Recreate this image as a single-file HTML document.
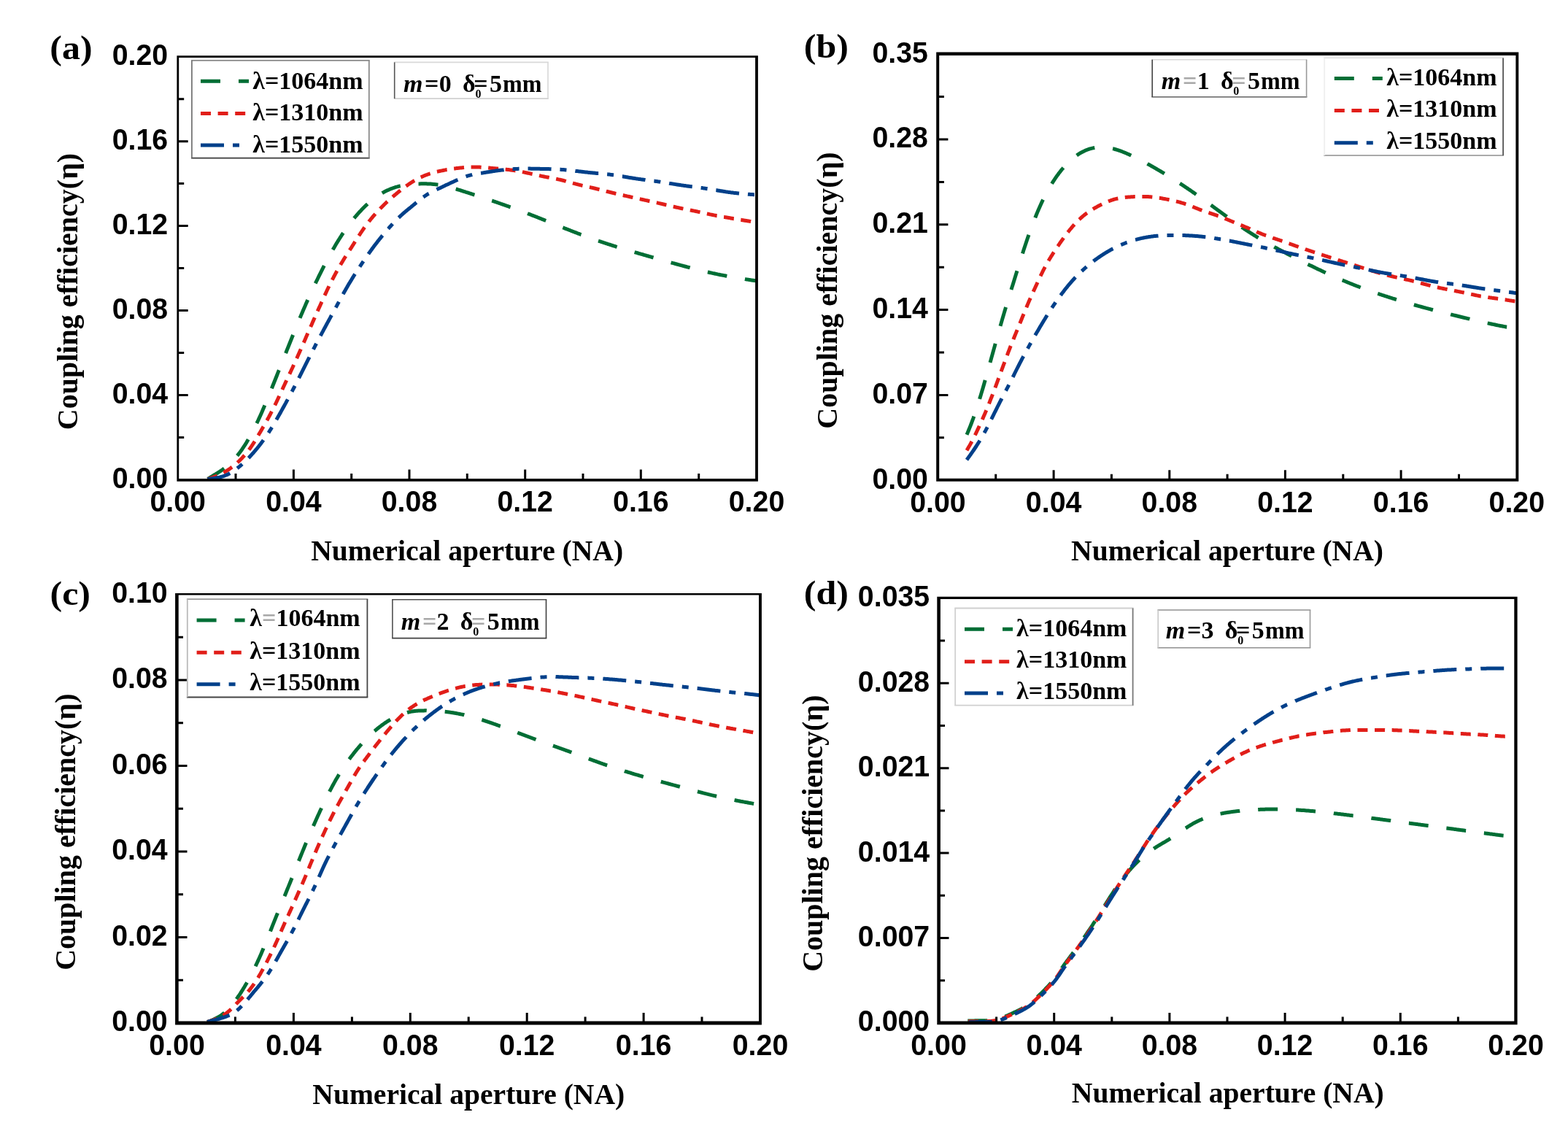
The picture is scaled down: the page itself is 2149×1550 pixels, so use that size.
<!DOCTYPE html>
<html><head><meta charset="utf-8"><title>Coupling efficiency vs numerical aperture</title>
<style>
html,body{margin:0;padding:0;background:#fff;}
svg{display:block;filter:blur(0.5px);}
.tl{font-family:"Liberation Sans",sans-serif;font-weight:bold;font-size:39.3px;fill:#000;}
.al{font-family:"Liberation Serif",serif;font-weight:bold;font-size:40px;fill:#000;}
.xl{font-family:"Liberation Serif",serif;font-weight:bold;font-size:39.6px;fill:#000;}
.pl{font-family:"Liberation Serif",serif;font-weight:bold;font-size:50px;fill:#000;}
.lg{font-family:"Liberation Serif",serif;font-weight:bold;font-size:34px;fill:#000;}
.an{font-family:"Liberation Serif",serif;font-weight:bold;font-size:34px;fill:#000;}
.gq{fill:#a8a8a8;}
.sub{font-family:"Liberation Serif",serif;font-weight:bold;font-size:16px;fill:#000;}
</style></head><body>
<svg width="2149" height="1550" viewBox="0 0 2149 1550">
<defs><clipPath id="clipa"><rect x="243.7" y="77.7" width="793.3" height="579.8"/></clipPath><clipPath id="clipb"><rect x="1285.4" y="74.2" width="793.4" height="584"/></clipPath><clipPath id="clipc"><rect x="242.5" y="814.5" width="799.5" height="587.5"/></clipPath><clipPath id="clipd"><rect x="1286.5" y="819.8" width="791" height="582.2"/></clipPath></defs>
<rect width="100%" height="100%" fill="#fff"/>
<g clip-path="url(#clipa)">
<path d="M284.5 656.5 L285.5 655.9 L286.5 655.3 L287.5 654.7 L288.5 654.1 L289.5 653.5 L290.5 652.9 L291.5 652.2 L292.5 651.6 L293.5 651 L294.5 650.4 L295.5 649.8 L296.5 649.2 L297.5 648.6 L298.5 648 L299.5 647.3 L300.5 646.7 L301.5 646 L302.5 645.4 L303.5 644.7 L304.5 644 L305.5 643.3 L306.5 642.5 L307.5 641.8 L308.5 641 L309.5 640.2 L310.5 639.4 L311.5 638.6 L312.5 637.7 L313.5 636.8 L314.5 635.9 L315.5 635 L316.5 634 L317.5 633 L318.5 632 L319.5 631 L320.5 629.9 L321.5 628.8 L322.5 627.7 L323.5 626.5 L324.5 625.3 L325.5 624.1 L326.5 622.9 L327.5 621.6 L328.5 620.3 L329.5 618.9 L330.5 617.6 L331.5 616.2 L332.5 614.7 L333.5 613.2 L334.5 611.7 L335.5 610.2 L336.5 608.6 L337.5 607 L338.5 605.3 L339.5 603.6 L340.5 601.9 L341.5 600.2 L342.5 598.4 L343.5 596.6 L344.5 594.7 L345.5 592.8 L346.5 590.9 L347.5 589 L348.5 587 L349.5 585 L350.5 583 L351.5 580.9 L352.5 578.8 L353.5 576.7 L354.5 574.5 L355.5 572.4 L356.5 570.2 L357.5 567.9 L358.5 565.7 L359.5 563.4 L360.5 561.1 L361.5 558.8 L362.5 556.4 L363.5 554 L364.5 551.7 L365.5 549.3 L366.5 546.8 L367.5 544.4 L368.5 541.9 L369.5 539.5 L370.5 537 L371.5 534.5 L372.5 532 L373.5 529.5 L374.5 527 L375.5 524.5 L376.5 522 L377.5 519.5 L378.5 517 L379.5 514.5 L380.5 511.9 L381.5 509.4 L382.5 506.9 L383.5 504.4 L384.5 501.9 L385.5 499.4 L386.5 496.8 L387.5 494.3 L388.5 491.8 L389.5 489.3 L390.5 486.8 L391.5 484.3 L392.5 481.8 L393.5 479.2 L394.5 476.7 L395.5 474.2 L396.5 471.7 L397.5 469.2 L398.5 466.7 L399.5 464.2 L400.5 461.7 L401.5 459.2 L402.5 456.8 L403.5 454.3 L404.5 451.8 L405.5 449.4 L406.5 446.9 L407.5 444.5 L408.5 442 L409.5 439.6 L410.5 437.2 L411.5 434.8 L412.5 432.4 L413.5 430 L414.5 427.7 L415.5 425.3 L416.5 423 L417.5 420.7 L418.5 418.4 L419.5 416.1 L420.5 413.9 L421.5 411.6 L422.5 409.4 L423.5 407.2 L424.5 405 L425.5 402.8 L426.5 400.6 L427.5 398.5 L428.5 396.3 L429.5 394.2 L430.5 392.1 L431.5 390 L432.5 387.9 L433.5 385.8 L434.5 383.8 L435.5 381.7 L436.5 379.7 L437.5 377.6 L438.5 375.6 L439.5 373.6 L440.5 371.6 L441.5 369.6 L442.5 367.7 L443.5 365.7 L444.5 363.8 L445.5 361.8 L446.5 359.9 L447.5 358 L448.5 356.1 L449.5 354.3 L450.5 352.4 L451.5 350.6 L452.5 348.8 L453.5 347 L454.5 345.2 L455.5 343.4 L456.5 341.6 L457.5 339.9 L458.5 338.2 L459.5 336.5 L460.5 334.8 L461.5 333.1 L462.5 331.5 L463.5 329.9 L464.5 328.3 L465.5 326.7 L466.5 325.1 L467.5 323.6 L468.5 322 L469.5 320.5 L470.5 319.1 L471.5 317.6 L472.5 316.1 L473.5 314.7 L474.5 313.3 L475.5 311.9 L476.5 310.5 L477.5 309.1 L478.5 307.8 L479.5 306.5 L480.5 305.2 L481.5 303.9 L482.5 302.6 L483.5 301.4 L484.5 300.1 L485.5 298.9 L486.5 297.7 L487.5 296.5 L488.5 295.3 L489.5 294.2 L490.5 293 L491.5 291.9 L492.5 290.8 L493.5 289.7 L494.5 288.7 L495.5 287.6 L496.5 286.6 L497.5 285.6 L498.5 284.6 L499.5 283.6 L500.5 282.6 L501.5 281.6 L502.5 280.7 L503.5 279.8 L504.5 278.9 L505.5 278 L506.5 277.1 L507.5 276.3 L508.5 275.4 L509.5 274.6 L510.5 273.8 L511.5 273 L512.5 272.2 L513.5 271.5 L514.5 270.7 L515.5 270 L516.5 269.3 L517.5 268.6 L518.5 267.9 L519.5 267.3 L520.5 266.6 L521.5 266 L522.5 265.4 L523.5 264.8 L524.5 264.2 L525.5 263.7 L526.5 263.1 L527.5 262.6 L528.5 262.1 L529.5 261.6 L530.5 261.1 L531.5 260.6 L532.5 260.2 L533.5 259.7 L534.5 259.3 L535.5 258.9 L536.5 258.5 L537.5 258.1 L538.5 257.8 L539.5 257.4 L540.5 257.1 L541.5 256.7 L542.5 256.4 L543.5 256.1 L544.5 255.9 L545.5 255.6 L546.5 255.3 L547.5 255.1 L548.5 254.8 L549.5 254.6 L550.5 254.4 L551.5 254.2 L552.5 254 L553.5 253.8 L554.5 253.6 L555.5 253.5 L556.5 253.3 L557.5 253.2 L558.5 253.1 L559.5 252.9 L560.5 252.8 L561.5 252.7 L562.5 252.6 L563.5 252.5 L564.5 252.4 L565.5 252.3 L566.5 252.3 L567.5 252.2 L568.5 252.1 L569.5 252.1 L570.5 252 L571.5 252 L572.5 252 L573.5 251.9 L574.5 251.9 L575.5 251.9 L576.5 251.8 L577.5 251.8 L578.5 251.8 L579.5 251.8 L580.5 251.8 L581.5 251.8 L582.5 251.8 L583.5 251.8 L584.5 251.8 L585.5 251.9 L586.5 251.9 L587.5 251.9 L588.5 252 L589.5 252 L590.5 252.1 L591.5 252.2 L592.5 252.3 L593.5 252.4 L594.5 252.4 L595.5 252.6 L596.5 252.7 L597.5 252.8 L598.5 252.9 L599.5 253.1 L600.5 253.2 L601.5 253.4 L602.5 253.5 L603.5 253.7 L604.5 253.9 L605.5 254.1 L606.5 254.3 L607.5 254.5 L608.5 254.7 L609.5 254.9 L610.5 255.1 L611.5 255.4 L612.5 255.6 L613.5 255.9 L614.5 256.1 L615.5 256.4 L616.5 256.6 L617.5 256.9 L618.5 257.2 L619.5 257.4 L620.5 257.7 L621.5 258 L622.5 258.3 L623.5 258.6 L624.5 258.9 L625.5 259.2 L626.5 259.5 L627.5 259.8 L628.5 260.1 L629.5 260.4 L630.5 260.7 L631.5 261 L632.5 261.3 L633.5 261.7 L634.5 262 L635.5 262.3 L636.5 262.6 L637.5 262.9 L638.5 263.3 L639.5 263.6 L640.5 263.9 L641.5 264.2 L642.5 264.5 L643.5 264.9 L644.5 265.2 L645.5 265.5 L646.5 265.8 L647.5 266.2 L648.5 266.5 L649.5 266.8 L650.5 267.1 L651.5 267.5 L652.5 267.8 L653.5 268.1 L654.5 268.4 L655.5 268.8 L656.5 269.1 L657.5 269.4 L658.5 269.8 L659.5 270.1 L660.5 270.4 L661.5 270.8 L662.5 271.1 L663.5 271.4 L664.5 271.8 L665.5 272.1 L666.5 272.4 L667.5 272.8 L668.5 273.1 L669.5 273.4 L670.5 273.8 L671.5 274.1 L672.5 274.5 L673.5 274.8 L674.5 275.1 L675.5 275.5 L676.5 275.8 L677.5 276.2 L678.5 276.5 L679.5 276.8 L680.5 277.2 L681.5 277.5 L682.5 277.9 L683.5 278.2 L684.5 278.6 L685.5 278.9 L686.5 279.3 L687.5 279.6 L688.5 280 L689.5 280.3 L690.5 280.7 L691.5 281 L692.5 281.4 L693.5 281.7 L694.5 282.1 L695.5 282.4 L696.5 282.8 L697.5 283.2 L698.5 283.5 L699.5 283.9 L700.5 284.2 L701.5 284.6 L702.5 285 L703.5 285.3 L704.5 285.7 L705.5 286.1 L706.5 286.4 L707.5 286.8 L708.5 287.2 L709.5 287.5 L710.5 287.9 L711.5 288.3 L712.5 288.6 L713.5 289 L714.5 289.4 L715.5 289.7 L716.5 290.1 L717.5 290.5 L718.5 290.9 L719.5 291.2 L720.5 291.6 L721.5 292 L722.5 292.4 L723.5 292.8 L724.5 293.1 L725.5 293.5 L726.5 293.9 L727.5 294.3 L728.5 294.7 L729.5 295.1 L730.5 295.5 L731.5 295.8 L732.5 296.2 L733.5 296.6 L734.5 297 L735.5 297.4 L736.5 297.8 L737.5 298.2 L738.5 298.6 L739.5 299 L740.5 299.4 L741.5 299.8 L742.5 300.2 L743.5 300.6 L744.5 301 L745.5 301.4 L746.5 301.8 L747.5 302.2 L748.5 302.6 L749.5 303 L750.5 303.4 L751.5 303.8 L752.5 304.2 L753.5 304.6 L754.5 305 L755.5 305.4 L756.5 305.8 L757.5 306.2 L758.5 306.6 L759.5 307 L760.5 307.4 L761.5 307.8 L762.5 308.2 L763.5 308.6 L764.5 309 L765.5 309.4 L766.5 309.8 L767.5 310.3 L768.5 310.7 L769.5 311.1 L770.5 311.5 L771.5 311.9 L772.5 312.3 L773.5 312.7 L774.5 313.1 L775.5 313.5 L776.5 313.8 L777.5 314.2 L778.5 314.6 L779.5 315 L780.5 315.4 L781.5 315.8 L782.5 316.2 L783.5 316.6 L784.5 317 L785.5 317.4 L786.5 317.8 L787.5 318.2 L788.5 318.5 L789.5 318.9 L790.5 319.3 L791.5 319.7 L792.5 320.1 L793.5 320.4 L794.5 320.8 L795.5 321.2 L796.5 321.6 L797.5 321.9 L798.5 322.3 L799.5 322.7 L800.5 323.1 L801.5 323.4 L802.5 323.8 L803.5 324.2 L804.5 324.5 L805.5 324.9 L806.5 325.3 L807.5 325.6 L808.5 326 L809.5 326.3 L810.5 326.7 L811.5 327.1 L812.5 327.4 L813.5 327.8 L814.5 328.1 L815.5 328.5 L816.5 328.8 L817.5 329.2 L818.5 329.5 L819.5 329.9 L820.5 330.2 L821.5 330.6 L822.5 330.9 L823.5 331.2 L824.5 331.6 L825.5 331.9 L826.5 332.2 L827.5 332.6 L828.5 332.9 L829.5 333.2 L830.5 333.6 L831.5 333.9 L832.5 334.2 L833.5 334.6 L834.5 334.9 L835.5 335.2 L836.5 335.5 L837.5 335.8 L838.5 336.2 L839.5 336.5 L840.5 336.8 L841.5 337.1 L842.5 337.4 L843.5 337.7 L844.5 338.1 L845.5 338.4 L846.5 338.7 L847.5 339 L848.5 339.3 L849.5 339.6 L850.5 339.9 L851.5 340.2 L852.5 340.5 L853.5 340.8 L854.5 341.1 L855.5 341.4 L856.5 341.7 L857.5 342 L858.5 342.3 L859.5 342.6 L860.5 342.9 L861.5 343.2 L862.5 343.5 L863.5 343.8 L864.5 344.1 L865.5 344.4 L866.5 344.7 L867.5 345 L868.5 345.3 L869.5 345.5 L870.5 345.8 L871.5 346.1 L872.5 346.4 L873.5 346.7 L874.5 347 L875.5 347.3 L876.5 347.6 L877.5 347.9 L878.5 348.2 L879.5 348.4 L880.5 348.7 L881.5 349 L882.5 349.3 L883.5 349.6 L884.5 349.9 L885.5 350.2 L886.5 350.5 L887.5 350.7 L888.5 351 L889.5 351.3 L890.5 351.6 L891.5 351.9 L892.5 352.2 L893.5 352.5 L894.5 352.7 L895.5 353 L896.5 353.3 L897.5 353.6 L898.5 353.9 L899.5 354.2 L900.5 354.5 L901.5 354.7 L902.5 355 L903.5 355.3 L904.5 355.6 L905.5 355.9 L906.5 356.2 L907.5 356.4 L908.5 356.7 L909.5 357 L910.5 357.3 L911.5 357.6 L912.5 357.9 L913.5 358.1 L914.5 358.4 L915.5 358.7 L916.5 359 L917.5 359.3 L918.5 359.5 L919.5 359.8 L920.5 360.1 L921.5 360.4 L922.5 360.6 L923.5 360.9 L924.5 361.2 L925.5 361.5 L926.5 361.7 L927.5 362 L928.5 362.3 L929.5 362.6 L930.5 362.8 L931.5 363.1 L932.5 363.4 L933.5 363.7 L934.5 363.9 L935.5 364.2 L936.5 364.5 L937.5 364.7 L938.5 365 L939.5 365.3 L940.5 365.5 L941.5 365.8 L942.5 366.1 L943.5 366.3 L944.5 366.6 L945.5 366.8 L946.5 367.1 L947.5 367.4 L948.5 367.6 L949.5 367.9 L950.5 368.1 L951.5 368.4 L952.5 368.7 L953.5 368.9 L954.5 369.2 L955.5 369.4 L956.5 369.7 L957.5 369.9 L958.5 370.2 L959.5 370.4 L960.5 370.6 L961.5 370.9 L962.5 371.1 L963.5 371.4 L964.5 371.6 L965.5 371.8 L966.5 372.1 L967.5 372.3 L968.5 372.6 L969.5 372.8 L970.5 373 L971.5 373.2 L972.5 373.5 L973.5 373.7 L974.5 373.9 L975.5 374.1 L976.5 374.4 L977.5 374.6 L978.5 374.8 L979.5 375 L980.5 375.2 L981.5 375.4 L982.5 375.6 L983.5 375.9 L984.5 376.1 L985.5 376.3 L986.5 376.5 L987.5 376.7 L988.5 376.9 L989.5 377.1 L990.5 377.2 L991.5 377.4 L992.5 377.6 L993.5 377.8 L994.5 378 L995.5 378.2 L996.5 378.4 L997.5 378.6 L998.5 378.7 L999.5 378.9 L1000.5 379.1 L1001.5 379.3 L1002.5 379.5 L1003.5 379.6 L1004.5 379.8 L1005.5 380 L1006.5 380.1 L1007.5 380.3 L1008.5 380.5 L1009.5 380.7 L1010.5 380.8 L1011.5 381 L1012.5 381.2 L1013.5 381.3 L1014.5 381.5 L1015.5 381.6 L1016.5 381.8 L1017.5 382 L1018.5 382.1 L1019.5 382.3 L1020.5 382.4 L1021.5 382.6 L1022.5 382.8 L1023.5 382.9 L1024.5 383.1 L1025.5 383.2 L1026.5 383.4 L1027.5 383.5 L1028.5 383.7 L1029.5 383.9 L1030.5 384 L1031.5 384.2 L1032.5 384.3 L1033.5 384.5 L1034.5 384.6 L1035.5 384.8 L1036.5 384.9 L1037 385" fill="none" stroke="#006E35" stroke-width="5.0" stroke-dasharray="27 25" stroke-linejoin="round"/>
<path d="M284.5 656.6 L285.5 656.3 L286.5 656 L287.5 655.6 L288.5 655.3 L289.5 655 L290.5 654.6 L291.5 654.3 L292.5 653.9 L293.5 653.5 L294.5 653.2 L295.5 652.8 L296.5 652.4 L297.5 652 L298.5 651.6 L299.5 651.1 L300.5 650.7 L301.5 650.2 L302.5 649.7 L303.5 649.3 L304.5 648.7 L305.5 648.2 L306.5 647.7 L307.5 647.1 L308.5 646.5 L309.5 645.9 L310.5 645.3 L311.5 644.7 L312.5 644.1 L313.5 643.4 L314.5 642.7 L315.5 642 L316.5 641.3 L317.5 640.5 L318.5 639.8 L319.5 639 L320.5 638.2 L321.5 637.4 L322.5 636.5 L323.5 635.6 L324.5 634.8 L325.5 633.9 L326.5 632.9 L327.5 632 L328.5 631 L329.5 630 L330.5 629 L331.5 628 L332.5 626.9 L333.5 625.8 L334.5 624.7 L335.5 623.6 L336.5 622.4 L337.5 621.2 L338.5 620 L339.5 618.7 L340.5 617.4 L341.5 616.1 L342.5 614.7 L343.5 613.3 L344.5 611.9 L345.5 610.4 L346.5 608.9 L347.5 607.3 L348.5 605.8 L349.5 604.2 L350.5 602.5 L351.5 600.9 L352.5 599.2 L353.5 597.5 L354.5 595.8 L355.5 594.1 L356.5 592.4 L357.5 590.7 L358.5 589 L359.5 587.3 L360.5 585.6 L361.5 583.9 L362.5 582.1 L363.5 580.4 L364.5 578.6 L365.5 576.8 L366.5 575.1 L367.5 573.2 L368.5 571.4 L369.5 569.5 L370.5 567.6 L371.5 565.7 L372.5 563.8 L373.5 561.8 L374.5 559.8 L375.5 557.8 L376.5 555.8 L377.5 553.8 L378.5 551.7 L379.5 549.6 L380.5 547.5 L381.5 545.4 L382.5 543.3 L383.5 541.1 L384.5 539 L385.5 536.8 L386.5 534.7 L387.5 532.5 L388.5 530.3 L389.5 528.2 L390.5 526 L391.5 523.9 L392.5 521.8 L393.5 519.6 L394.5 517.5 L395.5 515.4 L396.5 513.3 L397.5 511.1 L398.5 509 L399.5 506.8 L400.5 504.7 L401.5 502.5 L402.5 500.3 L403.5 498.1 L404.5 495.9 L405.5 493.7 L406.5 491.5 L407.5 489.3 L408.5 487 L409.5 484.8 L410.5 482.6 L411.5 480.3 L412.5 478 L413.5 475.8 L414.5 473.5 L415.5 471.2 L416.5 469 L417.5 466.7 L418.5 464.4 L419.5 462.1 L420.5 459.8 L421.5 457.5 L422.5 455.3 L423.5 453 L424.5 450.7 L425.5 448.4 L426.5 446.2 L427.5 443.9 L428.5 441.6 L429.5 439.4 L430.5 437.1 L431.5 434.9 L432.5 432.6 L433.5 430.4 L434.5 428.1 L435.5 425.9 L436.5 423.6 L437.5 421.4 L438.5 419.2 L439.5 416.9 L440.5 414.7 L441.5 412.5 L442.5 410.3 L443.5 408.1 L444.5 405.9 L445.5 403.7 L446.5 401.6 L447.5 399.5 L448.5 397.3 L449.5 395.2 L450.5 393.2 L451.5 391.1 L452.5 389.1 L453.5 387.1 L454.5 385.1 L455.5 383.2 L456.5 381.3 L457.5 379.3 L458.5 377.5 L459.5 375.6 L460.5 373.8 L461.5 371.9 L462.5 370.1 L463.5 368.4 L464.5 366.6 L465.5 364.9 L466.5 363.2 L467.5 361.5 L468.5 359.8 L469.5 358.2 L470.5 356.5 L471.5 354.9 L472.5 353.3 L473.5 351.7 L474.5 350.2 L475.5 348.6 L476.5 347 L477.5 345.5 L478.5 343.9 L479.5 342.4 L480.5 340.8 L481.5 339.3 L482.5 337.7 L483.5 336.1 L484.5 334.6 L485.5 333 L486.5 331.4 L487.5 329.8 L488.5 328.3 L489.5 326.7 L490.5 325.2 L491.5 323.6 L492.5 322.1 L493.5 320.6 L494.5 319 L495.5 317.6 L496.5 316.1 L497.5 314.7 L498.5 313.2 L499.5 311.8 L500.5 310.4 L501.5 309.1 L502.5 307.7 L503.5 306.4 L504.5 305.1 L505.5 303.8 L506.5 302.5 L507.5 301.3 L508.5 300 L509.5 298.8 L510.5 297.6 L511.5 296.4 L512.5 295.3 L513.5 294.1 L514.5 293 L515.5 291.8 L516.5 290.7 L517.5 289.7 L518.5 288.6 L519.5 287.5 L520.5 286.5 L521.5 285.4 L522.5 284.4 L523.5 283.4 L524.5 282.4 L525.5 281.4 L526.5 280.4 L527.5 279.5 L528.5 278.5 L529.5 277.6 L530.5 276.6 L531.5 275.7 L532.5 274.8 L533.5 273.9 L534.5 273 L535.5 272.1 L536.5 271.2 L537.5 270.4 L538.5 269.5 L539.5 268.6 L540.5 267.8 L541.5 267 L542.5 266.1 L543.5 265.3 L544.5 264.4 L545.5 263.6 L546.5 262.8 L547.5 262 L548.5 261.2 L549.5 260.4 L550.5 259.6 L551.5 258.8 L552.5 258.1 L553.5 257.3 L554.5 256.6 L555.5 255.8 L556.5 255.1 L557.5 254.4 L558.5 253.7 L559.5 253 L560.5 252.3 L561.5 251.6 L562.5 251 L563.5 250.3 L564.5 249.7 L565.5 249 L566.5 248.4 L567.5 247.8 L568.5 247.3 L569.5 246.7 L570.5 246.1 L571.5 245.6 L572.5 245 L573.5 244.5 L574.5 244 L575.5 243.5 L576.5 243 L577.5 242.6 L578.5 242.1 L579.5 241.7 L580.5 241.2 L581.5 240.8 L582.5 240.4 L583.5 240 L584.5 239.6 L585.5 239.3 L586.5 238.9 L587.5 238.6 L588.5 238.2 L589.5 237.9 L590.5 237.6 L591.5 237.3 L592.5 237 L593.5 236.7 L594.5 236.4 L595.5 236.2 L596.5 235.9 L597.5 235.6 L598.5 235.4 L599.5 235.2 L600.5 234.9 L601.5 234.7 L602.5 234.5 L603.5 234.3 L604.5 234.1 L605.5 233.9 L606.5 233.7 L607.5 233.5 L608.5 233.3 L609.5 233.1 L610.5 232.9 L611.5 232.7 L612.5 232.5 L613.5 232.4 L614.5 232.2 L615.5 232 L616.5 231.9 L617.5 231.7 L618.5 231.6 L619.5 231.4 L620.5 231.3 L621.5 231.1 L622.5 231 L623.5 230.9 L624.5 230.8 L625.5 230.6 L626.5 230.5 L627.5 230.4 L628.5 230.3 L629.5 230.2 L630.5 230.1 L631.5 230 L632.5 229.9 L633.5 229.8 L634.5 229.7 L635.5 229.6 L636.5 229.5 L637.5 229.4 L638.5 229.4 L639.5 229.3 L640.5 229.2 L641.5 229.2 L642.5 229.1 L643.5 229.1 L644.5 229 L645.5 229 L646.5 229 L647.5 229 L648.5 228.9 L649.5 228.9 L650.5 228.9 L651.5 228.9 L652.5 229 L653.5 229 L654.5 229 L655.5 229 L656.5 229.1 L657.5 229.1 L658.5 229.2 L659.5 229.2 L660.5 229.3 L661.5 229.4 L662.5 229.4 L663.5 229.5 L664.5 229.6 L665.5 229.7 L666.5 229.8 L667.5 229.9 L668.5 229.9 L669.5 230 L670.5 230.1 L671.5 230.2 L672.5 230.3 L673.5 230.4 L674.5 230.5 L675.5 230.6 L676.5 230.7 L677.5 230.8 L678.5 230.8 L679.5 230.9 L680.5 231 L681.5 231.1 L682.5 231.2 L683.5 231.3 L684.5 231.3 L685.5 231.4 L686.5 231.5 L687.5 231.6 L688.5 231.7 L689.5 231.8 L690.5 231.9 L691.5 232 L692.5 232.1 L693.5 232.2 L694.5 232.3 L695.5 232.4 L696.5 232.5 L697.5 232.6 L698.5 232.8 L699.5 232.9 L700.5 233 L701.5 233.2 L702.5 233.3 L703.5 233.4 L704.5 233.6 L705.5 233.8 L706.5 233.9 L707.5 234.1 L708.5 234.3 L709.5 234.4 L710.5 234.6 L711.5 234.8 L712.5 235 L713.5 235.2 L714.5 235.3 L715.5 235.5 L716.5 235.7 L717.5 235.9 L718.5 236.1 L719.5 236.3 L720.5 236.6 L721.5 236.8 L722.5 237 L723.5 237.2 L724.5 237.4 L725.5 237.6 L726.5 237.8 L727.5 238.1 L728.5 238.3 L729.5 238.5 L730.5 238.7 L731.5 239 L732.5 239.2 L733.5 239.4 L734.5 239.6 L735.5 239.8 L736.5 240.1 L737.5 240.3 L738.5 240.5 L739.5 240.7 L740.5 240.9 L741.5 241.2 L742.5 241.4 L743.5 241.6 L744.5 241.8 L745.5 242 L746.5 242.2 L747.5 242.4 L748.5 242.6 L749.5 242.8 L750.5 243 L751.5 243.1 L752.5 243.3 L753.5 243.5 L754.5 243.7 L755.5 243.9 L756.5 244.1 L757.5 244.3 L758.5 244.5 L759.5 244.6 L760.5 244.8 L761.5 245 L762.5 245.2 L763.5 245.4 L764.5 245.7 L765.5 245.9 L766.5 246.1 L767.5 246.3 L768.5 246.5 L769.5 246.8 L770.5 247 L771.5 247.3 L772.5 247.5 L773.5 247.8 L774.5 248.1 L775.5 248.3 L776.5 248.6 L777.5 248.9 L778.5 249.1 L779.5 249.4 L780.5 249.7 L781.5 250 L782.5 250.3 L783.5 250.5 L784.5 250.8 L785.5 251.1 L786.5 251.4 L787.5 251.6 L788.5 251.9 L789.5 252.2 L790.5 252.4 L791.5 252.7 L792.5 252.9 L793.5 253.2 L794.5 253.4 L795.5 253.7 L796.5 253.9 L797.5 254.2 L798.5 254.4 L799.5 254.6 L800.5 254.8 L801.5 255.1 L802.5 255.3 L803.5 255.5 L804.5 255.7 L805.5 256 L806.5 256.2 L807.5 256.4 L808.5 256.6 L809.5 256.8 L810.5 257.1 L811.5 257.3 L812.5 257.5 L813.5 257.8 L814.5 258 L815.5 258.2 L816.5 258.5 L817.5 258.7 L818.5 259 L819.5 259.2 L820.5 259.5 L821.5 259.7 L822.5 260 L823.5 260.2 L824.5 260.5 L825.5 260.7 L826.5 261 L827.5 261.2 L828.5 261.5 L829.5 261.7 L830.5 262 L831.5 262.3 L832.5 262.5 L833.5 262.8 L834.5 263 L835.5 263.3 L836.5 263.5 L837.5 263.8 L838.5 264 L839.5 264.3 L840.5 264.5 L841.5 264.7 L842.5 265 L843.5 265.2 L844.5 265.4 L845.5 265.7 L846.5 265.9 L847.5 266.1 L848.5 266.4 L849.5 266.6 L850.5 266.8 L851.5 267.1 L852.5 267.3 L853.5 267.5 L854.5 267.7 L855.5 268 L856.5 268.2 L857.5 268.4 L858.5 268.6 L859.5 268.9 L860.5 269.1 L861.5 269.3 L862.5 269.5 L863.5 269.8 L864.5 270 L865.5 270.2 L866.5 270.4 L867.5 270.6 L868.5 270.9 L869.5 271.1 L870.5 271.3 L871.5 271.5 L872.5 271.7 L873.5 272 L874.5 272.2 L875.5 272.4 L876.5 272.6 L877.5 272.8 L878.5 273.1 L879.5 273.3 L880.5 273.5 L881.5 273.7 L882.5 273.9 L883.5 274.2 L884.5 274.4 L885.5 274.6 L886.5 274.8 L887.5 275 L888.5 275.3 L889.5 275.5 L890.5 275.7 L891.5 275.9 L892.5 276.1 L893.5 276.4 L894.5 276.6 L895.5 276.8 L896.5 277 L897.5 277.2 L898.5 277.5 L899.5 277.7 L900.5 277.9 L901.5 278.1 L902.5 278.4 L903.5 278.6 L904.5 278.8 L905.5 279.1 L906.5 279.3 L907.5 279.5 L908.5 279.8 L909.5 280 L910.5 280.2 L911.5 280.5 L912.5 280.7 L913.5 280.9 L914.5 281.2 L915.5 281.4 L916.5 281.7 L917.5 281.9 L918.5 282.1 L919.5 282.4 L920.5 282.6 L921.5 282.8 L922.5 283.1 L923.5 283.3 L924.5 283.5 L925.5 283.7 L926.5 284 L927.5 284.2 L928.5 284.4 L929.5 284.6 L930.5 284.8 L931.5 285.1 L932.5 285.3 L933.5 285.5 L934.5 285.7 L935.5 285.9 L936.5 286.1 L937.5 286.3 L938.5 286.5 L939.5 286.7 L940.5 286.9 L941.5 287.1 L942.5 287.3 L943.5 287.5 L944.5 287.7 L945.5 287.9 L946.5 288.1 L947.5 288.3 L948.5 288.5 L949.5 288.7 L950.5 288.9 L951.5 289.1 L952.5 289.3 L953.5 289.5 L954.5 289.7 L955.5 289.9 L956.5 290.2 L957.5 290.4 L958.5 290.6 L959.5 290.8 L960.5 291 L961.5 291.3 L962.5 291.5 L963.5 291.7 L964.5 291.9 L965.5 292.1 L966.5 292.4 L967.5 292.6 L968.5 292.8 L969.5 293 L970.5 293.2 L971.5 293.4 L972.5 293.7 L973.5 293.9 L974.5 294.1 L975.5 294.3 L976.5 294.5 L977.5 294.7 L978.5 294.9 L979.5 295.1 L980.5 295.3 L981.5 295.5 L982.5 295.7 L983.5 295.8 L984.5 296 L985.5 296.2 L986.5 296.4 L987.5 296.6 L988.5 296.7 L989.5 296.9 L990.5 297.1 L991.5 297.3 L992.5 297.4 L993.5 297.6 L994.5 297.8 L995.5 298 L996.5 298.1 L997.5 298.3 L998.5 298.5 L999.5 298.6 L1000.5 298.8 L1001.5 299 L1002.5 299.2 L1003.5 299.3 L1004.5 299.5 L1005.5 299.7 L1006.5 299.8 L1007.5 300 L1008.5 300.2 L1009.5 300.3 L1010.5 300.5 L1011.5 300.7 L1012.5 300.8 L1013.5 301 L1014.5 301.2 L1015.5 301.3 L1016.5 301.5 L1017.5 301.7 L1018.5 301.8 L1019.5 302 L1020.5 302.2 L1021.5 302.3 L1022.5 302.5 L1023.5 302.6 L1024.5 302.8 L1025.5 303 L1026.5 303.1 L1027.5 303.3 L1028.5 303.4 L1029.5 303.6 L1030.5 303.8 L1031.5 303.9 L1032.5 304.1 L1033.5 304.2 L1034.5 304.4 L1035.5 304.6 L1036.5 304.7 L1037 304.8" fill="none" stroke="#E11E19" stroke-width="5.0" stroke-dasharray="14 9.6" stroke-linejoin="round"/>
<path d="M284.5 656.6 L285.5 656.5 L286.5 656.4 L287.5 656.3 L288.5 656.2 L289.5 656.1 L290.5 655.9 L291.5 655.8 L292.5 655.7 L293.5 655.5 L294.5 655.4 L295.5 655.2 L296.5 655 L297.5 654.8 L298.5 654.6 L299.5 654.4 L300.5 654.2 L301.5 654 L302.5 653.7 L303.5 653.4 L304.5 653.1 L305.5 652.8 L306.5 652.5 L307.5 652.1 L308.5 651.7 L309.5 651.3 L310.5 650.9 L311.5 650.4 L312.5 649.9 L313.5 649.4 L314.5 648.9 L315.5 648.3 L316.5 647.7 L317.5 647.1 L318.5 646.5 L319.5 645.8 L320.5 645.2 L321.5 644.5 L322.5 643.8 L323.5 643 L324.5 642.3 L325.5 641.5 L326.5 640.7 L327.5 639.9 L328.5 639.1 L329.5 638.2 L330.5 637.4 L331.5 636.5 L332.5 635.6 L333.5 634.7 L334.5 633.7 L335.5 632.8 L336.5 631.8 L337.5 630.9 L338.5 629.9 L339.5 628.8 L340.5 627.8 L341.5 626.8 L342.5 625.7 L343.5 624.6 L344.5 623.5 L345.5 622.4 L346.5 621.3 L347.5 620.2 L348.5 619 L349.5 617.9 L350.5 616.7 L351.5 615.5 L352.5 614.3 L353.5 613 L354.5 611.8 L355.5 610.5 L356.5 609.2 L357.5 607.9 L358.5 606.6 L359.5 605.3 L360.5 603.9 L361.5 602.5 L362.5 601.1 L363.5 599.7 L364.5 598.3 L365.5 596.8 L366.5 595.3 L367.5 593.8 L368.5 592.3 L369.5 590.7 L370.5 589.2 L371.5 587.6 L372.5 585.9 L373.5 584.3 L374.5 582.6 L375.5 580.9 L376.5 579.2 L377.5 577.5 L378.5 575.8 L379.5 574 L380.5 572.3 L381.5 570.5 L382.5 568.8 L383.5 567 L384.5 565.2 L385.5 563.4 L386.5 561.6 L387.5 559.8 L388.5 558 L389.5 556.2 L390.5 554.4 L391.5 552.6 L392.5 550.7 L393.5 548.9 L394.5 547.1 L395.5 545.2 L396.5 543.4 L397.5 541.5 L398.5 539.6 L399.5 537.7 L400.5 535.8 L401.5 533.9 L402.5 532 L403.5 530.1 L404.5 528.1 L405.5 526.2 L406.5 524.2 L407.5 522.3 L408.5 520.3 L409.5 518.3 L410.5 516.3 L411.5 514.3 L412.5 512.3 L413.5 510.3 L414.5 508.4 L415.5 506.4 L416.5 504.4 L417.5 502.4 L418.5 500.4 L419.5 498.4 L420.5 496.4 L421.5 494.4 L422.5 492.4 L423.5 490.5 L424.5 488.5 L425.5 486.5 L426.5 484.6 L427.5 482.6 L428.5 480.7 L429.5 478.7 L430.5 476.8 L431.5 474.9 L432.5 472.9 L433.5 471 L434.5 469.1 L435.5 467.2 L436.5 465.3 L437.5 463.4 L438.5 461.6 L439.5 459.7 L440.5 457.8 L441.5 455.9 L442.5 454.1 L443.5 452.2 L444.5 450.3 L445.5 448.5 L446.5 446.6 L447.5 444.8 L448.5 442.9 L449.5 441.1 L450.5 439.3 L451.5 437.4 L452.5 435.6 L453.5 433.7 L454.5 431.9 L455.5 430.1 L456.5 428.2 L457.5 426.4 L458.5 424.6 L459.5 422.7 L460.5 420.9 L461.5 419.1 L462.5 417.2 L463.5 415.4 L464.5 413.5 L465.5 411.7 L466.5 409.9 L467.5 408 L468.5 406.2 L469.5 404.4 L470.5 402.6 L471.5 400.8 L472.5 399 L473.5 397.3 L474.5 395.5 L475.5 393.8 L476.5 392 L477.5 390.3 L478.5 388.6 L479.5 387 L480.5 385.3 L481.5 383.7 L482.5 382 L483.5 380.4 L484.5 378.8 L485.5 377.2 L486.5 375.7 L487.5 374.1 L488.5 372.5 L489.5 371 L490.5 369.4 L491.5 367.9 L492.5 366.4 L493.5 364.9 L494.5 363.4 L495.5 361.9 L496.5 360.4 L497.5 358.9 L498.5 357.4 L499.5 355.9 L500.5 354.5 L501.5 353 L502.5 351.6 L503.5 350.1 L504.5 348.7 L505.5 347.3 L506.5 345.9 L507.5 344.5 L508.5 343.1 L509.5 341.7 L510.5 340.3 L511.5 339 L512.5 337.6 L513.5 336.3 L514.5 335 L515.5 333.7 L516.5 332.4 L517.5 331.1 L518.5 329.8 L519.5 328.6 L520.5 327.3 L521.5 326.1 L522.5 324.9 L523.5 323.6 L524.5 322.4 L525.5 321.2 L526.5 320 L527.5 318.9 L528.5 317.7 L529.5 316.5 L530.5 315.4 L531.5 314.2 L532.5 313.1 L533.5 311.9 L534.5 310.8 L535.5 309.7 L536.5 308.6 L537.5 307.5 L538.5 306.4 L539.5 305.3 L540.5 304.2 L541.5 303.2 L542.5 302.1 L543.5 301.1 L544.5 300.1 L545.5 299.1 L546.5 298.2 L547.5 297.2 L548.5 296.3 L549.5 295.4 L550.5 294.5 L551.5 293.6 L552.5 292.7 L553.5 291.8 L554.5 291 L555.5 290.1 L556.5 289.3 L557.5 288.5 L558.5 287.6 L559.5 286.8 L560.5 286 L561.5 285.2 L562.5 284.4 L563.5 283.6 L564.5 282.7 L565.5 281.9 L566.5 281.1 L567.5 280.3 L568.5 279.5 L569.5 278.6 L570.5 277.8 L571.5 277 L572.5 276.2 L573.5 275.3 L574.5 274.5 L575.5 273.7 L576.5 272.9 L577.5 272.1 L578.5 271.4 L579.5 270.6 L580.5 269.9 L581.5 269.2 L582.5 268.5 L583.5 267.8 L584.5 267.2 L585.5 266.5 L586.5 265.9 L587.5 265.3 L588.5 264.8 L589.5 264.2 L590.5 263.7 L591.5 263.2 L592.5 262.6 L593.5 262.1 L594.5 261.7 L595.5 261.2 L596.5 260.7 L597.5 260.2 L598.5 259.7 L599.5 259.3 L600.5 258.8 L601.5 258.3 L602.5 257.9 L603.5 257.4 L604.5 256.9 L605.5 256.5 L606.5 256 L607.5 255.5 L608.5 255 L609.5 254.6 L610.5 254.1 L611.5 253.6 L612.5 253.1 L613.5 252.7 L614.5 252.2 L615.5 251.7 L616.5 251.3 L617.5 250.8 L618.5 250.3 L619.5 249.9 L620.5 249.4 L621.5 249 L622.5 248.5 L623.5 248 L624.5 247.6 L625.5 247.1 L626.5 246.7 L627.5 246.3 L628.5 245.8 L629.5 245.4 L630.5 245 L631.5 244.5 L632.5 244.1 L633.5 243.7 L634.5 243.3 L635.5 243 L636.5 242.6 L637.5 242.2 L638.5 241.9 L639.5 241.5 L640.5 241.2 L641.5 240.9 L642.5 240.6 L643.5 240.3 L644.5 240.1 L645.5 239.8 L646.5 239.6 L647.5 239.3 L648.5 239.1 L649.5 238.9 L650.5 238.7 L651.5 238.5 L652.5 238.4 L653.5 238.2 L654.5 238 L655.5 237.9 L656.5 237.7 L657.5 237.6 L658.5 237.4 L659.5 237.3 L660.5 237.1 L661.5 236.9 L662.5 236.8 L663.5 236.6 L664.5 236.5 L665.5 236.3 L666.5 236.1 L667.5 236 L668.5 235.8 L669.5 235.7 L670.5 235.5 L671.5 235.3 L672.5 235.2 L673.5 235 L674.5 234.9 L675.5 234.7 L676.5 234.6 L677.5 234.4 L678.5 234.3 L679.5 234.1 L680.5 234 L681.5 233.8 L682.5 233.7 L683.5 233.6 L684.5 233.5 L685.5 233.3 L686.5 233.2 L687.5 233.1 L688.5 233 L689.5 232.9 L690.5 232.8 L691.5 232.6 L692.5 232.5 L693.5 232.4 L694.5 232.4 L695.5 232.3 L696.5 232.2 L697.5 232.1 L698.5 232 L699.5 231.9 L700.5 231.9 L701.5 231.8 L702.5 231.7 L703.5 231.7 L704.5 231.6 L705.5 231.6 L706.5 231.5 L707.5 231.5 L708.5 231.4 L709.5 231.4 L710.5 231.3 L711.5 231.3 L712.5 231.3 L713.5 231.2 L714.5 231.2 L715.5 231.2 L716.5 231.2 L717.5 231.2 L718.5 231.2 L719.5 231.2 L720.5 231.1 L721.5 231.1 L722.5 231.1 L723.5 231.1 L724.5 231.1 L725.5 231.1 L726.5 231.1 L727.5 231.2 L728.5 231.2 L729.5 231.2 L730.5 231.2 L731.5 231.2 L732.5 231.2 L733.5 231.2 L734.5 231.2 L735.5 231.3 L736.5 231.3 L737.5 231.3 L738.5 231.3 L739.5 231.3 L740.5 231.4 L741.5 231.4 L742.5 231.4 L743.5 231.4 L744.5 231.4 L745.5 231.5 L746.5 231.5 L747.5 231.5 L748.5 231.5 L749.5 231.6 L750.5 231.6 L751.5 231.6 L752.5 231.6 L753.5 231.7 L754.5 231.7 L755.5 231.7 L756.5 231.8 L757.5 231.8 L758.5 231.8 L759.5 231.9 L760.5 231.9 L761.5 232 L762.5 232 L763.5 232.1 L764.5 232.1 L765.5 232.2 L766.5 232.2 L767.5 232.3 L768.5 232.3 L769.5 232.4 L770.5 232.5 L771.5 232.5 L772.5 232.6 L773.5 232.7 L774.5 232.8 L775.5 232.9 L776.5 233 L777.5 233.1 L778.5 233.2 L779.5 233.3 L780.5 233.4 L781.5 233.5 L782.5 233.6 L783.5 233.7 L784.5 233.8 L785.5 233.9 L786.5 234 L787.5 234.1 L788.5 234.3 L789.5 234.4 L790.5 234.5 L791.5 234.6 L792.5 234.7 L793.5 234.9 L794.5 235 L795.5 235.1 L796.5 235.2 L797.5 235.3 L798.5 235.5 L799.5 235.6 L800.5 235.7 L801.5 235.8 L802.5 235.9 L803.5 236 L804.5 236.1 L805.5 236.2 L806.5 236.4 L807.5 236.5 L808.5 236.6 L809.5 236.7 L810.5 236.7 L811.5 236.8 L812.5 236.9 L813.5 237 L814.5 237.1 L815.5 237.2 L816.5 237.3 L817.5 237.4 L818.5 237.5 L819.5 237.6 L820.5 237.6 L821.5 237.7 L822.5 237.8 L823.5 237.9 L824.5 238 L825.5 238.1 L826.5 238.2 L827.5 238.3 L828.5 238.4 L829.5 238.5 L830.5 238.6 L831.5 238.7 L832.5 238.8 L833.5 238.9 L834.5 239 L835.5 239.1 L836.5 239.3 L837.5 239.4 L838.5 239.5 L839.5 239.7 L840.5 239.8 L841.5 239.9 L842.5 240.1 L843.5 240.2 L844.5 240.4 L845.5 240.5 L846.5 240.7 L847.5 240.8 L848.5 241 L849.5 241.2 L850.5 241.3 L851.5 241.5 L852.5 241.7 L853.5 241.8 L854.5 242 L855.5 242.2 L856.5 242.3 L857.5 242.5 L858.5 242.7 L859.5 242.8 L860.5 243 L861.5 243.2 L862.5 243.4 L863.5 243.5 L864.5 243.7 L865.5 243.8 L866.5 244 L867.5 244.2 L868.5 244.3 L869.5 244.5 L870.5 244.6 L871.5 244.8 L872.5 244.9 L873.5 245.1 L874.5 245.2 L875.5 245.4 L876.5 245.5 L877.5 245.6 L878.5 245.8 L879.5 245.9 L880.5 246 L881.5 246.2 L882.5 246.3 L883.5 246.4 L884.5 246.6 L885.5 246.7 L886.5 246.8 L887.5 246.9 L888.5 247.1 L889.5 247.2 L890.5 247.3 L891.5 247.5 L892.5 247.6 L893.5 247.7 L894.5 247.8 L895.5 248 L896.5 248.1 L897.5 248.2 L898.5 248.4 L899.5 248.5 L900.5 248.6 L901.5 248.8 L902.5 248.9 L903.5 249.1 L904.5 249.2 L905.5 249.4 L906.5 249.5 L907.5 249.7 L908.5 249.8 L909.5 250 L910.5 250.1 L911.5 250.3 L912.5 250.4 L913.5 250.6 L914.5 250.8 L915.5 250.9 L916.5 251.1 L917.5 251.3 L918.5 251.4 L919.5 251.6 L920.5 251.7 L921.5 251.9 L922.5 252.1 L923.5 252.2 L924.5 252.4 L925.5 252.6 L926.5 252.7 L927.5 252.9 L928.5 253 L929.5 253.2 L930.5 253.3 L931.5 253.5 L932.5 253.6 L933.5 253.8 L934.5 253.9 L935.5 254.1 L936.5 254.2 L937.5 254.4 L938.5 254.5 L939.5 254.6 L940.5 254.8 L941.5 254.9 L942.5 255 L943.5 255.2 L944.5 255.3 L945.5 255.4 L946.5 255.6 L947.5 255.7 L948.5 255.8 L949.5 255.9 L950.5 256.1 L951.5 256.2 L952.5 256.3 L953.5 256.5 L954.5 256.6 L955.5 256.7 L956.5 256.8 L957.5 257 L958.5 257.1 L959.5 257.2 L960.5 257.4 L961.5 257.5 L962.5 257.6 L963.5 257.8 L964.5 257.9 L965.5 258.1 L966.5 258.2 L967.5 258.4 L968.5 258.5 L969.5 258.7 L970.5 258.8 L971.5 259 L972.5 259.2 L973.5 259.3 L974.5 259.5 L975.5 259.6 L976.5 259.8 L977.5 260 L978.5 260.1 L979.5 260.3 L980.5 260.5 L981.5 260.6 L982.5 260.8 L983.5 261 L984.5 261.2 L985.5 261.3 L986.5 261.5 L987.5 261.7 L988.5 261.8 L989.5 262 L990.5 262.1 L991.5 262.3 L992.5 262.5 L993.5 262.6 L994.5 262.8 L995.5 262.9 L996.5 263.1 L997.5 263.2 L998.5 263.4 L999.5 263.5 L1000.5 263.6 L1001.5 263.8 L1002.5 263.9 L1003.5 264 L1004.5 264.1 L1005.5 264.3 L1006.5 264.4 L1007.5 264.5 L1008.5 264.6 L1009.5 264.7 L1010.5 264.8 L1011.5 264.9 L1012.5 265 L1013.5 265.1 L1014.5 265.2 L1015.5 265.3 L1016.5 265.4 L1017.5 265.5 L1018.5 265.6 L1019.5 265.7 L1020.5 265.8 L1021.5 265.8 L1022.5 265.9 L1023.5 266 L1024.5 266.1 L1025.5 266.2 L1026.5 266.2 L1027.5 266.3 L1028.5 266.4 L1029.5 266.5 L1030.5 266.5 L1031.5 266.6 L1032.5 266.7 L1033.5 266.8 L1034.5 266.8 L1035.5 266.9 L1036.5 267 L1037 267" fill="none" stroke="#00408A" stroke-width="5.0" stroke-dasharray="32 12 9 12" stroke-linejoin="round"/>
</g>
<path d="M242.4 76.3H1038.9V79.1H242.4Z M242.4 655.9H1038.9V659.7H242.4Z M242.4 76.3H245.2V659.7H242.4Z M1035.1 76.3H1038.9V659.7H1035.1Z" fill="#000"/>
<path d="M243.7 599.5H252.2 M323 657.5V649 M243.7 541.5H257.7 M402.4 657.5V643.5 M243.7 483.6H252.2 M481.7 657.5V649 M243.7 425.6H257.7 M561 657.5V643.5 M243.7 367.6H252.2 M640.3 657.5V649 M243.7 309.6H257.7 M719.7 657.5V643.5 M243.7 251.6H252.2 M799 657.5V649 M243.7 193.7H257.7 M878.3 657.5V643.5 M243.7 135.7H252.2 M957.7 657.5V649" stroke="#000" stroke-width="3" fill="none"/>
<text transform="translate(230.2 668.9) scale(1 1.045)" class="tl" text-anchor="end">0.00</text>
<text transform="translate(230.2 552.9) scale(1 1.045)" class="tl" text-anchor="end">0.04</text>
<text transform="translate(230.2 437) scale(1 1.045)" class="tl" text-anchor="end">0.08</text>
<text transform="translate(230.2 321) scale(1 1.045)" class="tl" text-anchor="end">0.12</text>
<text transform="translate(230.2 205.1) scale(1 1.045)" class="tl" text-anchor="end">0.16</text>
<text transform="translate(230.2 89.1) scale(1 1.045)" class="tl" text-anchor="end">0.20</text>
<text transform="translate(243.7 701.4) scale(1 1.045)" class="tl" text-anchor="middle">0.00</text>
<text transform="translate(402.4 701.4) scale(1 1.045)" class="tl" text-anchor="middle">0.04</text>
<text transform="translate(561 701.4) scale(1 1.045)" class="tl" text-anchor="middle">0.08</text>
<text transform="translate(719.7 701.4) scale(1 1.045)" class="tl" text-anchor="middle">0.12</text>
<text transform="translate(878.3 701.4) scale(1 1.045)" class="tl" text-anchor="middle">0.16</text>
<text transform="translate(1037 701.4) scale(1 1.045)" class="tl" text-anchor="middle">0.20</text>
<g clip-path="url(#clipb)">
<path d="M1325 595.8 L1326 593.4 L1327 591 L1328 588.5 L1329 586.1 L1330 583.6 L1331 581 L1332 578.4 L1333 575.7 L1334 573 L1335 570.1 L1336 567.3 L1337 564.3 L1338 561.3 L1339 558.3 L1340 555.2 L1341 552 L1342 548.8 L1343 545.5 L1344 542.3 L1345 538.9 L1346 535.6 L1347 532.2 L1348 528.7 L1349 525.3 L1350 521.8 L1351 518.3 L1352 514.8 L1353 511.2 L1354 507.7 L1355 504.1 L1356 500.5 L1357 496.9 L1358 493.3 L1359 489.7 L1360 486.1 L1361 482.5 L1362 478.9 L1363 475.3 L1364 471.7 L1365 468.1 L1366 464.5 L1367 461 L1368 457.4 L1369 453.9 L1370 450.4 L1371 446.8 L1372 443.4 L1373 439.9 L1374 436.4 L1375 433 L1376 429.6 L1377 426.3 L1378 422.9 L1379 419.6 L1380 416.3 L1381 413 L1382 409.7 L1383 406.5 L1384 403.2 L1385 400 L1386 396.8 L1387 393.6 L1388 390.4 L1389 387.2 L1390 384 L1391 380.7 L1392 377.5 L1393 374.3 L1394 371.1 L1395 367.9 L1396 364.7 L1397 361.5 L1398 358.3 L1399 355.1 L1400 352 L1401 348.8 L1402 345.7 L1403 342.6 L1404 339.5 L1405 336.5 L1406 333.5 L1407 330.5 L1408 327.5 L1409 324.6 L1410 321.8 L1411 318.9 L1412 316.1 L1413 313.4 L1414 310.7 L1415 308 L1416 305.3 L1417 302.7 L1418 300.2 L1419 297.7 L1420 295.2 L1421 292.8 L1422 290.4 L1423 288 L1424 285.7 L1425 283.4 L1426 281.2 L1427 279 L1428 276.9 L1429 274.8 L1430 272.7 L1431 270.7 L1432 268.7 L1433 266.8 L1434 264.9 L1435 263 L1436 261.2 L1437 259.4 L1438 257.6 L1439 255.9 L1440 254.2 L1441 252.6 L1442 251 L1443 249.4 L1444 247.8 L1445 246.3 L1446 244.8 L1447 243.4 L1448 241.9 L1449 240.5 L1450 239.2 L1451 237.8 L1452 236.5 L1453 235.2 L1454 233.9 L1455 232.7 L1456 231.5 L1457 230.3 L1458 229.1 L1459 228 L1460 226.9 L1461 225.8 L1462 224.8 L1463 223.8 L1464 222.8 L1465 221.8 L1466 220.8 L1467 219.9 L1468 219 L1469 218.1 L1470 217.3 L1471 216.5 L1472 215.7 L1473 214.9 L1474 214.1 L1475 213.4 L1476 212.7 L1477 212 L1478 211.4 L1479 210.7 L1480 210.1 L1481 209.5 L1482 209 L1483 208.4 L1484 207.9 L1485 207.4 L1486 206.9 L1487 206.5 L1488 206 L1489 205.6 L1490 205.2 L1491 204.9 L1492 204.5 L1493 204.2 L1494 203.9 L1495 203.6 L1496 203.4 L1497 203.1 L1498 202.9 L1499 202.7 L1500 202.5 L1501 202.3 L1502 202.2 L1503 202.1 L1504 202 L1505 201.9 L1506 201.8 L1507 201.8 L1508 201.7 L1509 201.7 L1510 201.7 L1511 201.7 L1512 201.8 L1513 201.8 L1514 201.9 L1515 202 L1516 202.1 L1517 202.2 L1518 202.3 L1519 202.5 L1520 202.7 L1521 202.8 L1522 203 L1523 203.2 L1524 203.5 L1525 203.7 L1526 203.9 L1527 204.2 L1528 204.5 L1529 204.8 L1530 205 L1531 205.4 L1532 205.7 L1533 206 L1534 206.3 L1535 206.7 L1536 207 L1537 207.4 L1538 207.8 L1539 208.2 L1540 208.6 L1541 209 L1542 209.4 L1543 209.8 L1544 210.2 L1545 210.7 L1546 211.1 L1547 211.6 L1548 212 L1549 212.5 L1550 212.9 L1551 213.4 L1552 213.9 L1553 214.4 L1554 214.8 L1555 215.3 L1556 215.8 L1557 216.3 L1558 216.8 L1559 217.3 L1560 217.8 L1561 218.3 L1562 218.8 L1563 219.3 L1564 219.9 L1565 220.4 L1566 220.9 L1567 221.4 L1568 222 L1569 222.5 L1570 223 L1571 223.6 L1572 224.1 L1573 224.7 L1574 225.2 L1575 225.8 L1576 226.3 L1577 226.9 L1578 227.5 L1579 228 L1580 228.6 L1581 229.2 L1582 229.8 L1583 230.3 L1584 230.9 L1585 231.5 L1586 232.1 L1587 232.7 L1588 233.2 L1589 233.8 L1590 234.4 L1591 235 L1592 235.6 L1593 236.2 L1594 236.8 L1595 237.4 L1596 238 L1597 238.6 L1598 239.2 L1599 239.9 L1600 240.5 L1601 241.1 L1602 241.7 L1603 242.3 L1604 243 L1605 243.6 L1606 244.2 L1607 244.8 L1608 245.5 L1609 246.1 L1610 246.7 L1611 247.4 L1612 248 L1613 248.7 L1614 249.3 L1615 250 L1616 250.6 L1617 251.3 L1618 251.9 L1619 252.6 L1620 253.2 L1621 253.9 L1622 254.5 L1623 255.2 L1624 255.9 L1625 256.6 L1626 257.2 L1627 257.9 L1628 258.6 L1629 259.3 L1630 259.9 L1631 260.6 L1632 261.3 L1633 262 L1634 262.7 L1635 263.4 L1636 264.1 L1637 264.8 L1638 265.5 L1639 266.2 L1640 266.9 L1641 267.6 L1642 268.3 L1643 269 L1644 269.7 L1645 270.5 L1646 271.2 L1647 271.9 L1648 272.6 L1649 273.3 L1650 274.1 L1651 274.8 L1652 275.5 L1653 276.2 L1654 276.9 L1655 277.7 L1656 278.4 L1657 279.1 L1658 279.9 L1659 280.6 L1660 281.3 L1661 282 L1662 282.8 L1663 283.5 L1664 284.2 L1665 285 L1666 285.7 L1667 286.4 L1668 287.2 L1669 287.9 L1670 288.6 L1671 289.4 L1672 290.1 L1673 290.8 L1674 291.5 L1675 292.3 L1676 293 L1677 293.7 L1678 294.4 L1679 295.2 L1680 295.9 L1681 296.6 L1682 297.3 L1683 298.1 L1684 298.8 L1685 299.5 L1686 300.2 L1687 300.9 L1688 301.6 L1689 302.3 L1690 303 L1691 303.8 L1692 304.5 L1693 305.2 L1694 305.9 L1695 306.6 L1696 307.3 L1697 308 L1698 308.6 L1699 309.3 L1700 310 L1701 310.7 L1702 311.4 L1703 312.1 L1704 312.7 L1705 313.4 L1706 314.1 L1707 314.8 L1708 315.4 L1709 316.1 L1710 316.7 L1711 317.4 L1712 318 L1713 318.7 L1714 319.3 L1715 320 L1716 320.6 L1717 321.2 L1718 321.9 L1719 322.5 L1720 323.1 L1721 323.7 L1722 324.3 L1723 325 L1724 325.6 L1725 326.2 L1726 326.8 L1727 327.4 L1728 328 L1729 328.5 L1730 329.1 L1731 329.7 L1732 330.3 L1733 330.9 L1734 331.4 L1735 332 L1736 332.6 L1737 333.1 L1738 333.7 L1739 334.3 L1740 334.8 L1741 335.4 L1742 335.9 L1743 336.5 L1744 337 L1745 337.6 L1746 338.1 L1747 338.7 L1748 339.2 L1749 339.8 L1750 340.3 L1751 340.8 L1752 341.4 L1753 341.9 L1754 342.4 L1755 343 L1756 343.5 L1757 344 L1758 344.5 L1759 345.1 L1760 345.6 L1761 346.1 L1762 346.6 L1763 347.2 L1764 347.7 L1765 348.2 L1766 348.7 L1767 349.2 L1768 349.7 L1769 350.3 L1770 350.8 L1771 351.3 L1772 351.8 L1773 352.3 L1774 352.8 L1775 353.3 L1776 353.9 L1777 354.4 L1778 354.9 L1779 355.4 L1780 355.9 L1781 356.4 L1782 356.9 L1783 357.4 L1784 357.9 L1785 358.4 L1786 358.9 L1787 359.4 L1788 359.9 L1789 360.4 L1790 360.9 L1791 361.4 L1792 361.9 L1793 362.4 L1794 362.9 L1795 363.4 L1796 363.9 L1797 364.3 L1798 364.8 L1799 365.3 L1800 365.8 L1801 366.3 L1802 366.8 L1803 367.3 L1804 367.7 L1805 368.2 L1806 368.7 L1807 369.2 L1808 369.6 L1809 370.1 L1810 370.6 L1811 371.1 L1812 371.5 L1813 372 L1814 372.5 L1815 372.9 L1816 373.4 L1817 373.9 L1818 374.3 L1819 374.8 L1820 375.2 L1821 375.7 L1822 376.1 L1823 376.6 L1824 377 L1825 377.5 L1826 377.9 L1827 378.4 L1828 378.8 L1829 379.3 L1830 379.7 L1831 380.2 L1832 380.6 L1833 381 L1834 381.5 L1835 381.9 L1836 382.3 L1837 382.8 L1838 383.2 L1839 383.6 L1840 384 L1841 384.5 L1842 384.9 L1843 385.3 L1844 385.7 L1845 386.1 L1846 386.6 L1847 387 L1848 387.4 L1849 387.8 L1850 388.2 L1851 388.6 L1852 389 L1853 389.4 L1854 389.8 L1855 390.2 L1856 390.6 L1857 391 L1858 391.4 L1859 391.8 L1860 392.1 L1861 392.5 L1862 392.9 L1863 393.3 L1864 393.7 L1865 394.1 L1866 394.4 L1867 394.8 L1868 395.2 L1869 395.5 L1870 395.9 L1871 396.3 L1872 396.6 L1873 397 L1874 397.4 L1875 397.7 L1876 398.1 L1877 398.4 L1878 398.8 L1879 399.1 L1880 399.5 L1881 399.9 L1882 400.2 L1883 400.5 L1884 400.9 L1885 401.2 L1886 401.6 L1887 401.9 L1888 402.3 L1889 402.6 L1890 402.9 L1891 403.3 L1892 403.6 L1893 403.9 L1894 404.3 L1895 404.6 L1896 404.9 L1897 405.2 L1898 405.6 L1899 405.9 L1900 406.2 L1901 406.5 L1902 406.9 L1903 407.2 L1904 407.5 L1905 407.8 L1906 408.1 L1907 408.4 L1908 408.8 L1909 409.1 L1910 409.4 L1911 409.7 L1912 410 L1913 410.3 L1914 410.6 L1915 410.9 L1916 411.2 L1917 411.5 L1918 411.8 L1919 412.1 L1920 412.4 L1921 412.7 L1922 413 L1923 413.3 L1924 413.6 L1925 413.9 L1926 414.2 L1927 414.5 L1928 414.8 L1929 415.1 L1930 415.4 L1931 415.7 L1932 416 L1933 416.3 L1934 416.6 L1935 416.8 L1936 417.1 L1937 417.4 L1938 417.7 L1939 418 L1940 418.3 L1941 418.5 L1942 418.8 L1943 419.1 L1944 419.4 L1945 419.7 L1946 419.9 L1947 420.2 L1948 420.5 L1949 420.8 L1950 421 L1951 421.3 L1952 421.6 L1953 421.8 L1954 422.1 L1955 422.4 L1956 422.6 L1957 422.9 L1958 423.2 L1959 423.4 L1960 423.7 L1961 424 L1962 424.2 L1963 424.5 L1964 424.8 L1965 425 L1966 425.3 L1967 425.5 L1968 425.8 L1969 426 L1970 426.3 L1971 426.6 L1972 426.8 L1973 427.1 L1974 427.3 L1975 427.6 L1976 427.8 L1977 428.1 L1978 428.3 L1979 428.6 L1980 428.8 L1981 429.1 L1982 429.3 L1983 429.6 L1984 429.8 L1985 430.1 L1986 430.3 L1987 430.6 L1988 430.8 L1989 431.1 L1990 431.3 L1991 431.6 L1992 431.8 L1993 432.1 L1994 432.3 L1995 432.5 L1996 432.8 L1997 433 L1998 433.3 L1999 433.5 L2000 433.8 L2001 434 L2002 434.2 L2003 434.5 L2004 434.7 L2005 435 L2006 435.2 L2007 435.5 L2008 435.7 L2009 435.9 L2010 436.2 L2011 436.4 L2012 436.7 L2013 436.9 L2014 437.1 L2015 437.4 L2016 437.6 L2017 437.8 L2018 438.1 L2019 438.3 L2020 438.6 L2021 438.8 L2022 439 L2023 439.3 L2024 439.5 L2025 439.7 L2026 440 L2027 440.2 L2028 440.4 L2029 440.7 L2030 440.9 L2031 441.1 L2032 441.3 L2033 441.6 L2034 441.8 L2035 442 L2036 442.2 L2037 442.5 L2038 442.7 L2039 442.9 L2040 443.1 L2041 443.3 L2042 443.6 L2043 443.8 L2044 444 L2045 444.2 L2046 444.4 L2047 444.6 L2048 444.8 L2049 445 L2050 445.3 L2051 445.5 L2052 445.7 L2053 445.9 L2054 446.1 L2055 446.3 L2056 446.5 L2057 446.7 L2058 446.8 L2059 447 L2060 447.2 L2061 447.4 L2062 447.6 L2063 447.8 L2064 448 L2065 448.2 L2066 448.3 L2067 448.5 L2068 448.7 L2069 448.9 L2070 449.1 L2071 449.2 L2072 449.4 L2073 449.6 L2074 449.8 L2075 449.9 L2076 450.1 L2077 450.3 L2078 450.5 L2079 450.6 L2080 450.8" fill="none" stroke="#006E35" stroke-width="5.0" stroke-dasharray="27 25" stroke-linejoin="round"/>
<path d="M1325 617.2 L1326 615.5 L1327 613.8 L1328 612.1 L1329 610.4 L1330 608.6 L1331 606.8 L1332 604.9 L1333 603 L1334 601.1 L1335 599.1 L1336 597 L1337 595 L1338 592.9 L1339 590.8 L1340 588.6 L1341 586.5 L1342 584.4 L1343 582.2 L1344 580 L1345 577.8 L1346 575.6 L1347 573.4 L1348 571.1 L1349 568.8 L1350 566.5 L1351 564.1 L1352 561.7 L1353 559.3 L1354 556.8 L1355 554.4 L1356 551.8 L1357 549.3 L1358 546.7 L1359 544.2 L1360 541.6 L1361 538.9 L1362 536.3 L1363 533.7 L1364 531 L1365 528.3 L1366 525.6 L1367 522.9 L1368 520.2 L1369 517.5 L1370 514.8 L1371 512.1 L1372 509.3 L1373 506.6 L1374 503.9 L1375 501.2 L1376 498.5 L1377 495.8 L1378 493.1 L1379 490.4 L1380 487.7 L1381 485.1 L1382 482.4 L1383 479.8 L1384 477.3 L1385 474.7 L1386 472.2 L1387 469.7 L1388 467.2 L1389 464.7 L1390 462.3 L1391 459.8 L1392 457.4 L1393 454.9 L1394 452.5 L1395 450 L1396 447.6 L1397 445.1 L1398 442.6 L1399 440.2 L1400 437.7 L1401 435.3 L1402 432.8 L1403 430.4 L1404 427.9 L1405 425.5 L1406 423.1 L1407 420.7 L1408 418.3 L1409 415.9 L1410 413.6 L1411 411.2 L1412 409 L1413 406.7 L1414 404.5 L1415 402.2 L1416 400 L1417 397.9 L1418 395.7 L1419 393.5 L1420 391.4 L1421 389.2 L1422 387 L1423 384.9 L1424 382.7 L1425 380.6 L1426 378.4 L1427 376.3 L1428 374.3 L1429 372.2 L1430 370.2 L1431 368.3 L1432 366.4 L1433 364.5 L1434 362.7 L1435 360.9 L1436 359.2 L1437 357.4 L1438 355.8 L1439 354.1 L1440 352.5 L1441 350.8 L1442 349.3 L1443 347.7 L1444 346.1 L1445 344.6 L1446 343 L1447 341.5 L1448 340 L1449 338.5 L1450 337.1 L1451 335.6 L1452 334.2 L1453 332.7 L1454 331.3 L1455 329.9 L1456 328.5 L1457 327.1 L1458 325.7 L1459 324.4 L1460 323 L1461 321.7 L1462 320.3 L1463 319 L1464 317.7 L1465 316.5 L1466 315.2 L1467 314 L1468 312.8 L1469 311.6 L1470 310.4 L1471 309.3 L1472 308.2 L1473 307.1 L1474 306 L1475 304.9 L1476 303.9 L1477 302.9 L1478 301.9 L1479 300.9 L1480 300 L1481 299.1 L1482 298.2 L1483 297.3 L1484 296.4 L1485 295.6 L1486 294.8 L1487 294 L1488 293.2 L1489 292.5 L1490 291.8 L1491 291 L1492 290.4 L1493 289.7 L1494 289 L1495 288.4 L1496 287.7 L1497 287.1 L1498 286.5 L1499 285.9 L1500 285.3 L1501 284.8 L1502 284.2 L1503 283.7 L1504 283.1 L1505 282.6 L1506 282.1 L1507 281.5 L1508 281 L1509 280.5 L1510 280 L1511 279.5 L1512 279.1 L1513 278.6 L1514 278.1 L1515 277.7 L1516 277.2 L1517 276.8 L1518 276.4 L1519 276 L1520 275.6 L1521 275.2 L1522 274.8 L1523 274.5 L1524 274.1 L1525 273.8 L1526 273.5 L1527 273.2 L1528 272.9 L1529 272.7 L1530 272.4 L1531 272.2 L1532 272 L1533 271.8 L1534 271.6 L1535 271.4 L1536 271.2 L1537 271.1 L1538 270.9 L1539 270.8 L1540 270.7 L1541 270.5 L1542 270.4 L1543 270.3 L1544 270.2 L1545 270.2 L1546 270.1 L1547 270 L1548 269.9 L1549 269.9 L1550 269.8 L1551 269.8 L1552 269.7 L1553 269.7 L1554 269.6 L1555 269.6 L1556 269.6 L1557 269.5 L1558 269.5 L1559 269.5 L1560 269.4 L1561 269.4 L1562 269.4 L1563 269.4 L1564 269.4 L1565 269.4 L1566 269.4 L1567 269.4 L1568 269.4 L1569 269.4 L1570 269.5 L1571 269.5 L1572 269.5 L1573 269.6 L1574 269.6 L1575 269.7 L1576 269.8 L1577 269.8 L1578 269.9 L1579 270 L1580 270.1 L1581 270.2 L1582 270.3 L1583 270.5 L1584 270.6 L1585 270.7 L1586 270.9 L1587 271 L1588 271.2 L1589 271.3 L1590 271.5 L1591 271.6 L1592 271.8 L1593 272 L1594 272.2 L1595 272.4 L1596 272.5 L1597 272.7 L1598 272.9 L1599 273.1 L1600 273.3 L1601 273.5 L1602 273.7 L1603 273.9 L1604 274.1 L1605 274.3 L1606 274.6 L1607 274.8 L1608 275 L1609 275.2 L1610 275.4 L1611 275.7 L1612 275.9 L1613 276.2 L1614 276.4 L1615 276.7 L1616 276.9 L1617 277.2 L1618 277.5 L1619 277.8 L1620 278.1 L1621 278.4 L1622 278.7 L1623 279 L1624 279.3 L1625 279.7 L1626 280 L1627 280.4 L1628 280.8 L1629 281.1 L1630 281.5 L1631 281.9 L1632 282.3 L1633 282.7 L1634 283.1 L1635 283.5 L1636 283.9 L1637 284.3 L1638 284.7 L1639 285.1 L1640 285.5 L1641 285.9 L1642 286.3 L1643 286.7 L1644 287.1 L1645 287.5 L1646 287.8 L1647 288.2 L1648 288.6 L1649 288.9 L1650 289.3 L1651 289.6 L1652 290 L1653 290.3 L1654 290.6 L1655 291 L1656 291.3 L1657 291.6 L1658 292 L1659 292.3 L1660 292.6 L1661 293 L1662 293.3 L1663 293.6 L1664 294 L1665 294.3 L1666 294.7 L1667 295 L1668 295.4 L1669 295.8 L1670 296.1 L1671 296.5 L1672 296.9 L1673 297.3 L1674 297.6 L1675 298 L1676 298.4 L1677 298.8 L1678 299.2 L1679 299.6 L1680 300 L1681 300.4 L1682 300.8 L1683 301.2 L1684 301.6 L1685 302 L1686 302.5 L1687 302.9 L1688 303.3 L1689 303.7 L1690 304.1 L1691 304.5 L1692 304.9 L1693 305.3 L1694 305.7 L1695 306.1 L1696 306.5 L1697 306.9 L1698 307.4 L1699 307.8 L1700 308.2 L1701 308.6 L1702 309 L1703 309.4 L1704 309.8 L1705 310.2 L1706 310.7 L1707 311.1 L1708 311.5 L1709 311.9 L1710 312.3 L1711 312.8 L1712 313.2 L1713 313.6 L1714 314.1 L1715 314.5 L1716 314.9 L1717 315.4 L1718 315.8 L1719 316.2 L1720 316.7 L1721 317.1 L1722 317.5 L1723 318 L1724 318.4 L1725 318.8 L1726 319.2 L1727 319.6 L1728 320 L1729 320.5 L1730 320.9 L1731 321.3 L1732 321.6 L1733 322 L1734 322.4 L1735 322.8 L1736 323.1 L1737 323.5 L1738 323.9 L1739 324.2 L1740 324.6 L1741 324.9 L1742 325.3 L1743 325.6 L1744 325.9 L1745 326.3 L1746 326.6 L1747 326.9 L1748 327.3 L1749 327.6 L1750 327.9 L1751 328.3 L1752 328.6 L1753 328.9 L1754 329.3 L1755 329.6 L1756 329.9 L1757 330.3 L1758 330.6 L1759 331 L1760 331.3 L1761 331.7 L1762 332.1 L1763 332.4 L1764 332.8 L1765 333.1 L1766 333.5 L1767 333.8 L1768 334.2 L1769 334.6 L1770 334.9 L1771 335.3 L1772 335.7 L1773 336 L1774 336.4 L1775 336.7 L1776 337.1 L1777 337.4 L1778 337.8 L1779 338.1 L1780 338.5 L1781 338.8 L1782 339.2 L1783 339.5 L1784 339.9 L1785 340.2 L1786 340.6 L1787 340.9 L1788 341.2 L1789 341.6 L1790 341.9 L1791 342.2 L1792 342.6 L1793 342.9 L1794 343.3 L1795 343.6 L1796 343.9 L1797 344.3 L1798 344.6 L1799 344.9 L1800 345.3 L1801 345.6 L1802 345.9 L1803 346.2 L1804 346.6 L1805 346.9 L1806 347.2 L1807 347.6 L1808 347.9 L1809 348.2 L1810 348.6 L1811 348.9 L1812 349.2 L1813 349.6 L1814 349.9 L1815 350.2 L1816 350.6 L1817 350.9 L1818 351.2 L1819 351.5 L1820 351.9 L1821 352.2 L1822 352.5 L1823 352.8 L1824 353.2 L1825 353.5 L1826 353.8 L1827 354.1 L1828 354.4 L1829 354.8 L1830 355.1 L1831 355.4 L1832 355.7 L1833 356 L1834 356.4 L1835 356.7 L1836 357 L1837 357.3 L1838 357.6 L1839 357.9 L1840 358.3 L1841 358.6 L1842 358.9 L1843 359.2 L1844 359.5 L1845 359.9 L1846 360.2 L1847 360.5 L1848 360.8 L1849 361.1 L1850 361.5 L1851 361.8 L1852 362.1 L1853 362.4 L1854 362.7 L1855 363.1 L1856 363.4 L1857 363.7 L1858 364 L1859 364.4 L1860 364.7 L1861 365 L1862 365.3 L1863 365.6 L1864 366 L1865 366.3 L1866 366.6 L1867 366.9 L1868 367.2 L1869 367.6 L1870 367.9 L1871 368.2 L1872 368.5 L1873 368.8 L1874 369.1 L1875 369.4 L1876 369.8 L1877 370.1 L1878 370.4 L1879 370.7 L1880 371 L1881 371.3 L1882 371.6 L1883 371.9 L1884 372.2 L1885 372.5 L1886 372.8 L1887 373.1 L1888 373.4 L1889 373.7 L1890 374 L1891 374.2 L1892 374.5 L1893 374.8 L1894 375.1 L1895 375.4 L1896 375.7 L1897 375.9 L1898 376.2 L1899 376.5 L1900 376.7 L1901 377 L1902 377.3 L1903 377.5 L1904 377.8 L1905 378 L1906 378.3 L1907 378.5 L1908 378.8 L1909 379 L1910 379.2 L1911 379.5 L1912 379.7 L1913 379.9 L1914 380.2 L1915 380.4 L1916 380.6 L1917 380.8 L1918 381 L1919 381.2 L1920 381.5 L1921 381.7 L1922 381.9 L1923 382.1 L1924 382.3 L1925 382.5 L1926 382.7 L1927 383 L1928 383.2 L1929 383.4 L1930 383.6 L1931 383.8 L1932 384.1 L1933 384.3 L1934 384.5 L1935 384.8 L1936 385 L1937 385.3 L1938 385.5 L1939 385.8 L1940 386 L1941 386.3 L1942 386.6 L1943 386.8 L1944 387.1 L1945 387.4 L1946 387.6 L1947 387.9 L1948 388.2 L1949 388.5 L1950 388.7 L1951 389 L1952 389.3 L1953 389.6 L1954 389.8 L1955 390.1 L1956 390.4 L1957 390.6 L1958 390.9 L1959 391.2 L1960 391.4 L1961 391.7 L1962 391.9 L1963 392.2 L1964 392.4 L1965 392.7 L1966 392.9 L1967 393.1 L1968 393.4 L1969 393.6 L1970 393.8 L1971 394 L1972 394.2 L1973 394.5 L1974 394.7 L1975 394.9 L1976 395.1 L1977 395.3 L1978 395.5 L1979 395.7 L1980 395.9 L1981 396.1 L1982 396.3 L1983 396.5 L1984 396.7 L1985 396.9 L1986 397.1 L1987 397.3 L1988 397.5 L1989 397.7 L1990 397.9 L1991 398 L1992 398.2 L1993 398.4 L1994 398.6 L1995 398.8 L1996 399 L1997 399.2 L1998 399.4 L1999 399.6 L2000 399.8 L2001 400 L2002 400.2 L2003 400.4 L2004 400.6 L2005 400.8 L2006 401 L2007 401.2 L2008 401.4 L2009 401.6 L2010 401.9 L2011 402.1 L2012 402.3 L2013 402.5 L2014 402.7 L2015 403 L2016 403.2 L2017 403.4 L2018 403.6 L2019 403.8 L2020 404 L2021 404.3 L2022 404.5 L2023 404.7 L2024 404.9 L2025 405.1 L2026 405.3 L2027 405.5 L2028 405.7 L2029 405.9 L2030 406 L2031 406.2 L2032 406.4 L2033 406.5 L2034 406.7 L2035 406.9 L2036 407 L2037 407.2 L2038 407.3 L2039 407.4 L2040 407.6 L2041 407.7 L2042 407.9 L2043 408 L2044 408.1 L2045 408.3 L2046 408.4 L2047 408.5 L2048 408.7 L2049 408.8 L2050 409 L2051 409.1 L2052 409.2 L2053 409.4 L2054 409.5 L2055 409.6 L2056 409.8 L2057 409.9 L2058 410.1 L2059 410.2 L2060 410.4 L2061 410.5 L2062 410.7 L2063 410.8 L2064 411 L2065 411.1 L2066 411.3 L2067 411.4 L2068 411.6 L2069 411.8 L2070 411.9 L2071 412.1 L2072 412.2 L2073 412.4 L2074 412.5 L2075 412.7 L2076 412.9 L2077 413 L2078 413.2 L2079 413.3 L2080 413.5" fill="none" stroke="#E11E19" stroke-width="5.0" stroke-dasharray="14 9.6" stroke-linejoin="round"/>
<path d="M1325 630.2 L1326 628.8 L1327 627.4 L1328 626 L1329 624.6 L1330 623.2 L1331 621.8 L1332 620.4 L1333 618.9 L1334 617.5 L1335 616 L1336 614.5 L1337 613 L1338 611.5 L1339 609.9 L1340 608.4 L1341 606.8 L1342 605.2 L1343 603.5 L1344 601.9 L1345 600.2 L1346 598.5 L1347 596.7 L1348 595 L1349 593.2 L1350 591.4 L1351 589.6 L1352 587.7 L1353 585.8 L1354 583.9 L1355 582 L1356 580 L1357 578 L1358 576 L1359 574 L1360 571.9 L1361 569.9 L1362 567.9 L1363 565.8 L1364 563.8 L1365 561.8 L1366 559.8 L1367 557.7 L1368 555.8 L1369 553.8 L1370 551.8 L1371 549.9 L1372 548 L1373 546 L1374 544.1 L1375 542.2 L1376 540.3 L1377 538.4 L1378 536.5 L1379 534.6 L1380 532.7 L1381 530.8 L1382 528.9 L1383 526.9 L1384 525 L1385 523 L1386 521 L1387 519 L1388 517.1 L1389 515.1 L1390 513 L1391 511 L1392 509 L1393 507 L1394 505 L1395 503.1 L1396 501.1 L1397 499.1 L1398 497.2 L1399 495.3 L1400 493.3 L1401 491.4 L1402 489.6 L1403 487.7 L1404 485.8 L1405 484 L1406 482.2 L1407 480.3 L1408 478.5 L1409 476.7 L1410 474.9 L1411 473.1 L1412 471.3 L1413 469.6 L1414 467.8 L1415 466 L1416 464.3 L1417 462.5 L1418 460.8 L1419 459 L1420 457.3 L1421 455.6 L1422 453.9 L1423 452.2 L1424 450.5 L1425 448.8 L1426 447.1 L1427 445.4 L1428 443.7 L1429 442.1 L1430 440.4 L1431 438.8 L1432 437.2 L1433 435.5 L1434 433.9 L1435 432.3 L1436 430.7 L1437 429.2 L1438 427.6 L1439 426 L1440 424.5 L1441 422.9 L1442 421.4 L1443 419.9 L1444 418.4 L1445 416.9 L1446 415.5 L1447 414 L1448 412.6 L1449 411.1 L1450 409.7 L1451 408.3 L1452 406.9 L1453 405.5 L1454 404.2 L1455 402.8 L1456 401.5 L1457 400.2 L1458 398.9 L1459 397.6 L1460 396.3 L1461 395 L1462 393.8 L1463 392.6 L1464 391.3 L1465 390.1 L1466 389 L1467 387.8 L1468 386.6 L1469 385.5 L1470 384.4 L1471 383.3 L1472 382.2 L1473 381.1 L1474 380.1 L1475 379 L1476 378 L1477 377 L1478 376 L1479 375 L1480 374 L1481 373 L1482 372.1 L1483 371.2 L1484 370.2 L1485 369.3 L1486 368.4 L1487 367.5 L1488 366.6 L1489 365.8 L1490 364.9 L1491 364.1 L1492 363.2 L1493 362.4 L1494 361.6 L1495 360.8 L1496 360 L1497 359.2 L1498 358.4 L1499 357.6 L1500 356.9 L1501 356.1 L1502 355.4 L1503 354.7 L1504 354 L1505 353.3 L1506 352.6 L1507 351.9 L1508 351.2 L1509 350.5 L1510 349.9 L1511 349.2 L1512 348.6 L1513 347.9 L1514 347.3 L1515 346.7 L1516 346.1 L1517 345.5 L1518 344.9 L1519 344.3 L1520 343.7 L1521 343.2 L1522 342.6 L1523 342.1 L1524 341.5 L1525 341 L1526 340.5 L1527 340 L1528 339.5 L1529 339 L1530 338.5 L1531 338 L1532 337.5 L1533 337.1 L1534 336.6 L1535 336.2 L1536 335.7 L1537 335.3 L1538 334.9 L1539 334.5 L1540 334.1 L1541 333.7 L1542 333.3 L1543 332.9 L1544 332.5 L1545 332.2 L1546 331.8 L1547 331.5 L1548 331.1 L1549 330.8 L1550 330.4 L1551 330.1 L1552 329.8 L1553 329.5 L1554 329.2 L1555 328.9 L1556 328.6 L1557 328.4 L1558 328.1 L1559 327.8 L1560 327.6 L1561 327.3 L1562 327.1 L1563 326.8 L1564 326.6 L1565 326.4 L1566 326.2 L1567 326 L1568 325.8 L1569 325.6 L1570 325.4 L1571 325.2 L1572 325 L1573 324.9 L1574 324.7 L1575 324.5 L1576 324.4 L1577 324.3 L1578 324.1 L1579 324 L1580 323.9 L1581 323.7 L1582 323.6 L1583 323.5 L1584 323.4 L1585 323.3 L1586 323.2 L1587 323.2 L1588 323.1 L1589 323 L1590 322.9 L1591 322.9 L1592 322.8 L1593 322.7 L1594 322.7 L1595 322.7 L1596 322.6 L1597 322.6 L1598 322.5 L1599 322.5 L1600 322.5 L1601 322.5 L1602 322.4 L1603 322.4 L1604 322.4 L1605 322.4 L1606 322.4 L1607 322.4 L1608 322.4 L1609 322.4 L1610 322.4 L1611 322.4 L1612 322.4 L1613 322.4 L1614 322.4 L1615 322.4 L1616 322.4 L1617 322.4 L1618 322.5 L1619 322.5 L1620 322.5 L1621 322.5 L1622 322.6 L1623 322.6 L1624 322.6 L1625 322.7 L1626 322.7 L1627 322.8 L1628 322.8 L1629 322.8 L1630 322.9 L1631 323 L1632 323 L1633 323.1 L1634 323.1 L1635 323.2 L1636 323.3 L1637 323.3 L1638 323.4 L1639 323.5 L1640 323.6 L1641 323.6 L1642 323.7 L1643 323.8 L1644 323.9 L1645 324 L1646 324.1 L1647 324.2 L1648 324.3 L1649 324.4 L1650 324.5 L1651 324.7 L1652 324.8 L1653 324.9 L1654 325 L1655 325.1 L1656 325.3 L1657 325.4 L1658 325.5 L1659 325.7 L1660 325.8 L1661 326 L1662 326.1 L1663 326.3 L1664 326.4 L1665 326.6 L1666 326.7 L1667 326.9 L1668 327 L1669 327.2 L1670 327.4 L1671 327.5 L1672 327.7 L1673 327.9 L1674 328 L1675 328.2 L1676 328.4 L1677 328.6 L1678 328.8 L1679 328.9 L1680 329.1 L1681 329.3 L1682 329.5 L1683 329.7 L1684 329.9 L1685 330 L1686 330.2 L1687 330.4 L1688 330.6 L1689 330.8 L1690 331 L1691 331.2 L1692 331.4 L1693 331.6 L1694 331.8 L1695 332 L1696 332.2 L1697 332.4 L1698 332.6 L1699 332.8 L1700 333 L1701 333.2 L1702 333.4 L1703 333.6 L1704 333.8 L1705 334 L1706 334.2 L1707 334.4 L1708 334.6 L1709 334.8 L1710 335 L1711 335.2 L1712 335.4 L1713 335.6 L1714 335.8 L1715 335.9 L1716 336.1 L1717 336.3 L1718 336.5 L1719 336.7 L1720 336.9 L1721 337.1 L1722 337.3 L1723 337.5 L1724 337.7 L1725 337.9 L1726 338.1 L1727 338.3 L1728 338.5 L1729 338.7 L1730 338.9 L1731 339.1 L1732 339.3 L1733 339.5 L1734 339.7 L1735 340 L1736 340.2 L1737 340.4 L1738 340.6 L1739 340.8 L1740 341 L1741 341.2 L1742 341.4 L1743 341.7 L1744 341.9 L1745 342.1 L1746 342.3 L1747 342.6 L1748 342.8 L1749 343 L1750 343.2 L1751 343.5 L1752 343.7 L1753 343.9 L1754 344.1 L1755 344.4 L1756 344.6 L1757 344.8 L1758 345 L1759 345.3 L1760 345.5 L1761 345.7 L1762 346 L1763 346.2 L1764 346.4 L1765 346.6 L1766 346.9 L1767 347.1 L1768 347.3 L1769 347.5 L1770 347.7 L1771 347.9 L1772 348.2 L1773 348.4 L1774 348.6 L1775 348.8 L1776 349 L1777 349.2 L1778 349.4 L1779 349.6 L1780 349.8 L1781 350 L1782 350.2 L1783 350.4 L1784 350.6 L1785 350.8 L1786 351 L1787 351.2 L1788 351.4 L1789 351.6 L1790 351.8 L1791 352 L1792 352.2 L1793 352.4 L1794 352.6 L1795 352.8 L1796 353 L1797 353.2 L1798 353.4 L1799 353.6 L1800 353.8 L1801 354 L1802 354.2 L1803 354.4 L1804 354.6 L1805 354.9 L1806 355.1 L1807 355.3 L1808 355.5 L1809 355.7 L1810 355.9 L1811 356.2 L1812 356.4 L1813 356.6 L1814 356.8 L1815 357.1 L1816 357.3 L1817 357.5 L1818 357.7 L1819 358 L1820 358.2 L1821 358.4 L1822 358.7 L1823 358.9 L1824 359.1 L1825 359.3 L1826 359.6 L1827 359.8 L1828 360 L1829 360.3 L1830 360.5 L1831 360.7 L1832 360.9 L1833 361.1 L1834 361.4 L1835 361.6 L1836 361.8 L1837 362 L1838 362.2 L1839 362.4 L1840 362.7 L1841 362.9 L1842 363.1 L1843 363.3 L1844 363.5 L1845 363.7 L1846 363.9 L1847 364.1 L1848 364.3 L1849 364.5 L1850 364.7 L1851 364.9 L1852 365.1 L1853 365.3 L1854 365.5 L1855 365.7 L1856 365.9 L1857 366.1 L1858 366.3 L1859 366.5 L1860 366.7 L1861 366.9 L1862 367.1 L1863 367.3 L1864 367.5 L1865 367.7 L1866 367.9 L1867 368.1 L1868 368.3 L1869 368.5 L1870 368.7 L1871 368.9 L1872 369.1 L1873 369.3 L1874 369.5 L1875 369.7 L1876 369.9 L1877 370.1 L1878 370.3 L1879 370.6 L1880 370.8 L1881 371 L1882 371.2 L1883 371.4 L1884 371.6 L1885 371.8 L1886 372 L1887 372.2 L1888 372.4 L1889 372.6 L1890 372.8 L1891 373 L1892 373.2 L1893 373.4 L1894 373.6 L1895 373.7 L1896 373.9 L1897 374.1 L1898 374.3 L1899 374.5 L1900 374.6 L1901 374.8 L1902 375 L1903 375.1 L1904 375.3 L1905 375.5 L1906 375.6 L1907 375.8 L1908 375.9 L1909 376.1 L1910 376.2 L1911 376.4 L1912 376.6 L1913 376.7 L1914 376.9 L1915 377 L1916 377.2 L1917 377.3 L1918 377.4 L1919 377.6 L1920 377.7 L1921 377.9 L1922 378.1 L1923 378.2 L1924 378.4 L1925 378.5 L1926 378.7 L1927 378.8 L1928 379 L1929 379.2 L1930 379.3 L1931 379.5 L1932 379.7 L1933 379.8 L1934 380 L1935 380.2 L1936 380.4 L1937 380.5 L1938 380.7 L1939 380.9 L1940 381.1 L1941 381.3 L1942 381.5 L1943 381.7 L1944 381.9 L1945 382.1 L1946 382.3 L1947 382.5 L1948 382.7 L1949 382.8 L1950 383 L1951 383.2 L1952 383.4 L1953 383.6 L1954 383.8 L1955 384 L1956 384.2 L1957 384.4 L1958 384.6 L1959 384.7 L1960 384.9 L1961 385.1 L1962 385.3 L1963 385.5 L1964 385.6 L1965 385.8 L1966 386 L1967 386.1 L1968 386.3 L1969 386.4 L1970 386.6 L1971 386.7 L1972 386.9 L1973 387 L1974 387.1 L1975 387.3 L1976 387.4 L1977 387.5 L1978 387.7 L1979 387.8 L1980 387.9 L1981 388 L1982 388.2 L1983 388.3 L1984 388.4 L1985 388.5 L1986 388.7 L1987 388.8 L1988 388.9 L1989 389 L1990 389.1 L1991 389.3 L1992 389.4 L1993 389.5 L1994 389.7 L1995 389.8 L1996 389.9 L1997 390.1 L1998 390.2 L1999 390.3 L2000 390.5 L2001 390.6 L2002 390.8 L2003 390.9 L2004 391.1 L2005 391.2 L2006 391.4 L2007 391.5 L2008 391.7 L2009 391.8 L2010 392 L2011 392.2 L2012 392.3 L2013 392.5 L2014 392.7 L2015 392.8 L2016 393 L2017 393.2 L2018 393.3 L2019 393.5 L2020 393.7 L2021 393.8 L2022 394 L2023 394.1 L2024 394.3 L2025 394.5 L2026 394.6 L2027 394.8 L2028 394.9 L2029 395.1 L2030 395.2 L2031 395.4 L2032 395.5 L2033 395.7 L2034 395.8 L2035 396 L2036 396.1 L2037 396.3 L2038 396.4 L2039 396.5 L2040 396.7 L2041 396.8 L2042 396.9 L2043 397 L2044 397.2 L2045 397.3 L2046 397.4 L2047 397.6 L2048 397.7 L2049 397.8 L2050 397.9 L2051 398.1 L2052 398.2 L2053 398.3 L2054 398.4 L2055 398.6 L2056 398.7 L2057 398.8 L2058 398.9 L2059 399.1 L2060 399.2 L2061 399.3 L2062 399.5 L2063 399.6 L2064 399.7 L2065 399.9 L2066 400 L2067 400.1 L2068 400.3 L2069 400.4 L2070 400.6 L2071 400.7 L2072 400.8 L2073 401 L2074 401.1 L2075 401.3 L2076 401.4 L2077 401.6 L2078 401.7 L2079 401.8 L2080 402" fill="none" stroke="#00408A" stroke-width="5.0" stroke-dasharray="32 12 9 12" stroke-linejoin="round"/>
</g>
<path d="M1283.2 71.6H2081.3V76.1H1283.2Z M1283.2 655.7H2081.3V659.7H1283.2Z M1283.2 71.6H1287.2V659.7H1283.2Z M2077.4 71.6H2081.3V659.7H2077.4Z" fill="#000"/>
<path d="M1285.4 599.8H1293.9 M1364.7 658.2V649.7 M1285.4 541.4H1299.4 M1444.1 658.2V644.2 M1285.4 483H1293.9 M1523.4 658.2V649.7 M1285.4 424.6H1299.4 M1602.8 658.2V644.2 M1285.4 366.2H1293.9 M1682.1 658.2V649.7 M1285.4 307.8H1299.4 M1761.4 658.2V644.2 M1285.4 249.4H1293.9 M1840.8 658.2V649.7 M1285.4 191H1299.4 M1920.1 658.2V644.2 M1285.4 132.6H1293.9 M1999.5 658.2V649.7" stroke="#000" stroke-width="3" fill="none"/>
<text transform="translate(1271.9 669.6) scale(1 1.045)" class="tl" text-anchor="end">0.00</text>
<text transform="translate(1271.9 552.8) scale(1 1.045)" class="tl" text-anchor="end">0.07</text>
<text transform="translate(1271.9 436) scale(1 1.045)" class="tl" text-anchor="end">0.14</text>
<text transform="translate(1271.9 319.2) scale(1 1.045)" class="tl" text-anchor="end">0.21</text>
<text transform="translate(1271.9 202.4) scale(1 1.045)" class="tl" text-anchor="end">0.28</text>
<text transform="translate(1271.9 85.6) scale(1 1.045)" class="tl" text-anchor="end">0.35</text>
<text transform="translate(1285.4 702.1) scale(1 1.045)" class="tl" text-anchor="middle">0.00</text>
<text transform="translate(1444.1 702.1) scale(1 1.045)" class="tl" text-anchor="middle">0.04</text>
<text transform="translate(1602.8 702.1) scale(1 1.045)" class="tl" text-anchor="middle">0.08</text>
<text transform="translate(1761.4 702.1) scale(1 1.045)" class="tl" text-anchor="middle">0.12</text>
<text transform="translate(1920.1 702.1) scale(1 1.045)" class="tl" text-anchor="middle">0.16</text>
<text transform="translate(2078.8 702.1) scale(1 1.045)" class="tl" text-anchor="middle">0.20</text>
<g clip-path="url(#clipc)">
<path d="M284 1400.7 L285 1400.3 L286 1399.9 L287 1399.6 L288 1399.2 L289 1398.8 L290 1398.4 L291 1397.9 L292 1397.5 L293 1397.1 L294 1396.6 L295 1396.1 L296 1395.6 L297 1395.1 L298 1394.6 L299 1394 L300 1393.4 L301 1392.8 L302 1392.2 L303 1391.5 L304 1390.8 L305 1390 L306 1389.2 L307 1388.4 L308 1387.6 L309 1386.7 L310 1385.7 L311 1384.8 L312 1383.8 L313 1382.7 L314 1381.7 L315 1380.6 L316 1379.5 L317 1378.3 L318 1377.1 L319 1375.9 L320 1374.6 L321 1373.3 L322 1372 L323 1370.7 L324 1369.3 L325 1367.9 L326 1366.5 L327 1365 L328 1363.6 L329 1362.1 L330 1360.5 L331 1359 L332 1357.4 L333 1355.8 L334 1354.1 L335 1352.5 L336 1350.8 L337 1349.1 L338 1347.4 L339 1345.6 L340 1343.8 L341 1342 L342 1340.2 L343 1338.3 L344 1336.4 L345 1334.5 L346 1332.5 L347 1330.6 L348 1328.6 L349 1326.5 L350 1324.5 L351 1322.4 L352 1320.2 L353 1318.1 L354 1315.9 L355 1313.7 L356 1311.5 L357 1309.2 L358 1306.9 L359 1304.5 L360 1302.2 L361 1299.8 L362 1297.4 L363 1294.9 L364 1292.5 L365 1290 L366 1287.5 L367 1285 L368 1282.5 L369 1280 L370 1277.5 L371 1275 L372 1272.5 L373 1269.9 L374 1267.4 L375 1264.9 L376 1262.4 L377 1259.9 L378 1257.4 L379 1254.9 L380 1252.5 L381 1250 L382 1247.6 L383 1245.1 L384 1242.7 L385 1240.2 L386 1237.8 L387 1235.4 L388 1233 L389 1230.5 L390 1228.1 L391 1225.7 L392 1223.2 L393 1220.8 L394 1218.3 L395 1215.9 L396 1213.4 L397 1211 L398 1208.5 L399 1206 L400 1203.5 L401 1201 L402 1198.5 L403 1196 L404 1193.5 L405 1191 L406 1188.5 L407 1186 L408 1183.5 L409 1181 L410 1178.5 L411 1176 L412 1173.5 L413 1171 L414 1168.6 L415 1166.1 L416 1163.7 L417 1161.3 L418 1158.8 L419 1156.4 L420 1154 L421 1151.6 L422 1149.3 L423 1146.9 L424 1144.6 L425 1142.2 L426 1139.9 L427 1137.6 L428 1135.3 L429 1133 L430 1130.7 L431 1128.5 L432 1126.2 L433 1124 L434 1121.8 L435 1119.5 L436 1117.3 L437 1115.2 L438 1113 L439 1110.8 L440 1108.7 L441 1106.5 L442 1104.4 L443 1102.3 L444 1100.2 L445 1098.1 L446 1096.1 L447 1094 L448 1092 L449 1090 L450 1088 L451 1086.1 L452 1084.1 L453 1082.2 L454 1080.3 L455 1078.4 L456 1076.5 L457 1074.7 L458 1072.9 L459 1071.1 L460 1069.3 L461 1067.6 L462 1065.9 L463 1064.2 L464 1062.5 L465 1060.9 L466 1059.2 L467 1057.6 L468 1056 L469 1054.5 L470 1052.9 L471 1051.4 L472 1049.9 L473 1048.4 L474 1047 L475 1045.5 L476 1044.1 L477 1042.7 L478 1041.3 L479 1040 L480 1038.6 L481 1037.3 L482 1036 L483 1034.7 L484 1033.4 L485 1032.1 L486 1030.9 L487 1029.6 L488 1028.4 L489 1027.2 L490 1026 L491 1024.8 L492 1023.6 L493 1022.5 L494 1021.4 L495 1020.2 L496 1019.1 L497 1018 L498 1016.9 L499 1015.9 L500 1014.8 L501 1013.7 L502 1012.7 L503 1011.7 L504 1010.7 L505 1009.7 L506 1008.7 L507 1007.7 L508 1006.8 L509 1005.9 L510 1004.9 L511 1004 L512 1003.1 L513 1002.2 L514 1001.4 L515 1000.5 L516 999.7 L517 998.8 L518 998 L519 997.2 L520 996.4 L521 995.7 L522 994.9 L523 994.1 L524 993.4 L525 992.7 L526 992 L527 991.3 L528 990.6 L529 989.9 L530 989.3 L531 988.6 L532 988 L533 987.4 L534 986.8 L535 986.2 L536 985.6 L537 985.1 L538 984.5 L539 984 L540 983.5 L541 983 L542 982.5 L543 982 L544 981.5 L545 981.1 L546 980.6 L547 980.2 L548 979.8 L549 979.4 L550 979 L551 978.7 L552 978.3 L553 978 L554 977.6 L555 977.3 L556 977 L557 976.7 L558 976.5 L559 976.2 L560 976 L561 975.7 L562 975.5 L563 975.3 L564 975.1 L565 975 L566 974.8 L567 974.7 L568 974.5 L569 974.4 L570 974.3 L571 974.2 L572 974.2 L573 974.1 L574 974 L575 974 L576 974 L577 973.9 L578 973.9 L579 973.9 L580 973.9 L581 973.9 L582 973.8 L583 973.8 L584 973.8 L585 973.9 L586 973.9 L587 973.9 L588 973.9 L589 973.9 L590 973.9 L591 974 L592 974 L593 974 L594 974.1 L595 974.1 L596 974.2 L597 974.2 L598 974.3 L599 974.4 L600 974.4 L601 974.5 L602 974.6 L603 974.6 L604 974.7 L605 974.8 L606 974.9 L607 975 L608 975.1 L609 975.2 L610 975.3 L611 975.4 L612 975.6 L613 975.7 L614 975.8 L615 975.9 L616 976.1 L617 976.2 L618 976.4 L619 976.5 L620 976.7 L621 976.8 L622 977 L623 977.2 L624 977.3 L625 977.5 L626 977.7 L627 977.9 L628 978.1 L629 978.3 L630 978.5 L631 978.7 L632 978.9 L633 979.1 L634 979.3 L635 979.5 L636 979.7 L637 980 L638 980.2 L639 980.5 L640 980.7 L641 981 L642 981.2 L643 981.5 L644 981.7 L645 982 L646 982.3 L647 982.5 L648 982.8 L649 983.1 L650 983.4 L651 983.7 L652 983.9 L653 984.2 L654 984.5 L655 984.8 L656 985.1 L657 985.4 L658 985.7 L659 986.1 L660 986.4 L661 986.7 L662 987 L663 987.3 L664 987.7 L665 988 L666 988.3 L667 988.6 L668 989 L669 989.3 L670 989.7 L671 990 L672 990.3 L673 990.7 L674 991 L675 991.4 L676 991.7 L677 992.1 L678 992.4 L679 992.8 L680 993.2 L681 993.5 L682 993.9 L683 994.2 L684 994.6 L685 995 L686 995.3 L687 995.7 L688 996.1 L689 996.4 L690 996.8 L691 997.2 L692 997.5 L693 997.9 L694 998.3 L695 998.7 L696 999 L697 999.4 L698 999.8 L699 1000.2 L700 1000.5 L701 1000.9 L702 1001.3 L703 1001.7 L704 1002.1 L705 1002.4 L706 1002.8 L707 1003.2 L708 1003.6 L709 1003.9 L710 1004.3 L711 1004.7 L712 1005.1 L713 1005.5 L714 1005.8 L715 1006.2 L716 1006.6 L717 1007 L718 1007.4 L719 1007.7 L720 1008.1 L721 1008.5 L722 1008.9 L723 1009.2 L724 1009.6 L725 1010 L726 1010.4 L727 1010.7 L728 1011.1 L729 1011.5 L730 1011.9 L731 1012.2 L732 1012.6 L733 1013 L734 1013.3 L735 1013.7 L736 1014.1 L737 1014.4 L738 1014.8 L739 1015.2 L740 1015.5 L741 1015.9 L742 1016.2 L743 1016.6 L744 1017 L745 1017.3 L746 1017.7 L747 1018 L748 1018.4 L749 1018.8 L750 1019.1 L751 1019.5 L752 1019.8 L753 1020.2 L754 1020.6 L755 1020.9 L756 1021.3 L757 1021.6 L758 1022 L759 1022.3 L760 1022.7 L761 1023.1 L762 1023.4 L763 1023.8 L764 1024.1 L765 1024.5 L766 1024.9 L767 1025.2 L768 1025.6 L769 1025.9 L770 1026.3 L771 1026.6 L772 1027 L773 1027.4 L774 1027.7 L775 1028.1 L776 1028.5 L777 1028.8 L778 1029.2 L779 1029.5 L780 1029.9 L781 1030.3 L782 1030.6 L783 1031 L784 1031.4 L785 1031.7 L786 1032.1 L787 1032.5 L788 1032.9 L789 1033.2 L790 1033.6 L791 1034 L792 1034.3 L793 1034.7 L794 1035.1 L795 1035.4 L796 1035.8 L797 1036.2 L798 1036.6 L799 1036.9 L800 1037.3 L801 1037.7 L802 1038 L803 1038.4 L804 1038.8 L805 1039.2 L806 1039.5 L807 1039.9 L808 1040.3 L809 1040.6 L810 1041 L811 1041.4 L812 1041.7 L813 1042.1 L814 1042.5 L815 1042.8 L816 1043.2 L817 1043.5 L818 1043.9 L819 1044.3 L820 1044.6 L821 1045 L822 1045.3 L823 1045.7 L824 1046.1 L825 1046.4 L826 1046.8 L827 1047.1 L828 1047.5 L829 1047.8 L830 1048.2 L831 1048.5 L832 1048.9 L833 1049.2 L834 1049.5 L835 1049.9 L836 1050.2 L837 1050.6 L838 1050.9 L839 1051.2 L840 1051.6 L841 1051.9 L842 1052.2 L843 1052.6 L844 1052.9 L845 1053.2 L846 1053.6 L847 1053.9 L848 1054.2 L849 1054.5 L850 1054.9 L851 1055.2 L852 1055.5 L853 1055.8 L854 1056.1 L855 1056.4 L856 1056.8 L857 1057.1 L858 1057.4 L859 1057.7 L860 1058 L861 1058.3 L862 1058.6 L863 1058.9 L864 1059.2 L865 1059.5 L866 1059.9 L867 1060.2 L868 1060.5 L869 1060.8 L870 1061.1 L871 1061.4 L872 1061.7 L873 1061.9 L874 1062.2 L875 1062.5 L876 1062.8 L877 1063.1 L878 1063.4 L879 1063.7 L880 1064 L881 1064.3 L882 1064.6 L883 1064.9 L884 1065.1 L885 1065.4 L886 1065.7 L887 1066 L888 1066.3 L889 1066.6 L890 1066.8 L891 1067.1 L892 1067.4 L893 1067.7 L894 1068 L895 1068.2 L896 1068.5 L897 1068.8 L898 1069.1 L899 1069.4 L900 1069.6 L901 1069.9 L902 1070.2 L903 1070.5 L904 1070.7 L905 1071 L906 1071.3 L907 1071.5 L908 1071.8 L909 1072.1 L910 1072.4 L911 1072.6 L912 1072.9 L913 1073.2 L914 1073.4 L915 1073.7 L916 1074 L917 1074.3 L918 1074.5 L919 1074.8 L920 1075.1 L921 1075.3 L922 1075.6 L923 1075.9 L924 1076.1 L925 1076.4 L926 1076.7 L927 1077 L928 1077.2 L929 1077.5 L930 1077.8 L931 1078 L932 1078.3 L933 1078.6 L934 1078.9 L935 1079.1 L936 1079.4 L937 1079.7 L938 1079.9 L939 1080.2 L940 1080.5 L941 1080.8 L942 1081 L943 1081.3 L944 1081.6 L945 1081.8 L946 1082.1 L947 1082.4 L948 1082.6 L949 1082.9 L950 1083.2 L951 1083.5 L952 1083.7 L953 1084 L954 1084.3 L955 1084.5 L956 1084.8 L957 1085 L958 1085.3 L959 1085.6 L960 1085.8 L961 1086.1 L962 1086.3 L963 1086.6 L964 1086.9 L965 1087.1 L966 1087.4 L967 1087.6 L968 1087.9 L969 1088.1 L970 1088.4 L971 1088.6 L972 1088.9 L973 1089.1 L974 1089.4 L975 1089.6 L976 1089.9 L977 1090.1 L978 1090.3 L979 1090.6 L980 1090.8 L981 1091 L982 1091.3 L983 1091.5 L984 1091.7 L985 1092 L986 1092.2 L987 1092.4 L988 1092.6 L989 1092.9 L990 1093.1 L991 1093.3 L992 1093.5 L993 1093.7 L994 1094 L995 1094.2 L996 1094.4 L997 1094.6 L998 1094.8 L999 1095 L1000 1095.2 L1001 1095.4 L1002 1095.6 L1003 1095.8 L1004 1096 L1005 1096.2 L1006 1096.4 L1007 1096.6 L1008 1096.8 L1009 1097 L1010 1097.2 L1011 1097.4 L1012 1097.6 L1013 1097.8 L1014 1098 L1015 1098.2 L1016 1098.4 L1017 1098.5 L1018 1098.7 L1019 1098.9 L1020 1099.1 L1021 1099.3 L1022 1099.5 L1023 1099.6 L1024 1099.8 L1025 1100 L1026 1100.2 L1027 1100.4 L1028 1100.6 L1029 1100.7 L1030 1100.9 L1031 1101.1 L1032 1101.3 L1033 1101.4 L1034 1101.6 L1035 1101.8 L1036 1102 L1037 1102.1 L1038 1102.3 L1039 1102.5 L1040 1102.7 L1041 1102.8 L1042 1103" fill="none" stroke="#006E35" stroke-width="5.0" stroke-dasharray="27 25" stroke-linejoin="round"/>
<path d="M284 1400.6 L285 1400.3 L286 1400 L287 1399.7 L288 1399.3 L289 1399 L290 1398.6 L291 1398.3 L292 1397.9 L293 1397.6 L294 1397.2 L295 1396.8 L296 1396.4 L297 1396 L298 1395.5 L299 1395.1 L300 1394.6 L301 1394.1 L302 1393.6 L303 1393.1 L304 1392.5 L305 1392 L306 1391.4 L307 1390.7 L308 1390.1 L309 1389.4 L310 1388.7 L311 1387.9 L312 1387.2 L313 1386.3 L314 1385.5 L315 1384.6 L316 1383.7 L317 1382.8 L318 1381.8 L319 1380.8 L320 1379.8 L321 1378.7 L322 1377.7 L323 1376.7 L324 1375.6 L325 1374.6 L326 1373.5 L327 1372.5 L328 1371.5 L329 1370.5 L330 1369.5 L331 1368.5 L332 1367.4 L333 1366.4 L334 1365.4 L335 1364.4 L336 1363.3 L337 1362.3 L338 1361.2 L339 1360.1 L340 1359 L341 1357.8 L342 1356.6 L343 1355.4 L344 1354.1 L345 1352.8 L346 1351.4 L347 1350 L348 1348.6 L349 1347.1 L350 1345.6 L351 1344.1 L352 1342.5 L353 1340.9 L354 1339.3 L355 1337.6 L356 1335.9 L357 1334.2 L358 1332.4 L359 1330.6 L360 1328.8 L361 1327 L362 1325.2 L363 1323.3 L364 1321.4 L365 1319.5 L366 1317.6 L367 1315.6 L368 1313.7 L369 1311.7 L370 1309.7 L371 1307.7 L372 1305.6 L373 1303.6 L374 1301.5 L375 1299.4 L376 1297.2 L377 1295.1 L378 1292.9 L379 1290.7 L380 1288.4 L381 1286.2 L382 1283.9 L383 1281.6 L384 1279.2 L385 1276.9 L386 1274.6 L387 1272.2 L388 1269.9 L389 1267.7 L390 1265.4 L391 1263.2 L392 1261 L393 1258.8 L394 1256.6 L395 1254.5 L396 1252.3 L397 1250.1 L398 1247.9 L399 1245.7 L400 1243.5 L401 1241.3 L402 1239.1 L403 1236.9 L404 1234.6 L405 1232.4 L406 1230.1 L407 1227.9 L408 1225.6 L409 1223.4 L410 1221.1 L411 1218.9 L412 1216.6 L413 1214.3 L414 1212 L415 1209.7 L416 1207.3 L417 1205 L418 1202.6 L419 1200.2 L420 1197.8 L421 1195.3 L422 1192.9 L423 1190.4 L424 1188 L425 1185.5 L426 1183.1 L427 1180.7 L428 1178.3 L429 1175.8 L430 1173.5 L431 1171.1 L432 1168.7 L433 1166.4 L434 1164 L435 1161.7 L436 1159.4 L437 1157.2 L438 1154.9 L439 1152.7 L440 1150.4 L441 1148.2 L442 1146 L443 1143.8 L444 1141.7 L445 1139.5 L446 1137.3 L447 1135.2 L448 1133.1 L449 1130.9 L450 1128.8 L451 1126.7 L452 1124.7 L453 1122.6 L454 1120.6 L455 1118.6 L456 1116.6 L457 1114.6 L458 1112.7 L459 1110.8 L460 1108.9 L461 1107 L462 1105.1 L463 1103.3 L464 1101.4 L465 1099.6 L466 1097.8 L467 1096 L468 1094.2 L469 1092.5 L470 1090.7 L471 1088.9 L472 1087.1 L473 1085.4 L474 1083.6 L475 1081.8 L476 1080.1 L477 1078.3 L478 1076.5 L479 1074.7 L480 1073 L481 1071.2 L482 1069.4 L483 1067.6 L484 1065.9 L485 1064.2 L486 1062.4 L487 1060.8 L488 1059.1 L489 1057.5 L490 1055.9 L491 1054.3 L492 1052.8 L493 1051.3 L494 1049.9 L495 1048.4 L496 1047 L497 1045.6 L498 1044.2 L499 1042.9 L500 1041.5 L501 1040.2 L502 1038.9 L503 1037.5 L504 1036.2 L505 1034.9 L506 1033.6 L507 1032.2 L508 1030.9 L509 1029.6 L510 1028.3 L511 1027 L512 1025.7 L513 1024.4 L514 1023.1 L515 1021.8 L516 1020.5 L517 1019.2 L518 1018 L519 1016.7 L520 1015.4 L521 1014.2 L522 1012.9 L523 1011.6 L524 1010.4 L525 1009.2 L526 1007.9 L527 1006.7 L528 1005.5 L529 1004.3 L530 1003 L531 1001.8 L532 1000.6 L533 999.5 L534 998.3 L535 997.1 L536 995.9 L537 994.8 L538 993.6 L539 992.5 L540 991.4 L541 990.3 L542 989.2 L543 988.1 L544 987 L545 986 L546 984.9 L547 983.9 L548 982.9 L549 981.9 L550 980.9 L551 980 L552 979.1 L553 978.2 L554 977.3 L555 976.4 L556 975.6 L557 974.7 L558 973.9 L559 973.1 L560 972.3 L561 971.6 L562 970.8 L563 970.1 L564 969.4 L565 968.7 L566 968 L567 967.4 L568 966.7 L569 966.1 L570 965.5 L571 964.9 L572 964.3 L573 963.7 L574 963.2 L575 962.6 L576 962.1 L577 961.6 L578 961 L579 960.5 L580 960.1 L581 959.6 L582 959.1 L583 958.6 L584 958.2 L585 957.7 L586 957.3 L587 956.8 L588 956.4 L589 956 L590 955.5 L591 955.1 L592 954.7 L593 954.3 L594 953.9 L595 953.5 L596 953 L597 952.6 L598 952.2 L599 951.8 L600 951.5 L601 951.1 L602 950.7 L603 950.3 L604 949.9 L605 949.5 L606 949.2 L607 948.8 L608 948.5 L609 948.1 L610 947.8 L611 947.4 L612 947.1 L613 946.7 L614 946.4 L615 946.1 L616 945.8 L617 945.5 L618 945.1 L619 944.8 L620 944.5 L621 944.3 L622 944 L623 943.7 L624 943.4 L625 943.2 L626 942.9 L627 942.7 L628 942.4 L629 942.2 L630 941.9 L631 941.7 L632 941.5 L633 941.3 L634 941.1 L635 940.9 L636 940.7 L637 940.5 L638 940.4 L639 940.2 L640 940 L641 939.9 L642 939.7 L643 939.6 L644 939.5 L645 939.4 L646 939.2 L647 939.1 L648 939 L649 938.9 L650 938.8 L651 938.7 L652 938.6 L653 938.6 L654 938.5 L655 938.4 L656 938.4 L657 938.3 L658 938.3 L659 938.2 L660 938.2 L661 938.1 L662 938.1 L663 938 L664 938 L665 938 L666 938 L667 937.9 L668 937.9 L669 937.9 L670 937.9 L671 937.9 L672 937.9 L673 937.9 L674 937.9 L675 937.9 L676 938 L677 938 L678 938 L679 938 L680 938.1 L681 938.1 L682 938.1 L683 938.2 L684 938.2 L685 938.2 L686 938.3 L687 938.3 L688 938.4 L689 938.4 L690 938.5 L691 938.6 L692 938.6 L693 938.7 L694 938.8 L695 938.8 L696 938.9 L697 939 L698 939.1 L699 939.2 L700 939.3 L701 939.4 L702 939.5 L703 939.5 L704 939.6 L705 939.8 L706 939.9 L707 940 L708 940.1 L709 940.2 L710 940.3 L711 940.4 L712 940.6 L713 940.7 L714 940.8 L715 940.9 L716 941.1 L717 941.2 L718 941.3 L719 941.5 L720 941.6 L721 941.7 L722 941.9 L723 942 L724 942.2 L725 942.3 L726 942.5 L727 942.6 L728 942.8 L729 942.9 L730 943 L731 943.2 L732 943.3 L733 943.5 L734 943.6 L735 943.8 L736 944 L737 944.1 L738 944.3 L739 944.4 L740 944.6 L741 944.7 L742 944.9 L743 945 L744 945.2 L745 945.4 L746 945.5 L747 945.7 L748 945.8 L749 946 L750 946.2 L751 946.3 L752 946.5 L753 946.7 L754 946.9 L755 947 L756 947.2 L757 947.4 L758 947.6 L759 947.7 L760 947.9 L761 948.1 L762 948.3 L763 948.5 L764 948.6 L765 948.8 L766 949 L767 949.2 L768 949.4 L769 949.6 L770 949.8 L771 950 L772 950.2 L773 950.4 L774 950.6 L775 950.8 L776 951 L777 951.2 L778 951.4 L779 951.6 L780 951.8 L781 952 L782 952.2 L783 952.4 L784 952.6 L785 952.8 L786 953 L787 953.2 L788 953.4 L789 953.6 L790 953.8 L791 954 L792 954.2 L793 954.5 L794 954.7 L795 954.9 L796 955.1 L797 955.3 L798 955.5 L799 955.8 L800 956 L801 956.2 L802 956.4 L803 956.6 L804 956.9 L805 957.1 L806 957.3 L807 957.5 L808 957.8 L809 958 L810 958.2 L811 958.4 L812 958.7 L813 958.9 L814 959.1 L815 959.3 L816 959.6 L817 959.8 L818 960 L819 960.2 L820 960.4 L821 960.7 L822 960.9 L823 961.1 L824 961.3 L825 961.5 L826 961.7 L827 962 L828 962.2 L829 962.4 L830 962.6 L831 962.8 L832 963 L833 963.2 L834 963.4 L835 963.6 L836 963.8 L837 964 L838 964.3 L839 964.5 L840 964.7 L841 964.9 L842 965.1 L843 965.3 L844 965.5 L845 965.7 L846 966 L847 966.2 L848 966.4 L849 966.6 L850 966.8 L851 967.1 L852 967.3 L853 967.5 L854 967.8 L855 968 L856 968.2 L857 968.4 L858 968.7 L859 968.9 L860 969.1 L861 969.4 L862 969.6 L863 969.8 L864 970.1 L865 970.3 L866 970.5 L867 970.8 L868 971 L869 971.2 L870 971.4 L871 971.6 L872 971.9 L873 972.1 L874 972.3 L875 972.5 L876 972.7 L877 972.9 L878 973.2 L879 973.4 L880 973.6 L881 973.8 L882 974 L883 974.2 L884 974.4 L885 974.6 L886 974.8 L887 975 L888 975.3 L889 975.5 L890 975.7 L891 975.9 L892 976.1 L893 976.3 L894 976.5 L895 976.7 L896 976.9 L897 977.2 L898 977.4 L899 977.6 L900 977.8 L901 978 L902 978.2 L903 978.4 L904 978.7 L905 978.9 L906 979.1 L907 979.3 L908 979.5 L909 979.7 L910 979.9 L911 980.1 L912 980.3 L913 980.6 L914 980.8 L915 981 L916 981.2 L917 981.4 L918 981.6 L919 981.8 L920 982 L921 982.1 L922 982.3 L923 982.5 L924 982.7 L925 982.9 L926 983.1 L927 983.3 L928 983.5 L929 983.6 L930 983.8 L931 984 L932 984.2 L933 984.4 L934 984.6 L935 984.8 L936 985 L937 985.2 L938 985.3 L939 985.5 L940 985.7 L941 985.9 L942 986.1 L943 986.3 L944 986.5 L945 986.7 L946 986.9 L947 987.2 L948 987.4 L949 987.6 L950 987.8 L951 988 L952 988.2 L953 988.4 L954 988.6 L955 988.9 L956 989.1 L957 989.3 L958 989.5 L959 989.7 L960 989.9 L961 990.2 L962 990.4 L963 990.6 L964 990.8 L965 991 L966 991.3 L967 991.5 L968 991.7 L969 991.9 L970 992.1 L971 992.3 L972 992.5 L973 992.8 L974 993 L975 993.2 L976 993.4 L977 993.6 L978 993.8 L979 994 L980 994.2 L981 994.4 L982 994.6 L983 994.8 L984 995 L985 995.2 L986 995.4 L987 995.6 L988 995.8 L989 996 L990 996.2 L991 996.4 L992 996.6 L993 996.8 L994 996.9 L995 997.1 L996 997.3 L997 997.5 L998 997.7 L999 997.8 L1000 998 L1001 998.2 L1002 998.4 L1003 998.5 L1004 998.7 L1005 998.9 L1006 999.1 L1007 999.2 L1008 999.4 L1009 999.6 L1010 999.8 L1011 999.9 L1012 1000.1 L1013 1000.3 L1014 1000.5 L1015 1000.7 L1016 1000.8 L1017 1001 L1018 1001.2 L1019 1001.4 L1020 1001.5 L1021 1001.7 L1022 1001.9 L1023 1002.1 L1024 1002.3 L1025 1002.4 L1026 1002.6 L1027 1002.8 L1028 1003 L1029 1003.2 L1030 1003.3 L1031 1003.5 L1032 1003.7 L1033 1003.9 L1034 1004.1 L1035 1004.2 L1036 1004.4 L1037 1004.6 L1038 1004.8 L1039 1005 L1040 1005.1 L1041 1005.3 L1042 1005.5" fill="none" stroke="#E11E19" stroke-width="5.0" stroke-dasharray="14 9.6" stroke-linejoin="round"/>
<path d="M284 1400.5 L285 1400.3 L286 1400 L287 1399.8 L288 1399.5 L289 1399.3 L290 1399 L291 1398.8 L292 1398.5 L293 1398.2 L294 1398 L295 1397.7 L296 1397.4 L297 1397.2 L298 1396.9 L299 1396.6 L300 1396.3 L301 1396 L302 1395.7 L303 1395.4 L304 1395.1 L305 1394.8 L306 1394.5 L307 1394.2 L308 1393.8 L309 1393.5 L310 1393.1 L311 1392.7 L312 1392.3 L313 1391.9 L314 1391.4 L315 1391 L316 1390.5 L317 1389.9 L318 1389.4 L319 1388.8 L320 1388.2 L321 1387.6 L322 1386.9 L323 1386.1 L324 1385.4 L325 1384.6 L326 1383.8 L327 1382.9 L328 1382 L329 1381 L330 1380 L331 1379 L332 1378 L333 1376.9 L334 1375.8 L335 1374.7 L336 1373.6 L337 1372.4 L338 1371.2 L339 1370.1 L340 1368.9 L341 1367.7 L342 1366.5 L343 1365.3 L344 1364.1 L345 1362.8 L346 1361.6 L347 1360.4 L348 1359.2 L349 1358 L350 1356.8 L351 1355.7 L352 1354.5 L353 1353.3 L354 1352.1 L355 1350.9 L356 1349.7 L357 1348.4 L358 1347.2 L359 1346 L360 1344.7 L361 1343.4 L362 1342.1 L363 1340.8 L364 1339.4 L365 1338 L366 1336.6 L367 1335.1 L368 1333.6 L369 1332.1 L370 1330.5 L371 1328.9 L372 1327.3 L373 1325.7 L374 1324 L375 1322.3 L376 1320.5 L377 1318.8 L378 1317 L379 1315.2 L380 1313.5 L381 1311.7 L382 1309.9 L383 1308.1 L384 1306.3 L385 1304.5 L386 1302.8 L387 1301 L388 1299.3 L389 1297.5 L390 1295.8 L391 1294 L392 1292.3 L393 1290.5 L394 1288.7 L395 1287 L396 1285.2 L397 1283.4 L398 1281.6 L399 1279.7 L400 1277.8 L401 1275.9 L402 1274 L403 1272.1 L404 1270.1 L405 1268.1 L406 1266.1 L407 1264.1 L408 1262.1 L409 1260.1 L410 1258 L411 1256 L412 1254 L413 1251.9 L414 1249.9 L415 1247.9 L416 1245.9 L417 1243.9 L418 1241.9 L419 1239.9 L420 1238 L421 1236 L422 1234 L423 1232.1 L424 1230.1 L425 1228.1 L426 1226.1 L427 1224 L428 1222 L429 1219.9 L430 1217.8 L431 1215.6 L432 1213.5 L433 1211.3 L434 1209 L435 1206.8 L436 1204.5 L437 1202.2 L438 1200 L439 1197.7 L440 1195.4 L441 1193.2 L442 1191 L443 1188.8 L444 1186.6 L445 1184.5 L446 1182.4 L447 1180.4 L448 1178.3 L449 1176.3 L450 1174.4 L451 1172.4 L452 1170.5 L453 1168.6 L454 1166.7 L455 1164.8 L456 1162.9 L457 1161.1 L458 1159.2 L459 1157.4 L460 1155.5 L461 1153.7 L462 1151.9 L463 1150.1 L464 1148.3 L465 1146.5 L466 1144.7 L467 1142.9 L468 1141.1 L469 1139.3 L470 1137.5 L471 1135.7 L472 1133.9 L473 1132.1 L474 1130.3 L475 1128.5 L476 1126.7 L477 1124.9 L478 1123.1 L479 1121.3 L480 1119.5 L481 1117.7 L482 1115.9 L483 1114.1 L484 1112.3 L485 1110.5 L486 1108.8 L487 1107 L488 1105.3 L489 1103.6 L490 1101.9 L491 1100.2 L492 1098.5 L493 1096.9 L494 1095.2 L495 1093.6 L496 1092 L497 1090.4 L498 1088.8 L499 1087.3 L500 1085.7 L501 1084.1 L502 1082.6 L503 1081.1 L504 1079.5 L505 1078 L506 1076.5 L507 1075 L508 1073.5 L509 1072 L510 1070.5 L511 1069 L512 1067.5 L513 1066.1 L514 1064.6 L515 1063.1 L516 1061.7 L517 1060.2 L518 1058.8 L519 1057.3 L520 1055.9 L521 1054.5 L522 1053 L523 1051.6 L524 1050.2 L525 1048.9 L526 1047.5 L527 1046.1 L528 1044.7 L529 1043.4 L530 1042.1 L531 1040.7 L532 1039.4 L533 1038.1 L534 1036.8 L535 1035.5 L536 1034.3 L537 1033 L538 1031.7 L539 1030.5 L540 1029.3 L541 1028 L542 1026.8 L543 1025.6 L544 1024.4 L545 1023.3 L546 1022.1 L547 1020.9 L548 1019.8 L549 1018.6 L550 1017.5 L551 1016.4 L552 1015.2 L553 1014.1 L554 1013 L555 1011.9 L556 1010.9 L557 1009.8 L558 1008.7 L559 1007.7 L560 1006.7 L561 1005.6 L562 1004.6 L563 1003.6 L564 1002.6 L565 1001.6 L566 1000.6 L567 999.6 L568 998.6 L569 997.7 L570 996.7 L571 995.8 L572 994.9 L573 993.9 L574 993 L575 992.1 L576 991.2 L577 990.3 L578 989.4 L579 988.6 L580 987.7 L581 986.8 L582 986 L583 985.1 L584 984.3 L585 983.5 L586 982.7 L587 981.9 L588 981.1 L589 980.3 L590 979.5 L591 978.7 L592 977.9 L593 977.2 L594 976.4 L595 975.6 L596 974.9 L597 974.2 L598 973.4 L599 972.7 L600 972 L601 971.3 L602 970.6 L603 969.9 L604 969.2 L605 968.5 L606 967.9 L607 967.2 L608 966.6 L609 965.9 L610 965.3 L611 964.6 L612 964 L613 963.4 L614 962.8 L615 962.2 L616 961.6 L617 961 L618 960.4 L619 959.8 L620 959.3 L621 958.7 L622 958.2 L623 957.6 L624 957.1 L625 956.6 L626 956 L627 955.5 L628 955 L629 954.5 L630 954 L631 953.5 L632 953.1 L633 952.6 L634 952.1 L635 951.7 L636 951.2 L637 950.8 L638 950.3 L639 949.9 L640 949.5 L641 949 L642 948.6 L643 948.2 L644 947.8 L645 947.4 L646 947 L647 946.7 L648 946.3 L649 945.9 L650 945.5 L651 945.2 L652 944.8 L653 944.5 L654 944.1 L655 943.8 L656 943.4 L657 943.1 L658 942.8 L659 942.5 L660 942.2 L661 941.8 L662 941.5 L663 941.2 L664 941 L665 940.7 L666 940.4 L667 940.1 L668 939.8 L669 939.6 L670 939.3 L671 939 L672 938.8 L673 938.5 L674 938.3 L675 938 L676 937.8 L677 937.6 L678 937.3 L679 937.1 L680 936.9 L681 936.7 L682 936.5 L683 936.3 L684 936 L685 935.8 L686 935.7 L687 935.5 L688 935.3 L689 935.1 L690 934.9 L691 934.7 L692 934.6 L693 934.4 L694 934.2 L695 934.1 L696 933.9 L697 933.7 L698 933.6 L699 933.4 L700 933.3 L701 933.1 L702 933 L703 932.8 L704 932.7 L705 932.6 L706 932.4 L707 932.3 L708 932.1 L709 932 L710 931.9 L711 931.7 L712 931.6 L713 931.5 L714 931.3 L715 931.2 L716 931.1 L717 931 L718 930.8 L719 930.7 L720 930.6 L721 930.4 L722 930.3 L723 930.2 L724 930.1 L725 929.9 L726 929.8 L727 929.7 L728 929.6 L729 929.5 L730 929.3 L731 929.2 L732 929.1 L733 929 L734 928.9 L735 928.8 L736 928.7 L737 928.6 L738 928.5 L739 928.4 L740 928.3 L741 928.2 L742 928.1 L743 928.1 L744 928 L745 927.9 L746 927.9 L747 927.8 L748 927.8 L749 927.7 L750 927.7 L751 927.6 L752 927.6 L753 927.6 L754 927.6 L755 927.5 L756 927.5 L757 927.5 L758 927.5 L759 927.5 L760 927.5 L761 927.5 L762 927.6 L763 927.6 L764 927.6 L765 927.6 L766 927.7 L767 927.7 L768 927.7 L769 927.7 L770 927.8 L771 927.8 L772 927.9 L773 927.9 L774 927.9 L775 928 L776 928 L777 928.1 L778 928.1 L779 928.2 L780 928.2 L781 928.2 L782 928.3 L783 928.3 L784 928.4 L785 928.4 L786 928.4 L787 928.5 L788 928.5 L789 928.6 L790 928.6 L791 928.6 L792 928.7 L793 928.7 L794 928.7 L795 928.8 L796 928.8 L797 928.8 L798 928.9 L799 928.9 L800 928.9 L801 929 L802 929 L803 929 L804 929.1 L805 929.1 L806 929.1 L807 929.2 L808 929.2 L809 929.2 L810 929.3 L811 929.3 L812 929.4 L813 929.4 L814 929.5 L815 929.5 L816 929.6 L817 929.6 L818 929.7 L819 929.7 L820 929.8 L821 929.8 L822 929.9 L823 929.9 L824 930 L825 930.1 L826 930.1 L827 930.2 L828 930.3 L829 930.3 L830 930.4 L831 930.5 L832 930.6 L833 930.6 L834 930.7 L835 930.8 L836 930.9 L837 930.9 L838 931 L839 931.1 L840 931.2 L841 931.3 L842 931.3 L843 931.4 L844 931.5 L845 931.6 L846 931.7 L847 931.8 L848 931.9 L849 932 L850 932 L851 932.1 L852 932.2 L853 932.3 L854 932.4 L855 932.5 L856 932.6 L857 932.7 L858 932.8 L859 932.9 L860 933 L861 933.1 L862 933.2 L863 933.3 L864 933.4 L865 933.5 L866 933.6 L867 933.7 L868 933.8 L869 933.9 L870 934 L871 934.1 L872 934.2 L873 934.3 L874 934.4 L875 934.5 L876 934.6 L877 934.7 L878 934.8 L879 934.9 L880 935 L881 935.1 L882 935.3 L883 935.4 L884 935.5 L885 935.6 L886 935.7 L887 935.8 L888 935.9 L889 936 L890 936.2 L891 936.3 L892 936.4 L893 936.5 L894 936.6 L895 936.7 L896 936.9 L897 937 L898 937.1 L899 937.2 L900 937.3 L901 937.4 L902 937.6 L903 937.7 L904 937.8 L905 937.9 L906 938 L907 938.1 L908 938.3 L909 938.4 L910 938.5 L911 938.6 L912 938.7 L913 938.8 L914 938.9 L915 939 L916 939.1 L917 939.2 L918 939.3 L919 939.5 L920 939.6 L921 939.7 L922 939.8 L923 939.9 L924 940 L925 940.1 L926 940.2 L927 940.3 L928 940.4 L929 940.5 L930 940.6 L931 940.7 L932 940.8 L933 940.9 L934 941 L935 941.1 L936 941.2 L937 941.3 L938 941.4 L939 941.5 L940 941.6 L941 941.7 L942 941.8 L943 941.9 L944 942 L945 942.1 L946 942.2 L947 942.3 L948 942.4 L949 942.5 L950 942.7 L951 942.8 L952 942.9 L953 943 L954 943.1 L955 943.2 L956 943.3 L957 943.5 L958 943.6 L959 943.7 L960 943.8 L961 943.9 L962 944.1 L963 944.2 L964 944.3 L965 944.4 L966 944.6 L967 944.7 L968 944.8 L969 944.9 L970 945 L971 945.2 L972 945.3 L973 945.4 L974 945.5 L975 945.7 L976 945.8 L977 945.9 L978 946 L979 946.1 L980 946.3 L981 946.4 L982 946.5 L983 946.6 L984 946.7 L985 946.8 L986 946.9 L987 947.1 L988 947.2 L989 947.3 L990 947.4 L991 947.5 L992 947.6 L993 947.7 L994 947.8 L995 947.9 L996 948 L997 948.1 L998 948.3 L999 948.4 L1000 948.5 L1001 948.6 L1002 948.7 L1003 948.8 L1004 948.9 L1005 949 L1006 949.1 L1007 949.2 L1008 949.3 L1009 949.4 L1010 949.5 L1011 949.6 L1012 949.7 L1013 949.8 L1014 949.9 L1015 950 L1016 950.1 L1017 950.2 L1018 950.3 L1019 950.4 L1020 950.4 L1021 950.5 L1022 950.6 L1023 950.7 L1024 950.8 L1025 950.9 L1026 951 L1027 951.2 L1028 951.3 L1029 951.4 L1030 951.5 L1031 951.6 L1032 951.7 L1033 951.8 L1034 951.9 L1035 952 L1036 952.2 L1037 952.3 L1038 952.4 L1039 952.5 L1040 952.7 L1041 952.8 L1042 952.9" fill="none" stroke="#00408A" stroke-width="5.0" stroke-dasharray="32 12 9 12" stroke-linejoin="round"/>
</g>
<path d="M240.1 812.9H1043.9V815.5H240.1Z M240.1 1399.5H1043.9V1404.4H240.1Z M240.1 812.9H244.7V1404.4H240.1Z M1040 812.9H1043.9V1404.4H1040Z" fill="#000"/>
<path d="M242.5 1343.2H251 M322.4 1402V1393.5 M242.5 1284.5H256.5 M402.4 1402V1388 M242.5 1225.8H251 M482.4 1402V1393.5 M242.5 1167H256.5 M562.3 1402V1388 M242.5 1108.2H251 M642.2 1402V1393.5 M242.5 1049.5H256.5 M722.2 1402V1388 M242.5 990.8H251 M802.1 1402V1393.5 M242.5 932H256.5 M882.1 1402V1388 M242.5 873.2H251 M962 1402V1393.5" stroke="#000" stroke-width="3" fill="none"/>
<text transform="translate(229.7 1413.4) scale(1 1.045)" class="tl" text-anchor="end">0.00</text>
<text transform="translate(229.7 1295.9) scale(1 1.045)" class="tl" text-anchor="end">0.02</text>
<text transform="translate(229.7 1178.4) scale(1 1.045)" class="tl" text-anchor="end">0.04</text>
<text transform="translate(229.7 1060.9) scale(1 1.045)" class="tl" text-anchor="end">0.06</text>
<text transform="translate(229.7 943.4) scale(1 1.045)" class="tl" text-anchor="end">0.08</text>
<text transform="translate(229.7 825.9) scale(1 1.045)" class="tl" text-anchor="end">0.10</text>
<text transform="translate(242.5 1445.9) scale(1 1.045)" class="tl" text-anchor="middle">0.00</text>
<text transform="translate(402.4 1445.9) scale(1 1.045)" class="tl" text-anchor="middle">0.04</text>
<text transform="translate(562.3 1445.9) scale(1 1.045)" class="tl" text-anchor="middle">0.08</text>
<text transform="translate(722.2 1445.9) scale(1 1.045)" class="tl" text-anchor="middle">0.12</text>
<text transform="translate(882.1 1445.9) scale(1 1.045)" class="tl" text-anchor="middle">0.16</text>
<text transform="translate(1042 1445.9) scale(1 1.045)" class="tl" text-anchor="middle">0.20</text>
<g clip-path="url(#clipd)">
<path d="M1326.3 1398.9 L1327.3 1398.9 L1328.3 1398.9 L1329.3 1398.9 L1330.3 1398.9 L1331.3 1398.9 L1332.3 1398.9 L1333.3 1398.9 L1334.3 1398.9 L1335.3 1398.9 L1336.3 1398.8 L1337.3 1398.8 L1338.3 1398.8 L1339.3 1398.8 L1340.3 1398.8 L1341.3 1398.8 L1342.3 1398.8 L1343.3 1398.8 L1344.3 1398.8 L1345.3 1398.8 L1346.3 1398.8 L1347.3 1398.8 L1348.3 1398.8 L1349.3 1398.8 L1350.3 1398.8 L1351.3 1398.8 L1352.3 1398.8 L1353.3 1398.8 L1354.3 1398.7 L1355.3 1398.7 L1356.3 1398.6 L1357.3 1398.5 L1358.3 1398.4 L1359.3 1398.3 L1360.3 1398.2 L1361.3 1398.1 L1362.3 1397.9 L1363.3 1397.7 L1364.3 1397.6 L1365.3 1397.3 L1366.3 1397.1 L1367.3 1396.8 L1368.3 1396.6 L1369.3 1396.3 L1370.3 1395.9 L1371.3 1395.6 L1372.3 1395.2 L1373.3 1394.9 L1374.3 1394.5 L1375.3 1394.1 L1376.3 1393.7 L1377.3 1393.2 L1378.3 1392.8 L1379.3 1392.4 L1380.3 1391.9 L1381.3 1391.5 L1382.3 1391 L1383.3 1390.6 L1384.3 1390.1 L1385.3 1389.7 L1386.3 1389.2 L1387.3 1388.7 L1388.3 1388.3 L1389.3 1387.8 L1390.3 1387.3 L1391.3 1386.9 L1392.3 1386.4 L1393.3 1385.9 L1394.3 1385.4 L1395.3 1384.9 L1396.3 1384.4 L1397.3 1383.9 L1398.3 1383.4 L1399.3 1382.9 L1400.3 1382.4 L1401.3 1381.8 L1402.3 1381.3 L1403.3 1380.7 L1404.3 1380.1 L1405.3 1379.5 L1406.3 1378.9 L1407.3 1378.2 L1408.3 1377.6 L1409.3 1376.9 L1410.3 1376.1 L1411.3 1375.4 L1412.3 1374.6 L1413.3 1373.8 L1414.3 1373 L1415.3 1372.2 L1416.3 1371.3 L1417.3 1370.4 L1418.3 1369.5 L1419.3 1368.6 L1420.3 1367.7 L1421.3 1366.7 L1422.3 1365.8 L1423.3 1364.8 L1424.3 1363.8 L1425.3 1362.8 L1426.3 1361.9 L1427.3 1360.9 L1428.3 1359.9 L1429.3 1358.9 L1430.3 1357.9 L1431.3 1356.9 L1432.3 1355.9 L1433.3 1354.8 L1434.3 1353.8 L1435.3 1352.7 L1436.3 1351.7 L1437.3 1350.6 L1438.3 1349.5 L1439.3 1348.4 L1440.3 1347.3 L1441.3 1346.1 L1442.3 1344.9 L1443.3 1343.7 L1444.3 1342.5 L1445.3 1341.2 L1446.3 1339.9 L1447.3 1338.5 L1448.3 1337.1 L1449.3 1335.7 L1450.3 1334.2 L1451.3 1332.7 L1452.3 1331.2 L1453.3 1329.7 L1454.3 1328.3 L1455.3 1326.8 L1456.3 1325.4 L1457.3 1323.9 L1458.3 1322.5 L1459.3 1321.1 L1460.3 1319.8 L1461.3 1318.4 L1462.3 1317 L1463.3 1315.7 L1464.3 1314.4 L1465.3 1313 L1466.3 1311.7 L1467.3 1310.3 L1468.3 1309 L1469.3 1307.7 L1470.3 1306.3 L1471.3 1305 L1472.3 1303.6 L1473.3 1302.2 L1474.3 1300.9 L1475.3 1299.5 L1476.3 1298.1 L1477.3 1296.7 L1478.3 1295.3 L1479.3 1293.9 L1480.3 1292.5 L1481.3 1291.1 L1482.3 1289.7 L1483.3 1288.3 L1484.3 1286.9 L1485.3 1285.5 L1486.3 1284 L1487.3 1282.6 L1488.3 1281.1 L1489.3 1279.7 L1490.3 1278.2 L1491.3 1276.7 L1492.3 1275.3 L1493.3 1273.8 L1494.3 1272.3 L1495.3 1270.8 L1496.3 1269.3 L1497.3 1267.8 L1498.3 1266.2 L1499.3 1264.7 L1500.3 1263.1 L1501.3 1261.6 L1502.3 1260 L1503.3 1258.5 L1504.3 1256.9 L1505.3 1255.3 L1506.3 1253.7 L1507.3 1252.1 L1508.3 1250.4 L1509.3 1248.8 L1510.3 1247.2 L1511.3 1245.6 L1512.3 1243.9 L1513.3 1242.3 L1514.3 1240.7 L1515.3 1239.1 L1516.3 1237.4 L1517.3 1235.8 L1518.3 1234.2 L1519.3 1232.6 L1520.3 1231 L1521.3 1229.4 L1522.3 1227.9 L1523.3 1226.3 L1524.3 1224.8 L1525.3 1223.3 L1526.3 1221.7 L1527.3 1220.2 L1528.3 1218.7 L1529.3 1217.3 L1530.3 1215.8 L1531.3 1214.4 L1532.3 1212.9 L1533.3 1211.5 L1534.3 1210.1 L1535.3 1208.7 L1536.3 1207.4 L1537.3 1206 L1538.3 1204.7 L1539.3 1203.4 L1540.3 1202.1 L1541.3 1200.8 L1542.3 1199.5 L1543.3 1198.3 L1544.3 1197.1 L1545.3 1195.8 L1546.3 1194.7 L1547.3 1193.5 L1548.3 1192.3 L1549.3 1191.2 L1550.3 1190.1 L1551.3 1188.9 L1552.3 1187.9 L1553.3 1186.8 L1554.3 1185.7 L1555.3 1184.7 L1556.3 1183.7 L1557.3 1182.7 L1558.3 1181.7 L1559.3 1180.7 L1560.3 1179.8 L1561.3 1178.8 L1562.3 1177.9 L1563.3 1177 L1564.3 1176.1 L1565.3 1175.3 L1566.3 1174.4 L1567.3 1173.6 L1568.3 1172.7 L1569.3 1171.9 L1570.3 1171.1 L1571.3 1170.3 L1572.3 1169.5 L1573.3 1168.8 L1574.3 1168 L1575.3 1167.3 L1576.3 1166.5 L1577.3 1165.8 L1578.3 1165.1 L1579.3 1164.4 L1580.3 1163.7 L1581.3 1163 L1582.3 1162.4 L1583.3 1161.7 L1584.3 1161.1 L1585.3 1160.4 L1586.3 1159.8 L1587.3 1159.2 L1588.3 1158.6 L1589.3 1158 L1590.3 1157.4 L1591.3 1156.8 L1592.3 1156.2 L1593.3 1155.6 L1594.3 1155 L1595.3 1154.4 L1596.3 1153.9 L1597.3 1153.3 L1598.3 1152.7 L1599.3 1152.1 L1600.3 1151.5 L1601.3 1150.9 L1602.3 1150.3 L1603.3 1149.6 L1604.3 1149 L1605.3 1148.4 L1606.3 1147.7 L1607.3 1147 L1608.3 1146.4 L1609.3 1145.7 L1610.3 1145 L1611.3 1144.4 L1612.3 1143.7 L1613.3 1143 L1614.3 1142.3 L1615.3 1141.6 L1616.3 1140.9 L1617.3 1140.2 L1618.3 1139.5 L1619.3 1138.8 L1620.3 1138.2 L1621.3 1137.5 L1622.3 1136.8 L1623.3 1136.1 L1624.3 1135.4 L1625.3 1134.8 L1626.3 1134.1 L1627.3 1133.5 L1628.3 1132.8 L1629.3 1132.2 L1630.3 1131.6 L1631.3 1131 L1632.3 1130.4 L1633.3 1129.8 L1634.3 1129.2 L1635.3 1128.6 L1636.3 1128.1 L1637.3 1127.5 L1638.3 1127 L1639.3 1126.5 L1640.3 1126 L1641.3 1125.5 L1642.3 1125 L1643.3 1124.5 L1644.3 1124.1 L1645.3 1123.6 L1646.3 1123.2 L1647.3 1122.8 L1648.3 1122.4 L1649.3 1122 L1650.3 1121.6 L1651.3 1121.2 L1652.3 1120.8 L1653.3 1120.5 L1654.3 1120.1 L1655.3 1119.8 L1656.3 1119.4 L1657.3 1119.1 L1658.3 1118.8 L1659.3 1118.5 L1660.3 1118.2 L1661.3 1117.9 L1662.3 1117.6 L1663.3 1117.4 L1664.3 1117.1 L1665.3 1116.9 L1666.3 1116.6 L1667.3 1116.4 L1668.3 1116.1 L1669.3 1115.9 L1670.3 1115.7 L1671.3 1115.5 L1672.3 1115.3 L1673.3 1115.1 L1674.3 1114.9 L1675.3 1114.7 L1676.3 1114.5 L1677.3 1114.3 L1678.3 1114.1 L1679.3 1114 L1680.3 1113.8 L1681.3 1113.6 L1682.3 1113.5 L1683.3 1113.3 L1684.3 1113.2 L1685.3 1113 L1686.3 1112.9 L1687.3 1112.7 L1688.3 1112.6 L1689.3 1112.4 L1690.3 1112.3 L1691.3 1112.2 L1692.3 1112.1 L1693.3 1111.9 L1694.3 1111.8 L1695.3 1111.7 L1696.3 1111.6 L1697.3 1111.5 L1698.3 1111.4 L1699.3 1111.2 L1700.3 1111.1 L1701.3 1111 L1702.3 1110.9 L1703.3 1110.9 L1704.3 1110.8 L1705.3 1110.7 L1706.3 1110.6 L1707.3 1110.5 L1708.3 1110.4 L1709.3 1110.3 L1710.3 1110.3 L1711.3 1110.2 L1712.3 1110.1 L1713.3 1110 L1714.3 1110 L1715.3 1109.9 L1716.3 1109.9 L1717.3 1109.8 L1718.3 1109.7 L1719.3 1109.7 L1720.3 1109.6 L1721.3 1109.6 L1722.3 1109.5 L1723.3 1109.5 L1724.3 1109.4 L1725.3 1109.4 L1726.3 1109.4 L1727.3 1109.3 L1728.3 1109.3 L1729.3 1109.3 L1730.3 1109.2 L1731.3 1109.2 L1732.3 1109.2 L1733.3 1109.2 L1734.3 1109.1 L1735.3 1109.1 L1736.3 1109.1 L1737.3 1109.1 L1738.3 1109.1 L1739.3 1109.1 L1740.3 1109.1 L1741.3 1109 L1742.3 1109 L1743.3 1109 L1744.3 1109 L1745.3 1109 L1746.3 1109 L1747.3 1109 L1748.3 1109.1 L1749.3 1109.1 L1750.3 1109.1 L1751.3 1109.1 L1752.3 1109.1 L1753.3 1109.1 L1754.3 1109.1 L1755.3 1109.1 L1756.3 1109.2 L1757.3 1109.2 L1758.3 1109.2 L1759.3 1109.2 L1760.3 1109.3 L1761.3 1109.3 L1762.3 1109.3 L1763.3 1109.4 L1764.3 1109.4 L1765.3 1109.4 L1766.3 1109.5 L1767.3 1109.5 L1768.3 1109.5 L1769.3 1109.6 L1770.3 1109.6 L1771.3 1109.7 L1772.3 1109.7 L1773.3 1109.8 L1774.3 1109.8 L1775.3 1109.9 L1776.3 1109.9 L1777.3 1110 L1778.3 1110.1 L1779.3 1110.1 L1780.3 1110.2 L1781.3 1110.2 L1782.3 1110.3 L1783.3 1110.4 L1784.3 1110.4 L1785.3 1110.5 L1786.3 1110.6 L1787.3 1110.6 L1788.3 1110.7 L1789.3 1110.8 L1790.3 1110.9 L1791.3 1110.9 L1792.3 1111 L1793.3 1111.1 L1794.3 1111.2 L1795.3 1111.3 L1796.3 1111.4 L1797.3 1111.4 L1798.3 1111.5 L1799.3 1111.6 L1800.3 1111.7 L1801.3 1111.8 L1802.3 1111.9 L1803.3 1112 L1804.3 1112.1 L1805.3 1112.2 L1806.3 1112.3 L1807.3 1112.4 L1808.3 1112.5 L1809.3 1112.6 L1810.3 1112.7 L1811.3 1112.8 L1812.3 1112.9 L1813.3 1113 L1814.3 1113.1 L1815.3 1113.2 L1816.3 1113.3 L1817.3 1113.4 L1818.3 1113.5 L1819.3 1113.6 L1820.3 1113.7 L1821.3 1113.9 L1822.3 1114 L1823.3 1114.1 L1824.3 1114.2 L1825.3 1114.3 L1826.3 1114.4 L1827.3 1114.5 L1828.3 1114.7 L1829.3 1114.8 L1830.3 1114.9 L1831.3 1115 L1832.3 1115.1 L1833.3 1115.3 L1834.3 1115.4 L1835.3 1115.5 L1836.3 1115.6 L1837.3 1115.7 L1838.3 1115.9 L1839.3 1116 L1840.3 1116.1 L1841.3 1116.2 L1842.3 1116.4 L1843.3 1116.5 L1844.3 1116.6 L1845.3 1116.7 L1846.3 1116.9 L1847.3 1117 L1848.3 1117.1 L1849.3 1117.2 L1850.3 1117.4 L1851.3 1117.5 L1852.3 1117.6 L1853.3 1117.7 L1854.3 1117.9 L1855.3 1118 L1856.3 1118.1 L1857.3 1118.2 L1858.3 1118.4 L1859.3 1118.5 L1860.3 1118.6 L1861.3 1118.8 L1862.3 1118.9 L1863.3 1119 L1864.3 1119.2 L1865.3 1119.3 L1866.3 1119.4 L1867.3 1119.5 L1868.3 1119.7 L1869.3 1119.8 L1870.3 1119.9 L1871.3 1120.1 L1872.3 1120.2 L1873.3 1120.3 L1874.3 1120.5 L1875.3 1120.6 L1876.3 1120.7 L1877.3 1120.9 L1878.3 1121 L1879.3 1121.1 L1880.3 1121.3 L1881.3 1121.4 L1882.3 1121.5 L1883.3 1121.7 L1884.3 1121.8 L1885.3 1121.9 L1886.3 1122.1 L1887.3 1122.2 L1888.3 1122.3 L1889.3 1122.5 L1890.3 1122.6 L1891.3 1122.7 L1892.3 1122.9 L1893.3 1123 L1894.3 1123.1 L1895.3 1123.3 L1896.3 1123.4 L1897.3 1123.5 L1898.3 1123.7 L1899.3 1123.8 L1900.3 1123.9 L1901.3 1124.1 L1902.3 1124.2 L1903.3 1124.3 L1904.3 1124.5 L1905.3 1124.6 L1906.3 1124.8 L1907.3 1124.9 L1908.3 1125 L1909.3 1125.2 L1910.3 1125.3 L1911.3 1125.4 L1912.3 1125.6 L1913.3 1125.7 L1914.3 1125.8 L1915.3 1126 L1916.3 1126.1 L1917.3 1126.2 L1918.3 1126.4 L1919.3 1126.5 L1920.3 1126.6 L1921.3 1126.8 L1922.3 1126.9 L1923.3 1127 L1924.3 1127.2 L1925.3 1127.3 L1926.3 1127.4 L1927.3 1127.6 L1928.3 1127.7 L1929.3 1127.8 L1930.3 1128 L1931.3 1128.1 L1932.3 1128.3 L1933.3 1128.4 L1934.3 1128.5 L1935.3 1128.7 L1936.3 1128.8 L1937.3 1128.9 L1938.3 1129.1 L1939.3 1129.2 L1940.3 1129.3 L1941.3 1129.5 L1942.3 1129.6 L1943.3 1129.7 L1944.3 1129.9 L1945.3 1130 L1946.3 1130.1 L1947.3 1130.3 L1948.3 1130.4 L1949.3 1130.5 L1950.3 1130.7 L1951.3 1130.8 L1952.3 1130.9 L1953.3 1131.1 L1954.3 1131.2 L1955.3 1131.3 L1956.3 1131.5 L1957.3 1131.6 L1958.3 1131.7 L1959.3 1131.9 L1960.3 1132 L1961.3 1132.1 L1962.3 1132.3 L1963.3 1132.4 L1964.3 1132.5 L1965.3 1132.6 L1966.3 1132.8 L1967.3 1132.9 L1968.3 1133 L1969.3 1133.2 L1970.3 1133.3 L1971.3 1133.4 L1972.3 1133.6 L1973.3 1133.7 L1974.3 1133.8 L1975.3 1134 L1976.3 1134.1 L1977.3 1134.2 L1978.3 1134.4 L1979.3 1134.5 L1980.3 1134.6 L1981.3 1134.8 L1982.3 1134.9 L1983.3 1135 L1984.3 1135.2 L1985.3 1135.3 L1986.3 1135.4 L1987.3 1135.6 L1988.3 1135.7 L1989.3 1135.8 L1990.3 1136 L1991.3 1136.1 L1992.3 1136.2 L1993.3 1136.4 L1994.3 1136.5 L1995.3 1136.6 L1996.3 1136.8 L1997.3 1136.9 L1998.3 1137 L1999.3 1137.2 L2000.3 1137.3 L2001.3 1137.4 L2002.3 1137.6 L2003.3 1137.7 L2004.3 1137.8 L2005.3 1138 L2006.3 1138.1 L2007.3 1138.2 L2008.3 1138.4 L2009.3 1138.5 L2010.3 1138.6 L2011.3 1138.8 L2012.3 1138.9 L2013.3 1139 L2014.3 1139.2 L2015.3 1139.3 L2016.3 1139.4 L2017.3 1139.6 L2018.3 1139.7 L2019.3 1139.8 L2020.3 1140 L2021.3 1140.1 L2022.3 1140.2 L2023.3 1140.4 L2024.3 1140.5 L2025.3 1140.6 L2026.3 1140.7 L2027.3 1140.9 L2028.3 1141 L2029.3 1141.1 L2030.3 1141.3 L2031.3 1141.4 L2032.3 1141.5 L2033.3 1141.7 L2034.3 1141.8 L2035.3 1141.9 L2036.3 1142.1 L2037.3 1142.2 L2038.3 1142.3 L2039.3 1142.5 L2040.3 1142.6 L2041.3 1142.7 L2042.3 1142.9 L2043.3 1143 L2044.3 1143.1 L2045.3 1143.2 L2046.3 1143.4 L2047.3 1143.5 L2048.3 1143.6 L2049.3 1143.8 L2050.3 1143.9 L2051.3 1144 L2052.3 1144.2 L2053.3 1144.3 L2054.3 1144.4 L2055.3 1144.5 L2056.3 1144.7 L2057.3 1144.8 L2058.3 1144.9 L2059.3 1145.1 L2060.3 1145.2 L2061.3 1145.3 L2062.3 1145.4 L2062.8 1145.5" fill="none" stroke="#006E35" stroke-width="5.0" stroke-dasharray="27 25" stroke-linejoin="round"/>
<path d="M1327 1399.8 L1328 1399.8 L1329 1399.8 L1330 1399.8 L1331 1399.8 L1332 1399.8 L1333 1399.8 L1334 1399.8 L1335 1399.8 L1336 1399.8 L1337 1399.7 L1338 1399.7 L1339 1399.7 L1340 1399.7 L1341 1399.7 L1342 1399.7 L1343 1399.7 L1344 1399.7 L1345 1399.7 L1346 1399.7 L1347 1399.7 L1348 1399.7 L1349 1399.7 L1350 1399.7 L1351 1399.7 L1352 1399.7 L1353 1399.7 L1354 1399.7 L1355 1399.6 L1356 1399.6 L1357 1399.5 L1358 1399.4 L1359 1399.3 L1360 1399.2 L1361 1399.1 L1362 1399 L1363 1398.8 L1364 1398.6 L1365 1398.5 L1366 1398.2 L1367 1398 L1368 1397.7 L1369 1397.5 L1370 1397.2 L1371 1396.8 L1372 1396.5 L1373 1396.1 L1374 1395.8 L1375 1395.4 L1376 1395 L1377 1394.6 L1378 1394.1 L1379 1393.7 L1380 1393.3 L1381 1392.8 L1382 1392.4 L1383 1391.9 L1384 1391.5 L1385 1391 L1386 1390.6 L1387 1390.1 L1388 1389.6 L1389 1389.2 L1390 1388.7 L1391 1388.2 L1392 1387.8 L1393 1387.3 L1394 1386.8 L1395 1386.3 L1396 1385.8 L1397 1385.3 L1398 1384.8 L1399 1384.3 L1400 1383.8 L1401 1383.3 L1402 1382.7 L1403 1382.2 L1404 1381.6 L1405 1381 L1406 1380.4 L1407 1379.8 L1408 1379.1 L1409 1378.5 L1410 1377.8 L1411 1377 L1412 1376.3 L1413 1375.5 L1414 1374.7 L1415 1373.9 L1416 1373.1 L1417 1372.2 L1418 1371.3 L1419 1370.4 L1420 1369.5 L1421 1368.6 L1422 1367.6 L1423 1366.7 L1424 1365.7 L1425 1364.7 L1426 1363.7 L1427 1362.8 L1428 1361.8 L1429 1360.8 L1430 1359.8 L1431 1358.8 L1432 1357.8 L1433 1356.8 L1434 1355.7 L1435 1354.7 L1436 1353.6 L1437 1352.6 L1438 1351.5 L1439 1350.4 L1440 1349.3 L1441 1348.2 L1442 1347 L1443 1345.8 L1444 1344.6 L1445 1343.4 L1446 1342.1 L1447 1340.8 L1448 1339.4 L1449 1338 L1450 1336.6 L1451 1335.1 L1452 1333.6 L1453 1332.1 L1454 1330.6 L1455 1329.2 L1456 1327.7 L1457 1326.3 L1458 1324.8 L1459 1323.4 L1460 1322 L1461 1320.7 L1462 1319.3 L1463 1317.9 L1464 1316.6 L1465 1315.3 L1466 1313.9 L1467 1312.6 L1468 1311.2 L1469 1309.9 L1470 1308.6 L1471 1307.2 L1472 1305.9 L1473 1304.5 L1474 1303.1 L1475 1301.8 L1476 1300.4 L1477 1299 L1478 1297.6 L1479 1296.2 L1480 1294.8 L1481 1293.4 L1482 1292 L1483 1290.6 L1484 1289.2 L1485 1287.8 L1486 1286.4 L1487 1284.9 L1488 1283.5 L1489 1282 L1490 1280.6 L1491 1279.1 L1492 1277.6 L1493 1276.2 L1494 1274.7 L1495 1273.2 L1496 1271.7 L1497 1270.2 L1498 1268.7 L1499 1267.1 L1500 1265.6 L1501 1264.1 L1502 1262.5 L1503 1261 L1504 1259.4 L1505 1257.8 L1506 1256.2 L1507 1254.6 L1508 1253 L1509 1251.4 L1510 1249.8 L1511 1248.2 L1512 1246.6 L1513 1244.9 L1514 1243.3 L1515 1241.7 L1516 1240.1 L1517 1238.4 L1518 1236.8 L1519 1235.2 L1520 1233.6 L1521 1232 L1522 1230.4 L1523 1228.8 L1524 1227.2 L1525 1225.6 L1526 1224 L1527 1222.4 L1528 1220.9 L1529 1219.3 L1530 1217.8 L1531 1216.2 L1532 1214.7 L1533 1213.1 L1534 1211.6 L1535 1210.1 L1536 1208.6 L1537 1207.1 L1538 1205.6 L1539 1204.1 L1540 1202.6 L1541 1201.1 L1542 1199.6 L1543 1198.1 L1544 1196.6 L1545 1195.1 L1546 1193.7 L1547 1192.2 L1548 1190.7 L1549 1189.2 L1550 1187.8 L1551 1186.3 L1552 1184.8 L1553 1183.3 L1554 1181.8 L1555 1180.3 L1556 1178.7 L1557 1177.2 L1558 1175.6 L1559 1174.1 L1560 1172.5 L1561 1170.9 L1562 1169.3 L1563 1167.7 L1564 1166.2 L1565 1164.6 L1566 1163 L1567 1161.4 L1568 1159.9 L1569 1158.3 L1570 1156.8 L1571 1155.2 L1572 1153.7 L1573 1152.2 L1574 1150.7 L1575 1149.2 L1576 1147.8 L1577 1146.3 L1578 1144.8 L1579 1143.4 L1580 1142 L1581 1140.5 L1582 1139.1 L1583 1137.7 L1584 1136.3 L1585 1135 L1586 1133.6 L1587 1132.2 L1588 1130.9 L1589 1129.6 L1590 1128.2 L1591 1126.9 L1592 1125.6 L1593 1124.3 L1594 1123 L1595 1121.7 L1596 1120.5 L1597 1119.2 L1598 1118 L1599 1116.7 L1600 1115.5 L1601 1114.3 L1602 1113.1 L1603 1111.9 L1604 1110.7 L1605 1109.5 L1606 1108.3 L1607 1107.1 L1608 1106 L1609 1104.8 L1610 1103.6 L1611 1102.5 L1612 1101.4 L1613 1100.3 L1614 1099.1 L1615 1098 L1616 1096.9 L1617 1095.9 L1618 1094.8 L1619 1093.7 L1620 1092.7 L1621 1091.6 L1622 1090.6 L1623 1089.6 L1624 1088.6 L1625 1087.6 L1626 1086.6 L1627 1085.6 L1628 1084.7 L1629 1083.7 L1630 1082.8 L1631 1081.9 L1632 1081 L1633 1080.1 L1634 1079.2 L1635 1078.3 L1636 1077.4 L1637 1076.6 L1638 1075.7 L1639 1074.9 L1640 1074 L1641 1073.2 L1642 1072.4 L1643 1071.5 L1644 1070.7 L1645 1069.9 L1646 1069.1 L1647 1068.3 L1648 1067.5 L1649 1066.7 L1650 1065.9 L1651 1065.1 L1652 1064.3 L1653 1063.6 L1654 1062.8 L1655 1062 L1656 1061.3 L1657 1060.5 L1658 1059.8 L1659 1059.1 L1660 1058.4 L1661 1057.6 L1662 1056.9 L1663 1056.2 L1664 1055.5 L1665 1054.9 L1666 1054.2 L1667 1053.5 L1668 1052.9 L1669 1052.2 L1670 1051.6 L1671 1051 L1672 1050.3 L1673 1049.7 L1674 1049.1 L1675 1048.5 L1676 1047.9 L1677 1047.3 L1678 1046.7 L1679 1046.1 L1680 1045.5 L1681 1044.9 L1682 1044.3 L1683 1043.7 L1684 1043.1 L1685 1042.6 L1686 1042 L1687 1041.4 L1688 1040.8 L1689 1040.2 L1690 1039.7 L1691 1039.1 L1692 1038.5 L1693 1038 L1694 1037.4 L1695 1036.8 L1696 1036.3 L1697 1035.7 L1698 1035.2 L1699 1034.7 L1700 1034.1 L1701 1033.6 L1702 1033.1 L1703 1032.6 L1704 1032.1 L1705 1031.6 L1706 1031.1 L1707 1030.7 L1708 1030.2 L1709 1029.7 L1710 1029.3 L1711 1028.8 L1712 1028.4 L1713 1028 L1714 1027.6 L1715 1027.2 L1716 1026.8 L1717 1026.4 L1718 1026 L1719 1025.6 L1720 1025.2 L1721 1024.8 L1722 1024.5 L1723 1024.1 L1724 1023.8 L1725 1023.4 L1726 1023.1 L1727 1022.7 L1728 1022.4 L1729 1022.1 L1730 1021.8 L1731 1021.4 L1732 1021.1 L1733 1020.8 L1734 1020.5 L1735 1020.2 L1736 1019.9 L1737 1019.6 L1738 1019.4 L1739 1019.1 L1740 1018.8 L1741 1018.5 L1742 1018.2 L1743 1018 L1744 1017.7 L1745 1017.4 L1746 1017.1 L1747 1016.9 L1748 1016.6 L1749 1016.3 L1750 1016.1 L1751 1015.8 L1752 1015.6 L1753 1015.3 L1754 1015 L1755 1014.8 L1756 1014.5 L1757 1014.2 L1758 1014 L1759 1013.7 L1760 1013.5 L1761 1013.2 L1762 1013 L1763 1012.7 L1764 1012.5 L1765 1012.2 L1766 1012 L1767 1011.7 L1768 1011.5 L1769 1011.3 L1770 1011 L1771 1010.8 L1772 1010.6 L1773 1010.3 L1774 1010.1 L1775 1009.9 L1776 1009.7 L1777 1009.5 L1778 1009.3 L1779 1009 L1780 1008.8 L1781 1008.7 L1782 1008.5 L1783 1008.3 L1784 1008.1 L1785 1007.9 L1786 1007.7 L1787 1007.5 L1788 1007.4 L1789 1007.2 L1790 1007 L1791 1006.9 L1792 1006.7 L1793 1006.5 L1794 1006.4 L1795 1006.2 L1796 1006.1 L1797 1005.9 L1798 1005.8 L1799 1005.7 L1800 1005.5 L1801 1005.4 L1802 1005.3 L1803 1005.1 L1804 1005 L1805 1004.9 L1806 1004.8 L1807 1004.6 L1808 1004.5 L1809 1004.4 L1810 1004.3 L1811 1004.2 L1812 1004.1 L1813 1004 L1814 1003.8 L1815 1003.7 L1816 1003.6 L1817 1003.5 L1818 1003.4 L1819 1003.3 L1820 1003.2 L1821 1003.1 L1822 1003 L1823 1002.9 L1824 1002.7 L1825 1002.6 L1826 1002.5 L1827 1002.4 L1828 1002.3 L1829 1002.2 L1830 1002.1 L1831 1002 L1832 1001.9 L1833 1001.8 L1834 1001.7 L1835 1001.6 L1836 1001.5 L1837 1001.4 L1838 1001.3 L1839 1001.2 L1840 1001.1 L1841 1001.1 L1842 1001 L1843 1000.9 L1844 1000.9 L1845 1000.8 L1846 1000.7 L1847 1000.7 L1848 1000.7 L1849 1000.6 L1850 1000.6 L1851 1000.5 L1852 1000.5 L1853 1000.5 L1854 1000.5 L1855 1000.5 L1856 1000.4 L1857 1000.4 L1858 1000.4 L1859 1000.4 L1860 1000.4 L1861 1000.4 L1862 1000.4 L1863 1000.4 L1864 1000.4 L1865 1000.4 L1866 1000.4 L1867 1000.4 L1868 1000.4 L1869 1000.4 L1870 1000.4 L1871 1000.4 L1872 1000.4 L1873 1000.4 L1874 1000.4 L1875 1000.4 L1876 1000.4 L1877 1000.4 L1878 1000.4 L1879 1000.4 L1880 1000.4 L1881 1000.4 L1882 1000.4 L1883 1000.4 L1884 1000.4 L1885 1000.4 L1886 1000.4 L1887 1000.4 L1888 1000.4 L1889 1000.4 L1890 1000.4 L1891 1000.4 L1892 1000.4 L1893 1000.4 L1894 1000.4 L1895 1000.4 L1896 1000.4 L1897 1000.4 L1898 1000.5 L1899 1000.5 L1900 1000.5 L1901 1000.5 L1902 1000.5 L1903 1000.5 L1904 1000.5 L1905 1000.6 L1906 1000.6 L1907 1000.6 L1908 1000.6 L1909 1000.6 L1910 1000.7 L1911 1000.7 L1912 1000.7 L1913 1000.8 L1914 1000.8 L1915 1000.8 L1916 1000.9 L1917 1000.9 L1918 1001 L1919 1001 L1920 1001 L1921 1001.1 L1922 1001.1 L1923 1001.2 L1924 1001.2 L1925 1001.3 L1926 1001.3 L1927 1001.4 L1928 1001.4 L1929 1001.5 L1930 1001.5 L1931 1001.6 L1932 1001.6 L1933 1001.7 L1934 1001.7 L1935 1001.8 L1936 1001.8 L1937 1001.9 L1938 1002 L1939 1002 L1940 1002.1 L1941 1002.1 L1942 1002.2 L1943 1002.2 L1944 1002.2 L1945 1002.3 L1946 1002.3 L1947 1002.4 L1948 1002.4 L1949 1002.5 L1950 1002.5 L1951 1002.6 L1952 1002.6 L1953 1002.7 L1954 1002.7 L1955 1002.8 L1956 1002.8 L1957 1002.8 L1958 1002.9 L1959 1002.9 L1960 1003 L1961 1003 L1962 1003.1 L1963 1003.1 L1964 1003.2 L1965 1003.2 L1966 1003.3 L1967 1003.3 L1968 1003.4 L1969 1003.4 L1970 1003.5 L1971 1003.5 L1972 1003.6 L1973 1003.6 L1974 1003.7 L1975 1003.7 L1976 1003.8 L1977 1003.8 L1978 1003.9 L1979 1003.9 L1980 1004 L1981 1004.1 L1982 1004.1 L1983 1004.2 L1984 1004.2 L1985 1004.3 L1986 1004.4 L1987 1004.4 L1988 1004.5 L1989 1004.6 L1990 1004.6 L1991 1004.7 L1992 1004.8 L1993 1004.8 L1994 1004.9 L1995 1005 L1996 1005 L1997 1005.1 L1998 1005.2 L1999 1005.2 L2000 1005.3 L2001 1005.4 L2002 1005.4 L2003 1005.5 L2004 1005.6 L2005 1005.6 L2006 1005.7 L2007 1005.7 L2008 1005.8 L2009 1005.8 L2010 1005.9 L2011 1006 L2012 1006 L2013 1006.1 L2014 1006.1 L2015 1006.2 L2016 1006.2 L2017 1006.3 L2018 1006.3 L2019 1006.3 L2020 1006.4 L2021 1006.4 L2022 1006.5 L2023 1006.5 L2024 1006.6 L2025 1006.6 L2026 1006.7 L2027 1006.7 L2028 1006.8 L2029 1006.9 L2030 1006.9 L2031 1007 L2032 1007 L2033 1007.1 L2034 1007.2 L2035 1007.2 L2036 1007.3 L2037 1007.4 L2038 1007.5 L2039 1007.5 L2040 1007.6 L2041 1007.7 L2042 1007.8 L2043 1007.8 L2044 1007.9 L2045 1008 L2046 1008.1 L2047 1008.2 L2048 1008.2 L2049 1008.3 L2050 1008.4 L2051 1008.5 L2052 1008.5 L2053 1008.6 L2054 1008.7 L2055 1008.8 L2056 1008.8 L2057 1008.9 L2058 1008.9 L2059 1009 L2060 1009.1 L2061 1009.1 L2062 1009.2 L2062.8 1009.2" fill="none" stroke="#E11E19" stroke-width="5.0" stroke-dasharray="14 9.6" stroke-linejoin="round"/>
<path d="M1327.7 1400.7 L1328.7 1400.7 L1329.7 1400.7 L1330.7 1400.7 L1331.7 1400.7 L1332.7 1400.7 L1333.7 1400.7 L1334.7 1400.7 L1335.7 1400.7 L1336.7 1400.7 L1337.7 1400.6 L1338.7 1400.6 L1339.7 1400.6 L1340.7 1400.6 L1341.7 1400.6 L1342.7 1400.6 L1343.7 1400.6 L1344.7 1400.6 L1345.7 1400.6 L1346.7 1400.6 L1347.7 1400.6 L1348.7 1400.6 L1349.7 1400.6 L1350.7 1400.6 L1351.7 1400.6 L1352.7 1400.6 L1353.7 1400.6 L1354.7 1400.6 L1355.7 1400.5 L1356.7 1400.5 L1357.7 1400.4 L1358.7 1400.3 L1359.7 1400.2 L1360.7 1400.1 L1361.7 1400 L1362.7 1399.9 L1363.7 1399.7 L1364.7 1399.5 L1365.7 1399.4 L1366.7 1399.1 L1367.7 1398.9 L1368.7 1398.6 L1369.7 1398.4 L1370.7 1398.1 L1371.7 1397.7 L1372.7 1397.4 L1373.7 1397 L1374.7 1396.7 L1375.7 1396.3 L1376.7 1395.9 L1377.7 1395.5 L1378.7 1395 L1379.7 1394.6 L1380.7 1394.2 L1381.7 1393.7 L1382.7 1393.3 L1383.7 1392.8 L1384.7 1392.4 L1385.7 1391.9 L1386.7 1391.5 L1387.7 1391 L1388.7 1390.5 L1389.7 1390.1 L1390.7 1389.6 L1391.7 1389.1 L1392.7 1388.7 L1393.7 1388.2 L1394.7 1387.7 L1395.7 1387.2 L1396.7 1386.7 L1397.7 1386.2 L1398.7 1385.7 L1399.7 1385.2 L1400.7 1384.7 L1401.7 1384.2 L1402.7 1383.6 L1403.7 1383.1 L1404.7 1382.5 L1405.7 1381.9 L1406.7 1381.3 L1407.7 1380.7 L1408.7 1380 L1409.7 1379.4 L1410.7 1378.7 L1411.7 1377.9 L1412.7 1377.2 L1413.7 1376.4 L1414.7 1375.6 L1415.7 1374.8 L1416.7 1374 L1417.7 1373.1 L1418.7 1372.2 L1419.7 1371.3 L1420.7 1370.4 L1421.7 1369.5 L1422.7 1368.5 L1423.7 1367.6 L1424.7 1366.6 L1425.7 1365.6 L1426.7 1364.6 L1427.7 1363.7 L1428.7 1362.7 L1429.7 1361.7 L1430.7 1360.7 L1431.7 1359.7 L1432.7 1358.7 L1433.7 1357.7 L1434.7 1356.6 L1435.7 1355.6 L1436.7 1354.5 L1437.7 1353.5 L1438.7 1352.4 L1439.7 1351.3 L1440.7 1350.2 L1441.7 1349.1 L1442.7 1347.9 L1443.7 1346.7 L1444.7 1345.5 L1445.7 1344.3 L1446.7 1343 L1447.7 1341.7 L1448.7 1340.3 L1449.7 1338.9 L1450.7 1337.5 L1451.7 1336 L1452.7 1334.5 L1453.7 1333 L1454.7 1331.5 L1455.7 1330.1 L1456.7 1328.6 L1457.7 1327.2 L1458.7 1325.7 L1459.7 1324.3 L1460.7 1322.9 L1461.7 1321.6 L1462.7 1320.2 L1463.7 1318.8 L1464.7 1317.5 L1465.7 1316.2 L1466.7 1314.8 L1467.7 1313.5 L1468.7 1312.1 L1469.7 1310.8 L1470.7 1309.5 L1471.7 1308.1 L1472.7 1306.8 L1473.7 1305.4 L1474.7 1304 L1475.7 1302.7 L1476.7 1301.3 L1477.7 1299.9 L1478.7 1298.5 L1479.7 1297.1 L1480.7 1295.7 L1481.7 1294.3 L1482.7 1292.9 L1483.7 1291.5 L1484.7 1290.1 L1485.7 1288.7 L1486.7 1287.3 L1487.7 1285.8 L1488.7 1284.4 L1489.7 1282.9 L1490.7 1281.5 L1491.7 1280 L1492.7 1278.5 L1493.7 1277.1 L1494.7 1275.6 L1495.7 1274.1 L1496.7 1272.6 L1497.7 1271.1 L1498.7 1269.6 L1499.7 1268 L1500.7 1266.5 L1501.7 1265 L1502.7 1263.4 L1503.7 1261.9 L1504.7 1260.3 L1505.7 1258.7 L1506.7 1257.1 L1507.7 1255.5 L1508.7 1253.9 L1509.7 1252.3 L1510.7 1250.7 L1511.7 1249.1 L1512.7 1247.5 L1513.7 1245.8 L1514.7 1244.2 L1515.7 1242.6 L1516.7 1241 L1517.7 1239.3 L1518.7 1237.7 L1519.7 1236.1 L1520.7 1234.5 L1521.7 1232.9 L1522.7 1231.3 L1523.7 1229.7 L1524.7 1228.1 L1525.7 1226.5 L1526.7 1225 L1527.7 1223.4 L1528.7 1221.8 L1529.7 1220.3 L1530.7 1218.7 L1531.7 1217.2 L1532.7 1215.7 L1533.7 1214.1 L1534.7 1212.6 L1535.7 1211.1 L1536.7 1209.5 L1537.7 1208 L1538.7 1206.5 L1539.7 1205 L1540.7 1203.5 L1541.7 1201.9 L1542.7 1200.4 L1543.7 1198.9 L1544.7 1197.4 L1545.7 1195.8 L1546.7 1194.3 L1547.7 1192.8 L1548.7 1191.2 L1549.7 1189.7 L1550.7 1188.1 L1551.7 1186.6 L1552.7 1185 L1553.7 1183.4 L1554.7 1181.8 L1555.7 1180.2 L1556.7 1178.6 L1557.7 1177 L1558.7 1175.4 L1559.7 1173.7 L1560.7 1172.1 L1561.7 1170.5 L1562.7 1168.8 L1563.7 1167.2 L1564.7 1165.6 L1565.7 1163.9 L1566.7 1162.3 L1567.7 1160.8 L1568.7 1159.2 L1569.7 1157.7 L1570.7 1156.2 L1571.7 1154.7 L1572.7 1153.2 L1573.7 1151.7 L1574.7 1150.3 L1575.7 1148.9 L1576.7 1147.4 L1577.7 1146 L1578.7 1144.6 L1579.7 1143.2 L1580.7 1141.8 L1581.7 1140.4 L1582.7 1138.9 L1583.7 1137.5 L1584.7 1136.1 L1585.7 1134.7 L1586.7 1133.2 L1587.7 1131.8 L1588.7 1130.4 L1589.7 1129 L1590.7 1127.5 L1591.7 1126.1 L1592.7 1124.7 L1593.7 1123.3 L1594.7 1121.9 L1595.7 1120.5 L1596.7 1119.1 L1597.7 1117.7 L1598.7 1116.3 L1599.7 1114.9 L1600.7 1113.6 L1601.7 1112.2 L1602.7 1110.8 L1603.7 1109.5 L1604.7 1108.1 L1605.7 1106.7 L1606.7 1105.4 L1607.7 1104 L1608.7 1102.7 L1609.7 1101.3 L1610.7 1099.9 L1611.7 1098.6 L1612.7 1097.2 L1613.7 1095.9 L1614.7 1094.5 L1615.7 1093.2 L1616.7 1091.8 L1617.7 1090.5 L1618.7 1089.1 L1619.7 1087.8 L1620.7 1086.4 L1621.7 1085.1 L1622.7 1083.8 L1623.7 1082.4 L1624.7 1081.1 L1625.7 1079.8 L1626.7 1078.6 L1627.7 1077.3 L1628.7 1076 L1629.7 1074.8 L1630.7 1073.5 L1631.7 1072.3 L1632.7 1071.1 L1633.7 1069.9 L1634.7 1068.7 L1635.7 1067.6 L1636.7 1066.4 L1637.7 1065.3 L1638.7 1064.2 L1639.7 1063.1 L1640.7 1062 L1641.7 1060.9 L1642.7 1059.8 L1643.7 1058.8 L1644.7 1057.7 L1645.7 1056.7 L1646.7 1055.6 L1647.7 1054.6 L1648.7 1053.6 L1649.7 1052.5 L1650.7 1051.5 L1651.7 1050.5 L1652.7 1049.5 L1653.7 1048.4 L1654.7 1047.4 L1655.7 1046.4 L1656.7 1045.4 L1657.7 1044.3 L1658.7 1043.3 L1659.7 1042.3 L1660.7 1041.3 L1661.7 1040.3 L1662.7 1039.3 L1663.7 1038.3 L1664.7 1037.2 L1665.7 1036.2 L1666.7 1035.2 L1667.7 1034.3 L1668.7 1033.3 L1669.7 1032.3 L1670.7 1031.3 L1671.7 1030.3 L1672.7 1029.4 L1673.7 1028.4 L1674.7 1027.5 L1675.7 1026.5 L1676.7 1025.6 L1677.7 1024.7 L1678.7 1023.8 L1679.7 1022.9 L1680.7 1022 L1681.7 1021.1 L1682.7 1020.2 L1683.7 1019.4 L1684.7 1018.5 L1685.7 1017.7 L1686.7 1016.8 L1687.7 1016 L1688.7 1015.2 L1689.7 1014.4 L1690.7 1013.5 L1691.7 1012.7 L1692.7 1011.9 L1693.7 1011.1 L1694.7 1010.3 L1695.7 1009.6 L1696.7 1008.8 L1697.7 1008 L1698.7 1007.2 L1699.7 1006.5 L1700.7 1005.7 L1701.7 1004.9 L1702.7 1004.2 L1703.7 1003.4 L1704.7 1002.7 L1705.7 1001.9 L1706.7 1001.2 L1707.7 1000.5 L1708.7 999.7 L1709.7 999 L1710.7 998.2 L1711.7 997.5 L1712.7 996.8 L1713.7 996.1 L1714.7 995.4 L1715.7 994.7 L1716.7 993.9 L1717.7 993.2 L1718.7 992.5 L1719.7 991.8 L1720.7 991.1 L1721.7 990.5 L1722.7 989.8 L1723.7 989.1 L1724.7 988.4 L1725.7 987.7 L1726.7 987.1 L1727.7 986.4 L1728.7 985.8 L1729.7 985.1 L1730.7 984.4 L1731.7 983.8 L1732.7 983.2 L1733.7 982.5 L1734.7 981.9 L1735.7 981.3 L1736.7 980.6 L1737.7 980 L1738.7 979.4 L1739.7 978.8 L1740.7 978.2 L1741.7 977.6 L1742.7 977 L1743.7 976.4 L1744.7 975.8 L1745.7 975.3 L1746.7 974.7 L1747.7 974.1 L1748.7 973.6 L1749.7 973 L1750.7 972.5 L1751.7 971.9 L1752.7 971.4 L1753.7 970.8 L1754.7 970.3 L1755.7 969.8 L1756.7 969.3 L1757.7 968.8 L1758.7 968.3 L1759.7 967.8 L1760.7 967.3 L1761.7 966.8 L1762.7 966.3 L1763.7 965.8 L1764.7 965.4 L1765.7 964.9 L1766.7 964.5 L1767.7 964 L1768.7 963.6 L1769.7 963.1 L1770.7 962.7 L1771.7 962.2 L1772.7 961.8 L1773.7 961.4 L1774.7 961 L1775.7 960.5 L1776.7 960.1 L1777.7 959.7 L1778.7 959.3 L1779.7 958.9 L1780.7 958.5 L1781.7 958.1 L1782.7 957.7 L1783.7 957.3 L1784.7 956.9 L1785.7 956.5 L1786.7 956.1 L1787.7 955.8 L1788.7 955.4 L1789.7 955 L1790.7 954.6 L1791.7 954.2 L1792.7 953.9 L1793.7 953.5 L1794.7 953.1 L1795.7 952.7 L1796.7 952.4 L1797.7 952 L1798.7 951.6 L1799.7 951.3 L1800.7 950.9 L1801.7 950.5 L1802.7 950.2 L1803.7 949.8 L1804.7 949.5 L1805.7 949.1 L1806.7 948.7 L1807.7 948.4 L1808.7 948 L1809.7 947.7 L1810.7 947.3 L1811.7 947 L1812.7 946.6 L1813.7 946.3 L1814.7 945.9 L1815.7 945.6 L1816.7 945.2 L1817.7 944.9 L1818.7 944.6 L1819.7 944.2 L1820.7 943.9 L1821.7 943.5 L1822.7 943.2 L1823.7 942.9 L1824.7 942.5 L1825.7 942.2 L1826.7 941.9 L1827.7 941.5 L1828.7 941.2 L1829.7 940.9 L1830.7 940.5 L1831.7 940.2 L1832.7 939.9 L1833.7 939.6 L1834.7 939.3 L1835.7 939 L1836.7 938.7 L1837.7 938.4 L1838.7 938.1 L1839.7 937.8 L1840.7 937.5 L1841.7 937.2 L1842.7 936.9 L1843.7 936.6 L1844.7 936.3 L1845.7 936.1 L1846.7 935.8 L1847.7 935.5 L1848.7 935.3 L1849.7 935 L1850.7 934.8 L1851.7 934.5 L1852.7 934.3 L1853.7 934 L1854.7 933.8 L1855.7 933.6 L1856.7 933.4 L1857.7 933.1 L1858.7 932.9 L1859.7 932.7 L1860.7 932.5 L1861.7 932.3 L1862.7 932.1 L1863.7 931.9 L1864.7 931.7 L1865.7 931.5 L1866.7 931.3 L1867.7 931.1 L1868.7 931 L1869.7 930.8 L1870.7 930.6 L1871.7 930.4 L1872.7 930.2 L1873.7 930.1 L1874.7 929.9 L1875.7 929.7 L1876.7 929.6 L1877.7 929.4 L1878.7 929.2 L1879.7 929.1 L1880.7 928.9 L1881.7 928.7 L1882.7 928.6 L1883.7 928.4 L1884.7 928.3 L1885.7 928.1 L1886.7 927.9 L1887.7 927.8 L1888.7 927.6 L1889.7 927.5 L1890.7 927.3 L1891.7 927.1 L1892.7 927 L1893.7 926.8 L1894.7 926.7 L1895.7 926.5 L1896.7 926.4 L1897.7 926.2 L1898.7 926.1 L1899.7 925.9 L1900.7 925.8 L1901.7 925.6 L1902.7 925.5 L1903.7 925.4 L1904.7 925.2 L1905.7 925.1 L1906.7 924.9 L1907.7 924.8 L1908.7 924.7 L1909.7 924.6 L1910.7 924.4 L1911.7 924.3 L1912.7 924.2 L1913.7 924.1 L1914.7 923.9 L1915.7 923.8 L1916.7 923.7 L1917.7 923.6 L1918.7 923.5 L1919.7 923.4 L1920.7 923.3 L1921.7 923.2 L1922.7 923.1 L1923.7 923 L1924.7 922.9 L1925.7 922.8 L1926.7 922.7 L1927.7 922.6 L1928.7 922.5 L1929.7 922.5 L1930.7 922.4 L1931.7 922.3 L1932.7 922.2 L1933.7 922.1 L1934.7 922 L1935.7 922 L1936.7 921.9 L1937.7 921.8 L1938.7 921.7 L1939.7 921.6 L1940.7 921.5 L1941.7 921.5 L1942.7 921.4 L1943.7 921.3 L1944.7 921.2 L1945.7 921.1 L1946.7 921.1 L1947.7 921 L1948.7 920.9 L1949.7 920.8 L1950.7 920.7 L1951.7 920.6 L1952.7 920.6 L1953.7 920.5 L1954.7 920.4 L1955.7 920.3 L1956.7 920.2 L1957.7 920.1 L1958.7 920 L1959.7 920 L1960.7 919.9 L1961.7 919.8 L1962.7 919.7 L1963.7 919.6 L1964.7 919.5 L1965.7 919.4 L1966.7 919.4 L1967.7 919.3 L1968.7 919.2 L1969.7 919.1 L1970.7 919 L1971.7 919 L1972.7 918.9 L1973.7 918.8 L1974.7 918.7 L1975.7 918.7 L1976.7 918.6 L1977.7 918.5 L1978.7 918.5 L1979.7 918.4 L1980.7 918.3 L1981.7 918.3 L1982.7 918.2 L1983.7 918.1 L1984.7 918.1 L1985.7 918 L1986.7 918 L1987.7 917.9 L1988.7 917.9 L1989.7 917.8 L1990.7 917.8 L1991.7 917.7 L1992.7 917.7 L1993.7 917.6 L1994.7 917.6 L1995.7 917.5 L1996.7 917.5 L1997.7 917.4 L1998.7 917.4 L1999.7 917.4 L2000.7 917.3 L2001.7 917.3 L2002.7 917.2 L2003.7 917.2 L2004.7 917.2 L2005.7 917.1 L2006.7 917.1 L2007.7 917.1 L2008.7 917 L2009.7 917 L2010.7 917 L2011.7 916.9 L2012.7 916.9 L2013.7 916.9 L2014.7 916.8 L2015.7 916.8 L2016.7 916.7 L2017.7 916.7 L2018.7 916.7 L2019.7 916.6 L2020.7 916.6 L2021.7 916.6 L2022.7 916.5 L2023.7 916.5 L2024.7 916.5 L2025.7 916.5 L2026.7 916.4 L2027.7 916.4 L2028.7 916.4 L2029.7 916.3 L2030.7 916.3 L2031.7 916.3 L2032.7 916.3 L2033.7 916.2 L2034.7 916.2 L2035.7 916.2 L2036.7 916.2 L2037.7 916.1 L2038.7 916.1 L2039.7 916.1 L2040.7 916.1 L2041.7 916.1 L2042.7 916.1 L2043.7 916 L2044.7 916 L2045.7 916 L2046.7 916 L2047.7 916 L2048.7 916 L2049.7 916 L2050.7 916 L2051.7 916 L2052.7 916 L2053.7 916 L2054.7 916 L2055.7 916 L2056.7 916 L2057.7 916 L2058.7 916 L2059.7 916 L2060.7 916 L2061.7 916 L2062.7 916 L2062.8 916" fill="none" stroke="#00408A" stroke-width="5.0" stroke-dasharray="32 12 9 12" stroke-linejoin="round"/>
</g>
<path d="M1284.3 817.8H2079.6V821H1284.3Z M1284.3 1399.5H2079.6V1404.2H1284.3Z M1284.3 817.8H1288.9V1404.2H1284.3Z M2075.3 817.8H2079.6V1404.2H2075.3Z" fill="#000"/>
<path d="M1286.5 1343.8H1295 M1365.6 1402V1393.5 M1286.5 1285.6H1300.5 M1444.7 1402V1388 M1286.5 1227.3H1295 M1523.8 1402V1393.5 M1286.5 1169.1H1300.5 M1602.9 1402V1388 M1286.5 1110.9H1295 M1682 1402V1393.5 M1286.5 1052.7H1300.5 M1761.1 1402V1388 M1286.5 994.5H1295 M1840.2 1402V1393.5 M1286.5 936.2H1300.5 M1919.3 1402V1388 M1286.5 878H1295 M1998.4 1402V1393.5" stroke="#000" stroke-width="3" fill="none"/>
<text transform="translate(1274.2 1413.4) scale(1 1.045)" class="tl" text-anchor="end">0.000</text>
<text transform="translate(1274.2 1297) scale(1 1.045)" class="tl" text-anchor="end">0.007</text>
<text transform="translate(1274.2 1180.5) scale(1 1.045)" class="tl" text-anchor="end">0.014</text>
<text transform="translate(1274.2 1064.1) scale(1 1.045)" class="tl" text-anchor="end">0.021</text>
<text transform="translate(1274.2 947.6) scale(1 1.045)" class="tl" text-anchor="end">0.028</text>
<text transform="translate(1274.2 831.2) scale(1 1.045)" class="tl" text-anchor="end">0.035</text>
<text transform="translate(1286.5 1445.9) scale(1 1.045)" class="tl" text-anchor="middle">0.00</text>
<text transform="translate(1444.7 1445.9) scale(1 1.045)" class="tl" text-anchor="middle">0.04</text>
<text transform="translate(1602.9 1445.9) scale(1 1.045)" class="tl" text-anchor="middle">0.08</text>
<text transform="translate(1761.1 1445.9) scale(1 1.045)" class="tl" text-anchor="middle">0.12</text>
<text transform="translate(1919.3 1445.9) scale(1 1.045)" class="tl" text-anchor="middle">0.16</text>
<text transform="translate(2077.5 1445.9) scale(1 1.045)" class="tl" text-anchor="middle">0.20</text>
<text x="640.2" y="768.2" class="xl" text-anchor="middle">Numerical aperture (NA)</text>
<text transform="translate(105.8 399.5) rotate(-90)" class="al" text-anchor="middle">Coupling efficiency(η)</text>
<text transform="translate(68.3 81.4) scale(1 0.94)" class="pl">(a)</text>
<text x="1682" y="768.2" class="xl" text-anchor="middle">Numerical aperture (NA)</text>
<text transform="translate(1146.5 398) rotate(-90)" class="al" text-anchor="middle">Coupling efficiency(η)</text>
<text transform="translate(1101.8 79) scale(1 0.94)" class="pl">(b)</text>
<text x="642.25" y="1513.1" class="xl" text-anchor="middle">Numerical aperture (NA)</text>
<text transform="translate(102.5 1140.2) rotate(-90)" class="al" text-anchor="middle">Coupling efficiency(η)</text>
<text transform="translate(68.5 829) scale(1 0.94)" class="pl">(c)</text>
<text x="1682.75" y="1511.4" class="xl" text-anchor="middle">Numerical aperture (NA)</text>
<text transform="translate(1126.5 1142.2) rotate(-90)" class="al" text-anchor="middle">Coupling efficiency(η)</text>
<text transform="translate(1101.8 828) scale(1 0.94)" class="pl">(d)</text>
<rect x="262.9" y="82.9" width="242.9" height="133.7" fill="#fff"/>
<path d="M262 82.9H506.7" stroke="#8a8a8a" stroke-width="1.8"/>
<path d="M262 216.6H506.7" stroke="#3a3a3a" stroke-width="1.8"/>
<path d="M505.8 82.9V216.6" stroke="#8a8a8a" stroke-width="1.8"/>
<path d="M262.9 82.9V216.6" stroke="#777" stroke-width="1.8"/>
<path d="M275 111.3H341" stroke="#006E35" stroke-width="5.0" stroke-dasharray="27 25"/>
<text x="346.3" y="122.2" class="lg">λ=1064nm</text>
<path d="M275 155.5H336.5" stroke="#E11E19" stroke-width="5.0" stroke-dasharray="14 9.6"/>
<text x="346.3" y="165.1" class="lg">λ=1310nm</text>
<path d="M275 199H328" stroke="#00408A" stroke-width="5.0" stroke-dasharray="32 12 9 12"/>
<text x="346.3" y="208.7" class="lg">λ=1550nm</text>
<rect x="1815.2" y="79.4" width="244.9" height="133.6" fill="#fff"/>
<path d="M1814.3 79.4H2061" stroke="#e2e2e2" stroke-width="1.8"/>
<path d="M1814.3 213H2061" stroke="#aaa" stroke-width="1.8"/>
<path d="M2060.1 79.4V213" stroke="#555" stroke-width="1.8"/>
<path d="M1815.2 79.4V213" stroke="#eee" stroke-width="1.8"/>
<path d="M1828.8 107.5H1894.8" stroke="#006E35" stroke-width="5.0" stroke-dasharray="27 25"/>
<text x="1900.3" y="116.9" class="lg">λ=1064nm</text>
<path d="M1828.8 151.4H1890.3" stroke="#E11E19" stroke-width="5.0" stroke-dasharray="14 9.6"/>
<text x="1900.3" y="160" class="lg">λ=1310nm</text>
<path d="M1828.8 195.8H1881.8" stroke="#00408A" stroke-width="5.0" stroke-dasharray="32 12 9 12"/>
<text x="1900.3" y="204.4" class="lg">λ=1550nm</text>
<rect x="256.8" y="821.1" width="246.6" height="134.4" fill="#fff"/>
<path d="M255.9 821.1H504.3" stroke="#999" stroke-width="1.8"/>
<path d="M255.9 955.5H504.3" stroke="#444" stroke-width="1.8"/>
<path d="M503.4 821.1V955.5" stroke="#444" stroke-width="1.8"/>
<path d="M256.8 821.1V955.5" stroke="#bbb" stroke-width="1.8"/>
<path d="M269.6 850H335.6" stroke="#006E35" stroke-width="5.0" stroke-dasharray="27 25"/>
<text x="342.3" y="858.1" class="lg">λ<tspan class="gq">=</tspan>1064nm</text>
<path d="M269.6 894.3H331.1" stroke="#E11E19" stroke-width="5.0" stroke-dasharray="14 9.6"/>
<text x="342.3" y="902.5" class="lg">λ=1310nm</text>
<path d="M269.6 937.7H322.6" stroke="#00408A" stroke-width="5.0" stroke-dasharray="32 12 9 12"/>
<text x="342.3" y="945.6" class="lg">λ=1550nm</text>
<rect x="1309.2" y="833.5" width="243.4" height="133.2" fill="#fff"/>
<path d="M1308.3 833.5H1553.5" stroke="#d0d0d0" stroke-width="1.8"/>
<path d="M1308.3 966.7H1553.5" stroke="#d0d0d0" stroke-width="1.8"/>
<path d="M1552.6 833.5V966.7" stroke="#777" stroke-width="1.8"/>
<path d="M1309.2 833.5V966.7" stroke="#d0d0d0" stroke-width="1.8"/>
<path d="M1322 862.3H1388" stroke="#006E35" stroke-width="5.0" stroke-dasharray="27 25"/>
<text x="1393.1" y="871.7" class="lg">λ=1064nm</text>
<path d="M1322 906.7H1383.5" stroke="#E11E19" stroke-width="5.0" stroke-dasharray="14 9.6"/>
<text x="1393.1" y="914.9" class="lg">λ=1310nm</text>
<path d="M1322 950.1H1375" stroke="#00408A" stroke-width="5.0" stroke-dasharray="32 12 9 12"/>
<text x="1393.1" y="958" class="lg">λ=1550nm</text>
<rect x="540.7" y="85.4" width="210.3" height="49.7" fill="#fff"/>
<path d="M539.9 85.4H751.8" stroke="#d8d8d8" stroke-width="1.6"/>
<path d="M539.9 135.1H751.8" stroke="#d0d0d0" stroke-width="1.6"/>
<path d="M751 85.4V135.1" stroke="#d8d8d8" stroke-width="1.6"/>
<path d="M540.7 85.4V135.1" stroke="#555" stroke-width="1.6"/>
<text x="552.9" y="126" class="an" font-style="italic">m</text>
<text x="582.1" y="126" class="an">=</text>
<text x="601.8" y="126" class="an">0</text>
<text x="634" y="126" class="an">δ</text>
<text x="651.4" y="134" class="sub">0</text>
<text x="649.3" y="126" class="an">=</text>
<text x="671" y="126" class="an">5</text>
<text x="689.1" y="126" class="an" textLength="53.5" lengthAdjust="spacingAndGlyphs">mm</text>
<rect x="1579.2" y="81.8" width="211.4" height="51.1" fill="#fff"/>
<path d="M1578.4 81.8H1791.4" stroke="#d8d8d8" stroke-width="1.6"/>
<path d="M1578.4 132.9H1791.4" stroke="#777" stroke-width="1.6"/>
<path d="M1790.6 81.8V132.9" stroke="#999" stroke-width="1.6"/>
<path d="M1579.2 81.8V132.9" stroke="#444" stroke-width="1.6"/>
<text x="1591.8" y="122.3" class="an" font-style="italic">m</text>
<text x="1621" y="122.3" class="an gq">=</text>
<text x="1640.7" y="122.3" class="an">1</text>
<text x="1672.9" y="122.3" class="an">δ</text>
<text x="1690.3" y="130.3" class="sub">0</text>
<text x="1688.2" y="122.3" class="an gq">=</text>
<text x="1709.9" y="122.3" class="an">5</text>
<text x="1728" y="122.3" class="an" textLength="53.5" lengthAdjust="spacingAndGlyphs">mm</text>
<rect x="537.9" y="821.8" width="210.6" height="52.8" fill="#fff"/>
<path d="M537.1 821.8H749.3" stroke="#505050" stroke-width="1.6"/>
<path d="M537.1 874.6H749.3" stroke="#404040" stroke-width="1.6"/>
<path d="M748.5 821.8V874.6" stroke="#404040" stroke-width="1.6"/>
<path d="M537.9 821.8V874.6" stroke="#505050" stroke-width="1.6"/>
<text x="549.7" y="863" class="an" font-style="italic">m</text>
<text x="578.9" y="863" class="an gq">=</text>
<text x="598.6" y="863" class="an">2</text>
<text x="630.8" y="863" class="an">δ</text>
<text x="648.2" y="871" class="sub">0</text>
<text x="646.1" y="863" class="an gq">=</text>
<text x="667.8" y="863" class="an">5</text>
<text x="685.9" y="863" class="an" textLength="53.5" lengthAdjust="spacingAndGlyphs">mm</text>
<rect x="1587.2" y="836" width="208.3" height="51.7" fill="#fff"/>
<path d="M1586.4 836H1796.3" stroke="#909090" stroke-width="1.6"/>
<path d="M1586.4 887.7H1796.3" stroke="#909090" stroke-width="1.6"/>
<path d="M1795.5 836V887.7" stroke="#999" stroke-width="1.6"/>
<path d="M1587.2 836V887.7" stroke="#c8c8c8" stroke-width="1.6"/>
<text x="1597.7" y="874.7" class="an" font-style="italic">m</text>
<text x="1626.9" y="874.7" class="an">=</text>
<text x="1646.6" y="874.7" class="an">3</text>
<text x="1678.8" y="874.7" class="an">δ</text>
<text x="1696.2" y="882.7" class="sub">0</text>
<text x="1694.1" y="874.7" class="an">=</text>
<text x="1715.8" y="874.7" class="an">5</text>
<text x="1733.9" y="874.7" class="an" textLength="53.5" lengthAdjust="spacingAndGlyphs">mm</text>
</svg>
</body></html>
